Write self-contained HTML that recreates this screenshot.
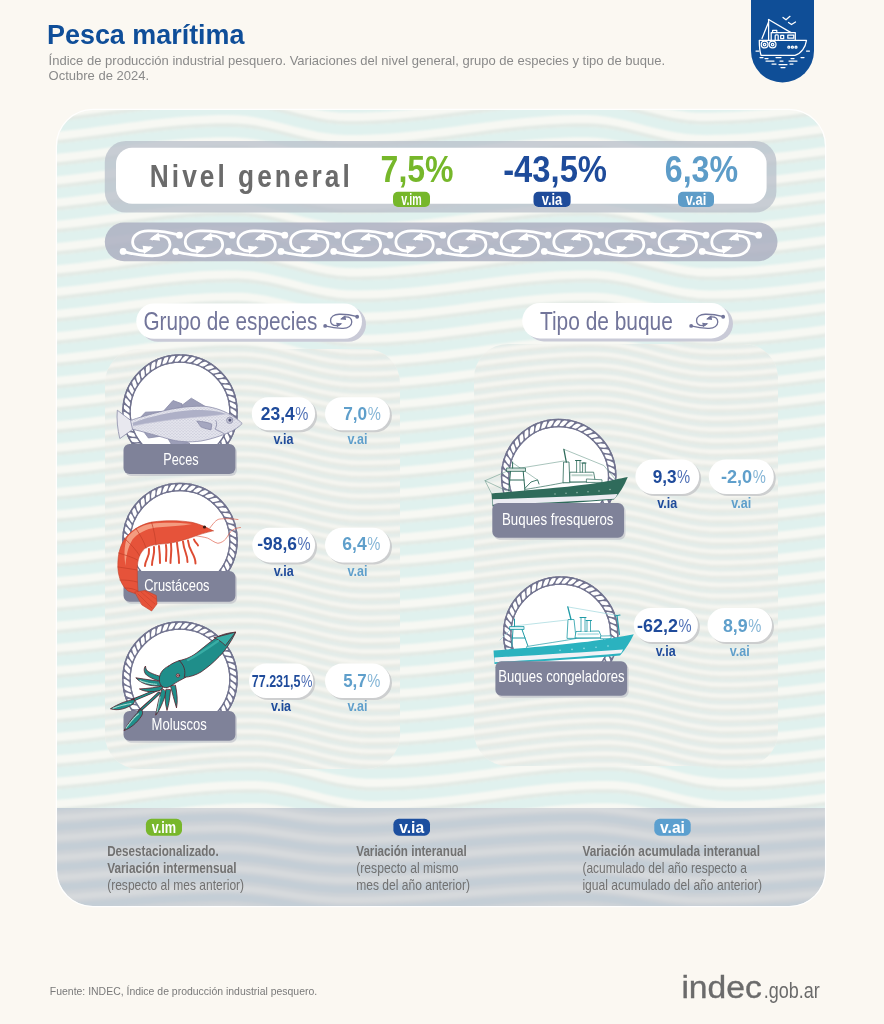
<!DOCTYPE html>
<html lang="es"><head><meta charset="utf-8"><title>Pesca marítima</title>
<style>
html,body{margin:0;padding:0;background:#fbf8f2;}
body{width:884px;height:1024px;overflow:hidden;}
svg{display:block;}
text{font-family:"Liberation Sans",sans-serif;}
</style></head><body>
<svg width="884" height="1024" viewBox="0 0 884 1024">
<rect width="884" height="1024" fill="#fbf8f2"/>
<text x="47.0" y="43.6" font-size="27" fill="#0f4e99" font-weight="700" text-anchor="start" textLength="197.5" lengthAdjust="spacingAndGlyphs" >Pesca marítima</text>
<text x="48.6" y="64.8" font-size="13" fill="#8a8a8a" font-weight="400" text-anchor="start" textLength="616.5" lengthAdjust="spacingAndGlyphs" >Índice de producción industrial pesquero. Variaciones del nivel general, grupo de especies y tipo de buque.</text>
<text x="48.6" y="80.0" font-size="13" fill="#8a8a8a" font-weight="400" text-anchor="start" >Octubre de 2024.</text>
<path d="M751,0 H814 V51 A31.5,31.5 0 0 1 751,51 Z" fill="#0f4e97"/>
<g fill="none" stroke="#ffffff" stroke-width="1.25" stroke-linecap="round" stroke-linejoin="round"><path d="M759.3,40.3 L806.5,40.3 C805.5,47 801.5,53.5 795,55.3 L761,55.3 C759.8,51.5 759.3,46 759.3,40.3 Z"/><path d="M771.2,40.3 L771.2,32.6 L795.3,32.6 L795.3,40.3"/><path d="M772.6,32.6 L772.6,30.4 L776.8,30.4 L776.8,32.6"/><path d="M775.2,40.3 L775.2,35.6 C775.2,34.6 778.2,34.6 778.2,35.6 L778.2,40.3"/><rect x="780.7" y="35.4" width="3" height="3.2"/><rect x="787.8" y="35.2" width="6" height="3"/><path d="M768.6,19.5 L768.6,40.3"/><path d="M768.6,19.5 L791,32.6"/><path d="M768.6,22 L762,38.5"/><circle cx="764.6" cy="44.6" r="3.4"/><circle cx="772.6" cy="44.6" r="3.4"/><circle cx="764.6" cy="44.6" r="1.3"/><circle cx="772.6" cy="44.6" r="1.3"/><circle cx="788.8" cy="47.2" r="1"/><circle cx="792.4" cy="47.2" r="1"/><circle cx="796" cy="47.2" r="1"/><path d="M783,17.5 L786,19.8 L790,16.3"/><path d="M788.5,22.5 L791.5,24.6 L795.5,22"/><path d="M756,51 L759,51 M806.5,51 L809.5,51 M760,57.5 L763,57.5 M765,58.5 L768,58.5 M776,57.5 L781,57.5 M791,58.5 L794,58.5 M801,57.5 L804,57.5 M766,61 L774,61 M780,61 L783,61 M789,61 L797,61 M772,64 L776,64 M779,64.5 L787,64.5 M790,64 L793,64 M781,67.5 L785,67.5"/></g>
<filter id="soft" x="-5%" y="-5%" width="110%" height="110%"><feGaussianBlur stdDeviation="0.9"/></filter>
<clipPath id="pc"><rect x="57" y="110" width="768" height="796" rx="36"/></clipPath>
<g clip-path="url(#pc)">
<rect x="57" y="110" width="768" height="796" fill="#f7f8f3"/>
<g filter="url(#soft)">
<path d="M47,53.7L57,52.7L67,51.6L77,50.5L87,49.2L97,47.9L107,46.6L117,45.2L127,43.9L137,42.7L147,41.4L157,40.3L167,39.3L177,38.4L187,37.7L197,37.1L207,36.6L217,36.4L227,36.3L237,36.7L247,37.7L257,39.3L267,41.4L277,43.8L287,46.4L297,49.0L307,51.4L317,53.4L327,55.0L337,56.0L347,56.3L357,56.2L367,55.9L377,55.5L387,54.9L397,54.1L407,53.2L417,52.2L427,51.1L437,49.8L447,48.6L457,47.2L467,45.9L477,44.6L487,43.3L497,42.0L507,40.9L517,39.8L527,38.8L537,38.0L547,37.4L557,36.8L567,36.5L577,36.3L587,36.4L597,37.1L607,38.4L617,40.3L627,42.6L637,45.1L647,47.7L657,50.2L667,52.5L677,54.3L687,55.6L697,56.2L707,56.3L717,56.1L727,55.7L737,55.2L747,54.5L757,53.7L767,52.7L777,51.6L787,50.5L797,49.2L807,47.9L817,46.6L827,45.2M47,76.0L57,75.0L67,73.9L77,72.8L87,71.5L97,70.2L107,68.9L117,67.6L127,66.2L137,65.0L147,63.7L157,62.6L167,61.6L177,60.7L187,59.9L197,59.3L207,58.9L217,58.6L227,58.5L237,58.8L247,59.8L257,61.4L267,63.4L277,65.8L287,68.4L297,71.0L307,73.4L317,75.5L327,77.1L337,78.1L347,78.5L357,78.4L367,78.2L377,77.7L387,77.1L397,76.4L407,75.5L417,74.5L427,73.4L437,72.1L447,70.9L457,69.6L467,68.2L477,66.9L487,65.6L497,64.3L507,63.2L517,62.1L527,61.1L537,60.3L547,59.6L557,59.1L567,58.7L577,58.5L587,58.6L597,59.2L607,60.5L617,62.3L627,64.6L637,67.1L647,69.7L657,72.2L667,74.5L677,76.4L687,77.7L697,78.4L707,78.5L717,78.3L727,78.0L737,77.4L747,76.8L757,76.0L767,75.0L777,73.9L787,72.8L797,71.5L807,70.2L817,68.9L827,67.6M47,98.2L57,97.3L67,96.2L77,95.1L87,93.8L97,92.5L107,91.2L117,89.9L127,88.5L137,87.3L147,86.0L157,84.9L167,83.9L177,83.0L187,82.2L197,81.6L207,81.1L217,80.8L227,80.7L237,81.0L247,81.9L257,83.4L267,85.4L277,87.8L287,90.4L297,93.0L307,95.4L317,97.5L327,99.2L337,100.3L347,100.7L357,100.6L367,100.4L377,100.0L387,99.4L397,98.6L407,97.8L417,96.8L427,95.6L437,94.4L447,93.2L457,91.9L467,90.5L477,89.2L487,87.9L497,86.6L507,85.5L517,84.4L527,83.4L537,82.5L547,81.8L557,81.3L567,80.9L577,80.7L587,80.7L597,81.3L607,82.6L617,84.4L627,86.6L637,89.1L647,91.7L657,94.2L667,96.5L677,98.4L687,99.8L697,100.6L707,100.7L717,100.5L727,100.2L737,99.7L747,99.0L757,98.2L767,97.3L777,96.2L787,95.1L797,93.8L807,92.5L817,91.2L827,89.9M47,120.5L57,119.6L67,118.5L77,117.4L87,116.1L97,114.8L107,113.5L117,112.2L127,110.8L137,109.6L147,108.3L157,107.2L167,106.1L177,105.2L187,104.4L197,103.8L207,103.3L217,103.0L227,102.9L237,103.1L247,104.0L257,105.5L267,107.5L277,109.8L287,112.4L297,115.0L307,117.4L317,119.6L327,121.3L337,122.4L347,122.9L357,122.8L367,122.6L377,122.2L387,121.6L397,120.9L407,120.0L417,119.0L427,117.9L437,116.7L447,115.5L457,114.2L467,112.8L477,111.5L487,110.2L497,108.9L507,107.7L517,106.7L527,105.7L537,104.8L547,104.1L557,103.5L567,103.2L577,102.9L587,102.9L597,103.5L607,104.7L617,106.4L627,108.6L637,111.1L647,113.7L657,116.2L667,118.6L677,120.5L687,121.9L697,122.7L707,122.9L717,122.7L727,122.4L737,121.9L747,121.3L757,120.5L767,119.6L777,118.5L787,117.4L797,116.1L807,114.8L817,113.5L827,112.2M47,142.8L57,141.8L67,140.8L77,139.6L87,138.4L97,137.1L107,135.8L117,134.5L127,133.1L137,131.9L147,130.6L157,129.5L167,128.4L177,127.5L187,126.7L197,126.0L207,125.6L217,125.2L227,125.1L237,125.3L247,126.1L257,127.5L267,129.5L277,131.8L287,134.4L297,137.0L307,139.5L317,141.6L327,143.4L337,144.5L347,145.1L357,145.1L367,144.8L377,144.4L387,143.9L397,143.2L407,142.3L417,141.3L427,140.2L437,139.0L447,137.8L457,136.5L467,135.1L477,133.8L487,132.5L497,131.2L507,130.0L517,128.9L527,127.9L537,127.1L547,126.3L557,125.8L567,125.4L577,125.2L587,125.1L597,125.6L607,126.7L617,128.4L627,130.6L637,133.1L647,135.7L657,138.2L667,140.6L677,142.6L687,144.0L697,144.9L707,145.1L717,145.0L727,144.7L737,144.2L747,143.6L757,142.8L767,141.8L777,140.8L787,139.6L797,138.4L807,137.1L817,135.8L827,134.5M47,165.0L57,164.1L67,163.1L77,161.9L87,160.7L97,159.4L107,158.1L117,156.8L127,155.5L137,154.2L147,152.9L157,151.8L167,150.7L177,149.8L187,149.0L197,148.3L207,147.8L217,147.5L227,147.3L237,147.4L247,148.2L257,149.6L267,151.5L277,153.8L287,156.4L297,159.0L307,161.5L317,163.7L327,165.5L337,166.7L347,167.3L357,167.3L367,167.1L377,166.7L387,166.1L397,165.4L407,164.6L417,163.6L427,162.5L437,161.3L447,160.1L457,158.8L467,157.4L477,156.1L487,154.8L497,153.5L507,152.3L517,151.2L527,150.2L537,149.3L547,148.6L557,148.0L567,147.6L577,147.4L587,147.3L597,147.7L607,148.8L617,150.5L627,152.6L637,155.1L647,157.7L657,160.2L667,162.6L677,164.6L687,166.1L697,167.0L707,167.3L717,167.2L727,166.9L737,166.4L747,165.8L757,165.0L767,164.1L777,163.1L787,161.9L797,160.7L807,159.4L817,158.1L827,156.8M47,187.3L57,186.4L67,185.4L77,184.2L87,183.0L97,181.7L107,180.4L117,179.1L127,177.8L137,176.5L147,175.2L157,174.1L167,173.0L177,172.0L187,171.2L197,170.5L207,170.0L217,169.7L227,169.5L237,169.6L247,170.3L257,171.7L267,173.5L277,175.8L287,178.4L297,181.0L307,183.5L317,185.7L327,187.5L337,188.8L347,189.4L357,189.5L367,189.3L377,188.9L387,188.4L397,187.7L407,186.9L417,185.9L427,184.8L437,183.6L447,182.4L457,181.1L467,179.8L477,178.4L487,177.1L497,175.8L507,174.6L517,173.5L527,172.5L537,171.6L547,170.9L557,170.3L567,169.8L577,169.6L587,169.5L597,169.9L607,170.9L617,172.5L627,174.6L637,177.1L647,179.7L657,182.2L667,184.6L677,186.7L687,188.2L697,189.2L707,189.5L717,189.4L727,189.1L737,188.7L747,188.1L757,187.3L767,186.4L777,185.4L787,184.2L797,183.0L807,181.7L817,180.4L827,179.1M47,209.6L57,208.7L67,207.7L77,206.5L87,205.3L97,204.0L107,202.7L117,201.4L127,200.1L137,198.8L147,197.5L157,196.3L167,195.3L177,194.3L187,193.5L197,192.8L207,192.3L217,191.9L227,191.7L237,191.8L247,192.4L257,193.7L267,195.6L277,197.8L287,200.3L297,203.0L307,205.5L317,207.7L327,209.6L337,210.9L347,211.6L357,211.7L367,211.5L377,211.2L387,210.6L397,210.0L407,209.1L417,208.2L427,207.1L437,205.9L447,204.7L457,203.4L467,202.1L477,200.7L487,199.4L497,198.1L507,196.9L517,195.8L527,194.8L537,193.9L547,193.1L557,192.5L567,192.1L577,191.8L587,191.7L597,192.0L607,193.0L617,194.6L627,196.7L637,199.1L647,201.6L657,204.2L667,206.7L677,208.7L687,210.3L697,211.3L707,211.7L717,211.6L727,211.4L737,210.9L747,210.3L757,209.6L767,208.7L777,207.7L787,206.5L797,205.3L807,204.0L817,202.7L827,201.4M47,231.8L57,230.9L67,229.9L77,228.8L87,227.6L97,226.3L107,225.0L117,223.7L127,222.4L137,221.1L147,219.8L157,218.6L167,217.5L177,216.6L187,215.7L197,215.0L207,214.5L217,214.1L227,213.9L237,214.0L247,214.6L257,215.8L267,217.6L277,219.8L287,222.3L297,224.9L307,227.5L317,229.8L327,231.7L337,233.0L347,233.8L357,233.9L367,233.7L377,233.4L387,232.9L397,232.2L407,231.4L417,230.5L427,229.4L437,228.2L447,227.0L457,225.7L467,224.4L477,223.0L487,221.7L497,220.4L507,219.2L517,218.1L527,217.0L537,216.1L547,215.4L557,214.7L567,214.3L577,214.0L587,213.9L597,214.2L607,215.1L617,216.6L627,218.7L637,221.1L647,223.6L657,226.2L667,228.7L677,230.8L687,232.4L697,233.5L707,233.9L717,233.8L727,233.6L737,233.2L747,232.6L757,231.8L767,230.9L777,229.9L787,228.8L797,227.6L807,226.3L817,225.0L827,223.7M47,254.1L57,253.2L67,252.2L77,251.1L87,249.9L97,248.7L107,247.3L117,246.0L127,244.7L137,243.4L147,242.1L157,240.9L167,239.8L177,238.8L187,238.0L197,237.3L207,236.7L217,236.4L227,236.1L237,236.1L247,236.7L257,237.9L267,239.6L277,241.8L287,244.3L297,246.9L307,249.5L317,251.8L327,253.7L337,255.1L347,255.9L357,256.1L367,255.9L377,255.6L387,255.1L397,254.5L407,253.7L417,252.7L427,251.7L437,250.5L447,249.3L457,248.0L467,246.7L477,245.3L487,244.0L497,242.7L507,241.5L517,240.4L527,239.3L537,238.4L547,237.6L557,237.0L567,236.5L577,236.2L587,236.1L597,236.3L607,237.2L617,238.7L627,240.7L637,243.1L647,245.6L657,248.2L667,250.7L677,252.8L687,254.5L697,255.6L707,256.1L717,256.0L727,255.8L737,255.4L747,254.8L757,254.1L767,253.2L777,252.2L787,251.1L797,249.9L807,248.7L817,247.3L827,246.0M47,276.4L57,275.5L67,274.5L77,273.4L87,272.2L97,271.0L107,269.6L117,268.3L127,267.0L137,265.7L147,264.4L157,263.2L167,262.1L177,261.1L187,260.3L197,259.5L207,259.0L217,258.6L227,258.4L237,258.3L247,258.8L257,260.0L267,261.7L277,263.9L287,266.3L297,268.9L307,271.5L317,273.8L327,275.8L337,277.3L347,278.1L357,278.3L367,278.2L377,277.9L387,277.4L397,276.7L407,275.9L417,275.0L427,274.0L437,272.8L447,271.6L457,270.3L467,269.0L477,267.6L487,266.3L497,265.0L507,263.8L517,262.7L527,261.6L537,260.7L547,259.9L557,259.2L567,258.8L577,258.4L587,258.3L597,258.5L607,259.3L617,260.8L627,262.7L637,265.1L647,267.6L657,270.2L667,272.7L677,274.9L687,276.6L697,277.8L707,278.3L717,278.3L727,278.0L737,277.6L747,277.1L757,276.4L767,275.5L777,274.5L787,273.4L797,272.2L807,271.0L817,269.6L827,268.3M47,298.6L57,297.8L67,296.8L77,295.7L87,294.5L97,293.3L107,292.0L117,290.6L127,289.3L137,288.0L147,286.7L157,285.5L167,284.4L177,283.4L187,282.5L197,281.8L207,281.2L217,280.8L227,280.6L237,280.5L247,281.0L257,282.1L267,283.7L277,285.9L287,288.3L297,290.9L307,293.5L317,295.9L327,297.9L337,299.4L347,300.3L357,300.5L367,300.4L377,300.1L387,299.6L397,299.0L407,298.2L417,297.3L427,296.3L437,295.1L447,293.9L457,292.6L467,291.3L477,290.0L487,288.6L497,287.3L507,286.1L517,284.9L527,283.9L537,282.9L547,282.1L557,281.5L567,281.0L577,280.7L587,280.5L597,280.6L607,281.4L617,282.8L627,284.7L637,287.1L647,289.6L657,292.2L667,294.7L677,296.9L687,298.7L697,299.9L707,300.5L717,300.5L727,300.3L737,299.9L747,299.3L757,298.6L767,297.8L777,296.8L787,295.7L797,294.5L807,293.3L817,292.0L827,290.6M47,320.9L57,320.0L67,319.1L77,318.0L87,316.8L97,315.6L107,314.3L117,312.9L127,311.6L137,310.3L147,309.0L157,307.8L167,306.7L177,305.7L187,304.8L197,304.0L207,303.5L217,303.0L227,302.8L237,302.7L247,303.1L257,304.1L267,305.8L277,307.9L287,310.3L297,312.9L307,315.5L317,317.9L327,319.9L337,321.5L347,322.4L357,322.7L367,322.6L377,322.3L387,321.9L397,321.2L407,320.5L417,319.6L427,318.5L437,317.4L447,316.2L457,314.9L467,313.6L477,312.3L487,310.9L497,309.6L507,308.4L517,307.2L527,306.2L537,305.2L547,304.4L557,303.7L567,303.2L577,302.9L587,302.7L597,302.8L607,303.5L617,304.9L627,306.8L637,309.1L647,311.6L657,314.2L667,316.7L677,319.0L687,320.8L697,322.0L707,322.6L717,322.7L727,322.5L737,322.1L747,321.6L757,320.9L767,320.0L777,319.1L787,318.0L797,316.8L807,315.6L817,314.3L827,312.9M47,343.1L57,342.3L67,341.4L77,340.3L87,339.1L97,337.9L107,336.6L117,335.2L127,333.9L137,332.6L147,331.3L157,330.1L167,329.0L177,327.9L187,327.1L197,326.3L207,325.7L217,325.3L227,325.0L237,324.9L247,325.2L257,326.2L267,327.8L277,329.9L287,332.3L297,334.9L307,337.5L317,339.9L327,342.0L337,343.6L347,344.6L357,344.9L367,344.8L377,344.5L387,344.1L397,343.5L407,342.7L417,341.9L427,340.8L437,339.7L447,338.5L457,337.2L467,335.9L477,334.6L487,333.2L497,331.9L507,330.7L517,329.5L527,328.4L537,327.5L547,326.7L557,326.0L567,325.5L577,325.1L587,324.9L597,325.0L607,325.7L617,327.0L627,328.8L637,331.1L647,333.6L657,336.2L667,338.7L677,341.0L687,342.8L697,344.1L707,344.8L717,344.9L727,344.7L737,344.3L747,343.8L757,343.1L767,342.3L777,341.4L787,340.3L797,339.1L807,337.9L817,336.6L827,335.2M47,365.4L57,364.6L67,363.6L77,362.6L87,361.4L97,360.2L107,358.9L117,357.5L127,356.2L137,354.9L147,353.6L157,352.4L167,351.3L177,350.2L187,349.3L197,348.6L207,347.9L217,347.5L227,347.2L237,347.1L247,347.4L257,348.3L267,349.9L277,351.9L287,354.3L297,356.9L307,359.5L317,361.9L327,364.0L337,365.7L347,366.7L357,367.1L367,367.0L377,366.8L387,366.3L397,365.8L407,365.0L417,364.1L427,363.1L437,362.0L447,360.8L457,359.5L467,358.2L477,356.9L487,355.5L497,354.2L507,353.0L517,351.8L527,350.7L537,349.8L547,348.9L557,348.2L567,347.7L577,347.3L587,347.1L597,347.2L607,347.8L617,349.0L627,350.8L637,353.1L647,355.6L657,358.2L667,360.7L677,363.0L687,364.9L697,366.3L707,367.0L717,367.1L727,366.9L737,366.6L747,366.1L757,365.4L767,364.6L777,363.6L787,362.6L797,361.4L807,360.2L817,358.9L827,357.5M47,387.7L57,386.9L67,385.9L77,384.9L87,383.7L97,382.5L107,381.2L117,379.8L127,378.5L137,377.2L147,375.9L157,374.7L167,373.5L177,372.5L187,371.6L197,370.8L207,370.2L217,369.7L227,369.4L237,369.3L247,369.5L257,370.4L267,371.9L277,373.9L287,376.3L297,378.9L307,381.5L317,383.9L327,386.1L337,387.7L347,388.8L357,389.3L367,389.2L377,389.0L387,388.6L397,388.0L407,387.3L417,386.4L427,385.4L437,384.3L447,383.1L457,381.8L467,380.5L477,379.2L487,377.8L497,376.5L507,375.3L517,374.1L527,373.0L537,372.0L547,371.2L557,370.5L567,369.9L577,369.5L587,369.3L597,369.3L607,369.9L617,371.1L627,372.9L637,375.1L647,377.6L657,380.2L667,382.7L677,385.1L687,387.0L697,388.4L707,389.2L717,389.3L727,389.1L737,388.8L747,388.3L757,387.7L767,386.9L777,385.9L787,384.9L797,383.7L807,382.5L817,381.2L827,379.8M47,409.9L57,409.1L67,408.2L77,407.1L87,406.0L97,404.8L107,403.5L117,402.2L127,400.8L137,399.5L147,398.2L157,397.0L167,395.8L177,394.8L187,393.9L197,393.1L207,392.4L217,391.9L227,391.6L237,391.5L247,391.7L257,392.5L267,394.0L277,396.0L287,398.3L297,400.9L307,403.5L317,405.9L327,408.1L337,409.8L347,411.0L357,411.5L367,411.4L377,411.2L387,410.8L397,410.3L407,409.5L417,408.7L427,407.7L437,406.6L447,405.4L457,404.1L467,402.8L477,401.5L487,400.2L497,398.8L507,397.6L517,396.4L527,395.3L537,394.3L547,393.4L557,392.7L567,392.2L577,391.8L587,391.5L597,391.5L607,392.0L617,393.2L627,394.9L637,397.1L647,399.6L657,402.2L667,404.7L677,407.1L687,409.0L697,410.5L707,411.3L717,411.5L727,411.4L737,411.0L747,410.6L757,409.9L767,409.1L777,408.2L787,407.1L797,406.0L807,404.8L817,403.5L827,402.2M47,432.2L57,431.4L67,430.5L77,429.4L87,428.3L97,427.1L107,425.8L117,424.5L127,423.1L137,421.8L147,420.5L157,419.3L167,418.1L177,417.1L187,416.1L197,415.3L207,414.7L217,414.2L227,413.9L237,413.7L247,413.9L257,414.7L267,416.1L277,418.0L287,420.3L297,422.9L307,425.5L317,428.0L327,430.2L337,431.9L347,433.1L357,433.7L367,433.7L377,433.4L387,433.1L397,432.5L407,431.8L417,431.0L427,430.0L437,428.9L447,427.7L457,426.4L467,425.1L477,423.8L487,422.5L497,421.1L507,419.9L517,418.7L527,417.6L537,416.6L547,415.7L557,415.0L567,414.4L577,414.0L587,413.8L597,413.7L607,414.2L617,415.3L627,417.0L637,419.1L647,421.6L657,424.2L667,426.7L677,429.1L687,431.1L697,432.6L707,433.5L717,433.7L727,433.6L737,433.3L747,432.8L757,432.2L767,431.4L777,430.5L787,429.4L797,428.3L807,427.1L817,425.8L827,424.5M47,454.4L57,453.7L67,452.8L77,451.7L87,450.6L97,449.4L107,448.1L117,446.8L127,445.4L137,444.1L147,442.8L157,441.6L167,440.4L177,439.3L187,438.4L197,437.6L207,436.9L217,436.4L227,436.1L237,435.9L247,436.0L257,436.8L267,438.1L277,440.0L287,442.3L297,444.9L307,447.5L317,450.0L327,452.2L337,454.0L347,455.2L357,455.8L367,455.9L377,455.7L387,455.3L397,454.8L407,454.1L417,453.2L427,452.3L437,451.2L447,450.0L457,448.7L467,447.4L477,446.1L487,444.8L497,443.5L507,442.2L517,441.0L527,439.9L537,438.9L547,438.0L557,437.2L567,436.6L577,436.2L587,436.0L597,435.9L607,436.3L617,437.4L627,439.0L637,441.1L647,443.6L657,446.2L667,448.7L677,451.1L687,453.2L697,454.7L707,455.6L717,455.9L727,455.8L737,455.5L747,455.1L757,454.4L767,453.7L777,452.8L787,451.7L797,450.6L807,449.4L817,448.1L827,446.8M47,476.7L57,475.9L67,475.0L77,474.0L87,472.9L97,471.7L107,470.4L117,469.1L127,467.7L137,466.4L147,465.1L157,463.9L167,462.7L177,461.6L187,460.7L197,459.8L207,459.2L217,458.6L227,458.3L237,458.1L247,458.2L257,458.9L267,460.2L277,462.1L287,464.3L297,466.8L307,469.5L317,472.0L327,474.2L337,476.1L347,477.4L357,478.0L367,478.1L377,477.9L387,477.5L397,477.0L407,476.3L417,475.5L427,474.5L437,473.5L447,472.3L457,471.0L467,469.7L477,468.4L487,467.1L497,465.8L507,464.5L517,463.3L527,462.1L537,461.1L547,460.2L557,459.5L567,458.9L577,458.4L587,458.2L597,458.1L607,458.5L617,459.5L627,461.1L637,463.1L647,465.6L657,468.2L667,470.7L677,473.1L687,475.2L697,476.8L707,477.8L717,478.1L727,478.0L737,477.7L747,477.3L757,476.7L767,475.9L777,475.0L787,474.0L797,472.9L807,471.7L817,470.4L827,469.1M47,498.9L57,498.2L67,497.3L77,496.3L87,495.2L97,494.0L107,492.7L117,491.4L127,490.0L137,488.7L147,487.4L157,486.2L167,485.0L177,483.9L187,482.9L197,482.1L207,481.4L217,480.9L227,480.5L237,480.3L247,480.4L257,481.0L267,482.3L277,484.1L287,486.3L297,488.8L307,491.4L317,494.0L327,496.3L337,498.1L347,499.5L357,500.2L367,500.3L377,500.1L387,499.8L397,499.3L407,498.6L417,497.8L427,496.8L437,495.7L447,494.6L457,493.3L467,492.0L477,490.7L487,489.4L497,488.1L507,486.8L517,485.6L527,484.4L537,483.4L547,482.5L557,481.7L567,481.1L577,480.7L587,480.4L597,480.3L607,480.6L617,481.6L627,483.1L637,485.2L647,487.6L657,490.1L667,492.7L677,495.2L687,497.3L697,498.9L707,499.9L717,500.3L727,500.2L737,500.0L747,499.5L757,498.9L767,498.2L777,497.3L787,496.3L797,495.2L807,494.0L817,492.7L827,491.4M47,521.2L57,520.5L67,519.6L77,518.6L87,517.5L97,516.3L107,515.0L117,513.7L127,512.4L137,511.0L147,509.7L157,508.5L167,507.3L177,506.2L187,505.2L197,504.4L207,503.7L217,503.1L227,502.7L237,502.5L247,502.5L257,503.1L267,504.3L277,506.1L287,508.3L297,510.8L307,513.4L317,516.0L327,518.3L337,520.2L347,521.6L357,522.4L367,522.5L377,522.3L387,522.0L397,521.5L407,520.8L417,520.0L427,519.1L437,518.0L447,516.9L457,515.6L467,514.3L477,513.0L487,511.7L497,510.4L507,509.1L517,507.9L527,506.7L537,505.7L547,504.8L557,504.0L567,503.4L577,502.9L587,502.6L597,502.5L607,502.8L617,503.7L627,505.2L637,507.2L647,509.6L657,512.1L667,514.7L677,517.2L687,519.3L697,521.0L707,522.1L717,522.5L727,522.4L737,522.2L747,521.8L757,521.2L767,520.5L777,519.6L787,518.6L797,517.5L807,516.3L817,515.0L827,513.7M47,543.5L57,542.7L67,541.9L77,540.9L87,539.8L97,538.6L107,537.3L117,536.0L127,534.7L137,533.3L147,532.0L157,530.8L167,529.6L177,528.5L187,527.5L197,526.6L207,525.9L217,525.4L227,525.0L237,524.7L247,524.7L257,525.3L267,526.4L277,528.2L287,530.3L297,532.8L307,535.4L317,538.0L327,540.3L337,542.3L347,543.7L357,544.5L367,544.7L377,544.6L387,544.2L397,543.8L407,543.1L417,542.3L427,541.4L437,540.3L447,539.2L457,537.9L467,536.7L477,535.3L487,534.0L497,532.7L507,531.4L517,530.2L527,529.0L537,528.0L547,527.0L557,526.2L567,525.6L577,525.1L587,524.8L597,524.7L607,524.9L617,525.8L627,527.2L637,529.2L647,531.6L657,534.1L667,536.7L677,539.2L687,541.4L697,543.1L707,544.2L717,544.7L727,544.6L737,544.4L747,544.0L757,543.5L767,542.7L777,541.9L787,540.9L797,539.8L807,538.6L817,537.3L827,536.0M47,565.7L57,565.0L67,564.1L77,563.1L87,562.1L97,560.9L107,559.6L117,558.3L127,557.0L137,555.6L147,554.3L157,553.1L167,551.9L177,550.8L187,549.8L197,548.9L207,548.2L217,547.6L227,547.2L237,547.0L247,546.9L257,547.4L267,548.5L277,550.2L287,552.4L297,554.8L307,557.4L317,560.0L327,562.3L337,564.3L347,565.8L357,566.7L367,566.9L377,566.8L387,566.5L397,566.0L407,565.4L417,564.6L427,563.7L437,562.6L447,561.5L457,560.2L467,559.0L477,557.6L487,556.3L497,555.0L507,553.7L517,552.4L527,551.3L537,550.2L547,549.3L557,548.5L567,547.9L577,547.4L587,547.1L597,546.9L607,547.1L617,547.9L627,549.3L637,551.2L647,553.6L657,556.1L667,558.7L677,561.2L687,563.4L697,565.1L707,566.3L717,566.9L727,566.9L737,566.6L747,566.3L757,565.7L767,565.0L777,564.1L787,563.1L797,562.1L807,560.9L817,559.6L827,558.3M47,588.0L57,587.3L67,586.4L77,585.4L87,584.3L97,583.2L107,581.9L117,580.6L127,579.3L137,577.9L147,576.6L157,575.4L167,574.2L177,573.0L187,572.0L197,571.2L207,570.4L217,569.8L227,569.4L237,569.2L247,569.1L257,569.5L267,570.6L277,572.3L287,574.4L297,576.8L307,579.4L317,582.0L327,584.4L337,586.4L347,587.9L357,588.8L367,589.1L377,589.0L387,588.7L397,588.2L407,587.6L417,586.8L427,585.9L437,584.9L447,583.8L457,582.5L467,581.3L477,579.9L487,578.6L497,577.3L507,576.0L517,574.7L527,573.6L537,572.5L547,571.6L557,570.8L567,570.1L577,569.6L587,569.3L597,569.1L607,569.2L617,570.0L627,571.4L637,573.3L647,575.6L657,578.1L667,580.7L677,583.2L687,585.4L697,587.2L707,588.5L717,589.1L727,589.1L737,588.9L747,588.5L757,588.0L767,587.3L777,586.4L787,585.4L797,584.3L807,583.2L817,581.9L827,580.6M47,610.2L57,609.5L67,608.7L77,607.7L87,606.6L97,605.5L107,604.2L117,602.9L127,601.6L137,600.2L147,598.9L157,597.7L167,596.4L177,595.3L187,594.3L197,593.4L207,592.7L217,592.1L227,591.6L237,591.4L247,591.3L257,591.7L267,592.7L277,594.3L287,596.4L297,598.8L307,601.4L317,604.0L327,606.4L337,608.4L347,610.0L357,611.0L367,611.3L377,611.2L387,610.9L397,610.5L407,609.9L417,609.1L427,608.2L437,607.2L447,606.1L457,604.8L467,603.6L477,602.2L487,600.9L497,599.6L507,598.3L517,597.0L527,595.9L537,594.8L547,593.8L557,593.0L567,592.4L577,591.8L587,591.5L597,591.3L607,591.4L617,592.1L627,593.4L637,595.3L647,597.6L657,600.1L667,602.7L677,605.2L687,607.5L697,609.3L707,610.6L717,611.2L727,611.3L737,611.1L747,610.7L757,610.2L767,609.5L777,608.7L787,607.7L797,606.6L807,605.5L817,604.2L827,602.9M47,632.4L57,631.8L67,631.0L77,630.0L87,628.9L97,627.8L107,626.5L117,625.2L127,623.9L137,622.6L147,621.2L157,620.0L167,618.7L177,617.6L187,616.6L197,615.7L207,614.9L217,614.3L227,613.9L237,613.6L247,613.5L257,613.8L267,614.8L277,616.4L287,618.4L297,620.8L307,623.4L317,626.0L327,628.4L337,630.5L347,632.1L357,633.1L367,633.5L377,633.4L387,633.2L397,632.7L407,632.1L417,631.4L427,630.5L437,629.5L447,628.4L457,627.1L467,625.9L477,624.6L487,623.2L497,621.9L507,620.6L517,619.3L527,618.2L537,617.1L547,616.1L557,615.3L567,614.6L577,614.1L587,613.7L597,613.5L607,613.6L617,614.2L627,615.5L637,617.3L647,619.6L657,622.1L667,624.7L677,627.2L687,629.5L697,631.4L707,632.7L717,633.4L727,633.5L737,633.3L747,633.0L757,632.4L767,631.8L777,631.0L787,630.0L797,628.9L807,627.8L817,626.5L827,625.2M47,654.7L57,654.0L67,653.2L77,652.3L87,651.2L97,650.1L107,648.8L117,647.5L127,646.2L137,644.9L147,643.5L157,642.3L167,641.0L177,639.9L187,638.9L197,638.0L207,637.2L217,636.6L227,636.1L237,635.8L247,635.7L257,636.0L267,636.9L277,638.4L287,640.4L297,642.8L307,645.4L317,648.0L327,650.4L337,652.5L347,654.2L357,655.3L367,655.7L377,655.6L387,655.4L397,655.0L407,654.4L417,653.6L427,652.8L437,651.8L447,650.6L457,649.4L467,648.2L477,646.9L487,645.5L497,644.2L507,642.9L517,641.6L527,640.5L537,639.4L547,638.4L557,637.5L567,636.8L577,636.3L587,635.9L597,635.7L607,635.7L617,636.3L627,637.6L637,639.4L647,641.6L657,644.1L667,646.7L677,649.2L687,651.5L697,653.4L707,654.8L717,655.6L727,655.7L737,655.5L747,655.2L757,654.7L767,654.0L777,653.2L787,652.3L797,651.2L807,650.1L817,648.8L827,647.5M47,676.9L57,676.3L67,675.5L77,674.6L87,673.5L97,672.4L107,671.1L117,669.8L127,668.5L137,667.2L147,665.8L157,664.6L167,663.3L177,662.2L187,661.1L197,660.2L207,659.4L217,658.8L227,658.3L237,658.0L247,657.9L257,658.1L267,659.0L277,660.5L287,662.5L297,664.8L307,667.4L317,670.0L327,672.4L337,674.6L347,676.3L357,677.4L367,677.9L377,677.8L387,677.6L397,677.2L407,676.6L417,675.9L427,675.0L437,674.0L447,672.9L457,671.7L467,670.5L477,669.2L487,667.8L497,666.5L507,665.2L517,663.9L527,662.7L537,661.7L547,660.7L557,659.8L567,659.1L577,658.5L587,658.2L597,657.9L607,657.9L617,658.5L627,659.7L637,661.4L647,663.6L657,666.1L667,668.7L677,671.2L687,673.6L697,675.5L707,676.9L717,677.7L727,677.9L737,677.7L747,677.4L757,676.9L767,676.3L777,675.5L787,674.6L797,673.5L807,672.4L817,671.1L827,669.8M47,699.2L57,698.6L67,697.8L77,696.8L87,695.8L97,694.6L107,693.4L117,692.1L127,690.8L137,689.5L147,688.1L157,686.9L167,685.6L177,684.5L187,683.4L197,682.5L207,681.7L217,681.0L227,680.6L237,680.2L247,680.1L257,680.3L267,681.1L277,682.5L287,684.5L297,686.8L307,689.4L317,692.0L327,694.5L337,696.6L347,698.4L357,699.5L367,700.1L377,700.1L387,699.8L397,699.4L407,698.9L417,698.2L427,697.3L437,696.3L447,695.2L457,694.0L467,692.8L477,691.5L487,690.1L497,688.8L507,687.5L517,686.2L527,685.0L537,683.9L547,682.9L557,682.1L567,681.3L577,680.8L587,680.4L597,680.2L607,680.1L617,680.6L627,681.7L637,683.4L647,685.6L657,688.1L667,690.7L677,693.2L687,695.6L697,697.6L707,699.0L717,699.9L727,700.1L737,700.0L747,699.7L757,699.2L767,698.6L777,697.8L787,696.8L797,695.8L807,694.6L817,693.4L827,692.1M47,721.4L57,720.8L67,720.0L77,719.1L87,718.1L97,716.9L107,715.7L117,714.4L127,713.1L137,711.8L147,710.5L157,709.2L167,707.9L177,706.8L187,705.7L197,704.8L207,704.0L217,703.3L227,702.8L237,702.5L247,702.3L257,702.4L267,703.2L277,704.6L287,706.5L297,708.8L307,711.4L317,714.0L327,716.5L337,718.7L347,720.5L357,721.7L367,722.3L377,722.3L387,722.1L397,721.7L407,721.1L417,720.4L427,719.6L437,718.6L447,717.5L457,716.3L467,715.1L477,713.8L487,712.4L497,711.1L507,709.8L517,708.5L527,707.3L537,706.2L547,705.2L557,704.3L567,703.6L577,703.0L587,702.6L597,702.4L607,702.3L617,702.7L627,703.8L637,705.5L647,707.6L657,710.1L667,712.7L677,715.2L687,717.6L697,719.6L707,721.1L717,722.0L727,722.3L737,722.2L747,721.9L757,721.4L767,720.8L777,720.0L787,719.1L797,718.1L807,716.9L817,715.7L827,714.4M47,743.7L57,743.1L67,742.3L77,741.4L87,740.4L97,739.2L107,738.0L117,736.7L127,735.4L137,734.1L147,732.8L157,731.5L167,730.2L177,729.1L187,728.0L197,727.0L207,726.2L217,725.5L227,725.0L237,724.7L247,724.5L257,724.6L267,725.3L277,726.7L287,728.5L297,730.8L307,733.4L317,736.0L327,738.5L337,740.7L347,742.5L357,743.8L367,744.4L377,744.5L387,744.3L397,743.9L407,743.4L417,742.7L427,741.9L437,740.9L447,739.8L457,738.6L467,737.4L477,736.1L487,734.8L497,733.4L507,732.1L517,730.8L527,729.6L537,728.5L547,727.5L557,726.6L567,725.9L577,725.3L587,724.8L597,724.6L607,724.5L617,724.9L627,725.9L637,727.5L647,729.6L657,732.1L667,734.7L677,737.2L687,739.6L697,741.7L707,743.2L717,744.2L727,744.5L737,744.4L747,744.1L757,743.7L767,743.1L777,742.3L787,741.4L797,740.4L807,739.2L817,738.0L827,736.7M47,765.9L57,765.3L67,764.6L77,763.7L87,762.7L97,761.5L107,760.3L117,759.0L127,757.7L137,756.4L147,755.1L157,753.8L167,752.5L177,751.3L187,750.3L197,749.3L207,748.5L217,747.8L227,747.3L237,746.9L247,746.7L257,746.8L267,747.4L277,748.7L287,750.6L297,752.8L307,755.3L317,758.0L327,760.5L337,762.7L347,764.6L357,765.9L367,766.6L377,766.7L387,766.5L397,766.2L407,765.6L417,765.0L427,764.1L437,763.2L447,762.1L457,760.9L467,759.7L477,758.4L487,757.1L497,755.7L507,754.4L517,753.1L527,751.9L537,750.8L547,749.8L557,748.9L567,748.1L577,747.5L587,747.1L597,746.8L607,746.7L617,747.0L627,748.0L637,749.6L647,751.7L657,754.1L667,756.6L677,759.2L687,761.7L697,763.7L707,765.3L717,766.3L727,766.7L737,766.6L747,766.4L757,765.9L767,765.3L777,764.6L787,763.7L797,762.7L807,761.5L817,760.3L827,759.0M47,788.2L57,787.6L67,786.8L77,785.9L87,784.9L97,783.8L107,782.6L117,781.3L127,780.0L137,778.7L147,777.4L157,776.1L167,774.8L177,773.6L187,772.5L197,771.6L207,770.7L217,770.0L227,769.5L237,769.1L247,768.9L257,769.0L267,769.6L277,770.8L287,772.6L297,774.8L307,777.3L317,779.9L327,782.5L337,784.8L347,786.7L357,788.0L367,788.8L377,788.9L387,788.7L397,788.4L407,787.9L417,787.2L427,786.4L437,785.5L447,784.4L457,783.2L467,782.0L477,780.7L487,779.4L497,778.0L507,776.7L517,775.4L527,774.2L537,773.1L547,772.0L557,771.1L567,770.4L577,769.7L587,769.3L597,769.0L607,768.9L617,769.2L627,770.1L637,771.6L647,773.7L657,776.1L667,778.6L677,781.2L687,783.7L697,785.8L707,787.4L717,788.5L727,788.9L737,788.8L747,788.6L757,788.2L767,787.6L777,786.8L787,785.9L797,784.9L807,783.8L817,782.6L827,781.3M47,810.4L57,809.8L67,809.1L77,808.2L87,807.2L97,806.1L107,804.9L117,803.7L127,802.3L137,801.0L147,799.7L157,798.4L167,797.1L177,795.9L187,794.8L197,793.8L207,793.0L217,792.3L227,791.7L237,791.4L247,791.1L257,791.1L267,791.7L277,792.9L287,794.6L297,796.8L307,799.3L317,801.9L327,804.5L337,806.8L347,808.7L357,810.1L367,810.9L377,811.1L387,810.9L397,810.6L407,810.1L417,809.5L427,808.7L437,807.7L447,806.7L457,805.5L467,804.3L477,803.0L487,801.7L497,800.3L507,799.0L517,797.7L527,796.5L537,795.4L547,794.3L557,793.4L567,792.6L577,792.0L587,791.5L597,791.2L607,791.1L617,791.3L627,792.2L637,793.7L647,795.7L657,798.1L667,800.6L677,803.2L687,805.7L697,807.8L707,809.5L717,810.6L727,811.1L737,811.0L747,810.8L757,810.4L767,809.8L777,809.1L787,808.2L797,807.2L807,806.1L817,804.9L827,803.7M47,832.6L57,832.1L67,831.4L77,830.5L87,829.5L97,828.4L107,827.2L117,826.0L127,824.6L137,823.3L147,822.0L157,820.7L167,819.4L177,818.2L187,817.1L197,816.1L207,815.3L217,814.5L227,814.0L237,813.6L247,813.4L257,813.3L267,813.8L277,815.0L287,816.7L297,818.9L307,821.3L317,823.9L327,826.5L337,828.8L347,830.8L357,832.3L367,833.1L377,833.3L387,833.2L397,832.9L407,832.4L417,831.7L427,830.9L437,830.0L447,829.0L457,827.8L467,826.6L477,825.3L487,824.0L497,822.6L507,821.3L517,820.0L527,818.8L537,817.7L547,816.6L557,815.7L567,814.9L577,814.2L587,813.8L597,813.4L607,813.3L617,813.5L627,814.3L637,815.8L647,817.7L657,820.1L667,822.6L677,825.2L687,827.7L697,829.9L707,831.6L717,832.8L727,833.3L737,833.3L747,833.0L757,832.6L767,832.1L777,831.4L787,830.5L797,829.5L807,828.4L817,827.2L827,826.0M47,854.9L57,854.3L67,853.6L77,852.8L87,851.8L97,850.7L107,849.5L117,848.3L127,847.0L137,845.6L147,844.3L157,843.0L167,841.7L177,840.5L187,839.4L197,838.4L207,837.5L217,836.8L227,836.2L237,835.8L247,835.6L257,835.5L267,836.0L277,837.1L287,838.7L297,840.9L307,843.3L317,845.9L327,848.5L337,850.9L347,852.9L357,854.4L367,855.3L377,855.5L387,855.4L397,855.1L407,854.6L417,854.0L427,853.2L437,852.3L447,851.3L457,850.1L467,848.9L477,847.6L487,846.3L497,845.0L507,843.6L517,842.3L527,841.1L537,839.9L547,838.9L557,837.9L567,837.1L577,836.5L587,836.0L597,835.7L607,835.5L617,835.6L627,836.4L637,837.8L647,839.7L657,842.1L667,844.6L677,847.2L687,849.7L697,851.9L707,853.7L717,854.9L727,855.5L737,855.5L747,855.3L757,854.9L767,854.3L777,853.6L787,852.8L797,851.8L807,850.7L817,849.5L827,848.3M47,877.1L57,876.6L67,875.9L77,875.0L87,874.1L97,873.0L107,871.8L117,870.6L127,869.3L137,867.9L147,866.6L157,865.3L167,864.0L177,862.8L187,861.7L197,860.7L207,859.8L217,859.0L227,858.5L237,858.0L247,857.8L257,857.7L267,858.1L277,859.1L287,860.8L297,862.9L307,865.3L317,867.9L327,870.5L337,872.9L347,874.9L357,876.5L367,877.4L377,877.7L387,877.6L397,877.3L407,876.9L417,876.2L427,875.5L437,874.6L447,873.5L457,872.4L467,871.2L477,869.9L487,868.6L497,867.3L507,865.9L517,864.6L527,863.4L537,862.2L547,861.2L557,860.2L567,859.4L577,858.7L587,858.2L597,857.9L607,857.7L617,857.8L627,858.5L637,859.9L647,861.8L657,864.1L667,866.6L677,869.2L687,871.7L697,874.0L707,875.8L717,877.0L727,877.6L737,877.7L747,877.5L757,877.1L767,876.6L777,875.9L787,875.0L797,874.1L807,873.0L817,871.8L827,870.6M47,899.3L57,898.8L67,898.1L77,897.3L87,896.4L97,895.3L107,894.1L117,892.9L127,891.6L137,890.2L147,888.9L157,887.6L167,886.3L177,885.1L187,884.0L197,882.9L207,882.1L217,881.3L227,880.7L237,880.3L247,880.0L257,879.9L267,880.2L277,881.2L287,882.8L297,884.9L307,887.3L317,889.9L327,892.5L337,894.9L347,897.0L357,898.6L367,899.6L377,899.9L387,899.8L397,899.5L407,899.1L417,898.5L427,897.7L437,896.9L447,895.8L457,894.7L467,893.5L477,892.2L487,890.9L497,889.6L507,888.2L517,886.9L527,885.7L537,884.5L547,883.4L557,882.5L567,881.7L577,881.0L587,880.5L597,880.1L607,879.9L617,880.0L627,880.7L637,882.0L647,883.8L657,886.1L667,888.6L677,891.2L687,893.7L697,896.0L707,897.8L717,899.1L727,899.8L737,899.9L747,899.7L757,899.3L767,898.8L777,898.1L787,897.3L797,896.4L807,895.3L817,894.1L827,892.9M47,921.6L57,921.1L67,920.4L77,919.6L87,918.6L97,917.6L107,916.4L117,915.2L127,913.9L137,912.5L147,911.2L157,909.9L167,908.6L177,907.4L187,906.3L197,905.2L207,904.3L217,903.6L227,902.9L237,902.5L247,902.2L257,902.1L267,902.4L277,903.3L287,904.9L297,906.9L307,909.3L317,911.9L327,914.5L337,916.9L347,919.0L357,920.7L367,921.7L377,922.1L387,922.0L397,921.8L407,921.3L417,920.8L427,920.0L437,919.1L447,918.1L457,917.0L467,915.8L477,914.5L487,913.2L497,911.9L507,910.5L517,909.2L527,908.0L537,906.8L547,905.7L557,904.8L567,903.9L577,903.2L587,902.7L597,902.3L607,902.1L617,902.2L627,902.8L637,904.0L647,905.8L657,908.1L667,910.6L677,913.2L687,915.7L697,918.0L707,919.9L717,921.3L727,922.0L737,922.1L747,921.9L757,921.6L767,921.1L777,920.4L787,919.6L797,918.6L807,917.6L817,916.4L827,915.2M47,943.8L57,943.3L67,942.7L77,941.9L87,940.9L97,939.9L107,938.7L117,937.5L127,936.2L137,934.8L147,933.5L157,932.2L167,930.9L177,929.7L187,928.5L197,927.5L207,926.6L217,925.8L227,925.2L237,924.7L247,924.4L257,924.3L267,924.5L277,925.4L287,926.9L297,928.9L307,931.3L317,933.9L327,936.5L337,938.9L347,941.1L357,942.7L367,943.8L377,944.3L387,944.2L397,944.0L407,943.6L417,943.0L427,942.3L437,941.4L447,940.4L457,939.3L467,938.1L477,936.8L487,935.5L497,934.2L507,932.8L517,931.5L527,930.3L537,929.1L547,928.0L557,927.0L567,926.2L577,925.5L587,924.9L597,924.5L607,924.3L617,924.3L627,924.9L637,926.1L647,927.9L657,930.1L667,932.6L677,935.2L687,937.7L697,940.1L707,942.0L717,943.4L727,944.2L737,944.3L747,944.1L757,943.8L767,943.3L777,942.7L787,941.9L797,940.9L807,939.9L817,938.7L827,937.5" fill="none" stroke="#e3eae5" stroke-width="3.8" stroke-linejoin="round"/>
<path d="M47,60.7L57,59.7L67,58.6L77,57.5L87,56.2L97,54.9L107,53.6L117,52.2L127,50.9L137,49.7L147,48.4L157,47.3L167,46.3L177,45.4L187,44.7L197,44.1L207,43.6L217,43.4L227,43.3L237,43.7L247,44.7L257,46.3L267,48.4L277,50.8L287,53.4L297,56.0L307,58.4L317,60.4L327,62.0L337,63.0L347,63.3L357,63.2L367,62.9L377,62.5L387,61.9L397,61.1L407,60.2L417,59.2L427,58.1L437,56.8L447,55.6L457,54.2L467,52.9L477,51.6L487,50.3L497,49.0L507,47.9L517,46.8L527,45.8L537,45.0L547,44.4L557,43.8L567,43.5L577,43.3L587,43.4L597,44.1L607,45.4L617,47.3L627,49.6L637,52.1L647,54.7L657,57.2L667,59.5L677,61.3L687,62.6L697,63.2L707,63.3L717,63.1L727,62.7L737,62.2L747,61.5L757,60.7L767,59.7L777,58.6L787,57.5L797,56.2L807,54.9L817,53.6L827,52.2M47,83.0L57,82.0L67,80.9L77,79.8L87,78.5L97,77.2L107,75.9L117,74.6L127,73.2L137,72.0L147,70.7L157,69.6L167,68.6L177,67.7L187,66.9L197,66.3L207,65.9L217,65.6L227,65.5L237,65.8L247,66.8L257,68.4L267,70.4L277,72.8L287,75.4L297,78.0L307,80.4L317,82.5L327,84.1L337,85.1L347,85.5L357,85.4L367,85.2L377,84.7L387,84.1L397,83.4L407,82.5L417,81.5L427,80.4L437,79.1L447,77.9L457,76.6L467,75.2L477,73.9L487,72.6L497,71.3L507,70.2L517,69.1L527,68.1L537,67.3L547,66.6L557,66.1L567,65.7L577,65.5L587,65.6L597,66.2L607,67.5L617,69.3L627,71.6L637,74.1L647,76.7L657,79.2L667,81.5L677,83.4L687,84.7L697,85.4L707,85.5L717,85.3L727,85.0L737,84.4L747,83.8L757,83.0L767,82.0L777,80.9L787,79.8L797,78.5L807,77.2L817,75.9L827,74.6M47,105.2L57,104.3L67,103.2L77,102.1L87,100.8L97,99.5L107,98.2L117,96.9L127,95.5L137,94.3L147,93.0L157,91.9L167,90.9L177,90.0L187,89.2L197,88.6L207,88.1L217,87.8L227,87.7L237,88.0L247,88.9L257,90.4L267,92.4L277,94.8L287,97.4L297,100.0L307,102.4L317,104.5L327,106.2L337,107.3L347,107.7L357,107.6L367,107.4L377,107.0L387,106.4L397,105.6L407,104.8L417,103.8L427,102.6L437,101.4L447,100.2L457,98.9L467,97.5L477,96.2L487,94.9L497,93.6L507,92.5L517,91.4L527,90.4L537,89.5L547,88.8L557,88.3L567,87.9L577,87.7L587,87.7L597,88.3L607,89.6L617,91.4L627,93.6L637,96.1L647,98.7L657,101.2L667,103.5L677,105.4L687,106.8L697,107.6L707,107.7L717,107.5L727,107.2L737,106.7L747,106.0L757,105.2L767,104.3L777,103.2L787,102.1L797,100.8L807,99.5L817,98.2L827,96.9M47,127.5L57,126.6L67,125.5L77,124.4L87,123.1L97,121.8L107,120.5L117,119.2L127,117.8L137,116.6L147,115.3L157,114.2L167,113.1L177,112.2L187,111.4L197,110.8L207,110.3L217,110.0L227,109.9L237,110.1L247,111.0L257,112.5L267,114.5L277,116.8L287,119.4L297,122.0L307,124.4L317,126.6L327,128.3L337,129.4L347,129.9L357,129.8L367,129.6L377,129.2L387,128.6L397,127.9L407,127.0L417,126.0L427,124.9L437,123.7L447,122.5L457,121.2L467,119.8L477,118.5L487,117.2L497,115.9L507,114.7L517,113.7L527,112.7L537,111.8L547,111.1L557,110.5L567,110.2L577,109.9L587,109.9L597,110.5L607,111.7L617,113.4L627,115.6L637,118.1L647,120.7L657,123.2L667,125.6L677,127.5L687,128.9L697,129.7L707,129.9L717,129.7L727,129.4L737,128.9L747,128.3L757,127.5L767,126.6L777,125.5L787,124.4L797,123.1L807,121.8L817,120.5L827,119.2M47,149.8L57,148.8L67,147.8L77,146.6L87,145.4L97,144.1L107,142.8L117,141.5L127,140.1L137,138.9L147,137.6L157,136.5L167,135.4L177,134.5L187,133.7L197,133.0L207,132.6L217,132.2L227,132.1L237,132.3L247,133.1L257,134.5L267,136.5L277,138.8L287,141.4L297,144.0L307,146.5L317,148.6L327,150.4L337,151.5L347,152.1L357,152.1L367,151.8L377,151.4L387,150.9L397,150.2L407,149.3L417,148.3L427,147.2L437,146.0L447,144.8L457,143.5L467,142.1L477,140.8L487,139.5L497,138.2L507,137.0L517,135.9L527,134.9L537,134.1L547,133.3L557,132.8L567,132.4L577,132.2L587,132.1L597,132.6L607,133.7L617,135.4L627,137.6L637,140.1L647,142.7L657,145.2L667,147.6L677,149.6L687,151.0L697,151.9L707,152.1L717,152.0L727,151.7L737,151.2L747,150.6L757,149.8L767,148.8L777,147.8L787,146.6L797,145.4L807,144.1L817,142.8L827,141.5M47,172.0L57,171.1L67,170.1L77,168.9L87,167.7L97,166.4L107,165.1L117,163.8L127,162.5L137,161.2L147,159.9L157,158.8L167,157.7L177,156.8L187,156.0L197,155.3L207,154.8L217,154.5L227,154.3L237,154.4L247,155.2L257,156.6L267,158.5L277,160.8L287,163.4L297,166.0L307,168.5L317,170.7L327,172.5L337,173.7L347,174.3L357,174.3L367,174.1L377,173.7L387,173.1L397,172.4L407,171.6L417,170.6L427,169.5L437,168.3L447,167.1L457,165.8L467,164.4L477,163.1L487,161.8L497,160.5L507,159.3L517,158.2L527,157.2L537,156.3L547,155.6L557,155.0L567,154.6L577,154.4L587,154.3L597,154.7L607,155.8L617,157.5L627,159.6L637,162.1L647,164.7L657,167.2L667,169.6L677,171.6L687,173.1L697,174.0L707,174.3L717,174.2L727,173.9L737,173.4L747,172.8L757,172.0L767,171.1L777,170.1L787,168.9L797,167.7L807,166.4L817,165.1L827,163.8M47,194.3L57,193.4L67,192.4L77,191.2L87,190.0L97,188.7L107,187.4L117,186.1L127,184.8L137,183.5L147,182.2L157,181.1L167,180.0L177,179.0L187,178.2L197,177.5L207,177.0L217,176.7L227,176.5L237,176.6L247,177.3L257,178.7L267,180.5L277,182.8L287,185.4L297,188.0L307,190.5L317,192.7L327,194.5L337,195.8L347,196.4L357,196.5L367,196.3L377,195.9L387,195.4L397,194.7L407,193.9L417,192.9L427,191.8L437,190.6L447,189.4L457,188.1L467,186.8L477,185.4L487,184.1L497,182.8L507,181.6L517,180.5L527,179.5L537,178.6L547,177.9L557,177.3L567,176.8L577,176.6L587,176.5L597,176.9L607,177.9L617,179.5L627,181.6L637,184.1L647,186.7L657,189.2L667,191.6L677,193.7L687,195.2L697,196.2L707,196.5L717,196.4L727,196.1L737,195.7L747,195.1L757,194.3L767,193.4L777,192.4L787,191.2L797,190.0L807,188.7L817,187.4L827,186.1M47,216.6L57,215.7L67,214.7L77,213.5L87,212.3L97,211.0L107,209.7L117,208.4L127,207.1L137,205.8L147,204.5L157,203.3L167,202.3L177,201.3L187,200.5L197,199.8L207,199.3L217,198.9L227,198.7L237,198.8L247,199.4L257,200.7L267,202.6L277,204.8L287,207.3L297,210.0L307,212.5L317,214.7L327,216.6L337,217.9L347,218.6L357,218.7L367,218.5L377,218.2L387,217.6L397,217.0L407,216.1L417,215.2L427,214.1L437,212.9L447,211.7L457,210.4L467,209.1L477,207.7L487,206.4L497,205.1L507,203.9L517,202.8L527,201.8L537,200.9L547,200.1L557,199.5L567,199.1L577,198.8L587,198.7L597,199.0L607,200.0L617,201.6L627,203.7L637,206.1L647,208.6L657,211.2L667,213.7L677,215.7L687,217.3L697,218.3L707,218.7L717,218.6L727,218.4L737,217.9L747,217.3L757,216.6L767,215.7L777,214.7L787,213.5L797,212.3L807,211.0L817,209.7L827,208.4M47,238.8L57,237.9L67,236.9L77,235.8L87,234.6L97,233.3L107,232.0L117,230.7L127,229.4L137,228.1L147,226.8L157,225.6L167,224.5L177,223.6L187,222.7L197,222.0L207,221.5L217,221.1L227,220.9L237,221.0L247,221.6L257,222.8L267,224.6L277,226.8L287,229.3L297,231.9L307,234.5L317,236.8L327,238.7L337,240.0L347,240.8L357,240.9L367,240.7L377,240.4L387,239.9L397,239.2L407,238.4L417,237.5L427,236.4L437,235.2L447,234.0L457,232.7L467,231.4L477,230.0L487,228.7L497,227.4L507,226.2L517,225.1L527,224.0L537,223.1L547,222.4L557,221.7L567,221.3L577,221.0L587,220.9L597,221.2L607,222.1L617,223.6L627,225.7L637,228.1L647,230.6L657,233.2L667,235.7L677,237.8L687,239.4L697,240.5L707,240.9L717,240.8L727,240.6L737,240.2L747,239.6L757,238.8L767,237.9L777,236.9L787,235.8L797,234.6L807,233.3L817,232.0L827,230.7M47,261.1L57,260.2L67,259.2L77,258.1L87,256.9L97,255.7L107,254.3L117,253.0L127,251.7L137,250.4L147,249.1L157,247.9L167,246.8L177,245.8L187,245.0L197,244.3L207,243.7L217,243.4L227,243.1L237,243.1L247,243.7L257,244.9L267,246.6L277,248.8L287,251.3L297,253.9L307,256.5L317,258.8L327,260.7L337,262.1L347,262.9L357,263.1L367,262.9L377,262.6L387,262.1L397,261.5L407,260.7L417,259.7L427,258.7L437,257.5L447,256.3L457,255.0L467,253.7L477,252.3L487,251.0L497,249.7L507,248.5L517,247.4L527,246.3L537,245.4L547,244.6L557,244.0L567,243.5L577,243.2L587,243.1L597,243.3L607,244.2L617,245.7L627,247.7L637,250.1L647,252.6L657,255.2L667,257.7L677,259.8L687,261.5L697,262.6L707,263.1L717,263.0L727,262.8L737,262.4L747,261.8L757,261.1L767,260.2L777,259.2L787,258.1L797,256.9L807,255.7L817,254.3L827,253.0M47,283.4L57,282.5L67,281.5L77,280.4L87,279.2L97,278.0L107,276.6L117,275.3L127,274.0L137,272.7L147,271.4L157,270.2L167,269.1L177,268.1L187,267.3L197,266.5L207,266.0L217,265.6L227,265.4L237,265.3L247,265.8L257,267.0L267,268.7L277,270.9L287,273.3L297,275.9L307,278.5L317,280.8L327,282.8L337,284.3L347,285.1L357,285.3L367,285.2L377,284.9L387,284.4L397,283.7L407,282.9L417,282.0L427,281.0L437,279.8L447,278.6L457,277.3L467,276.0L477,274.6L487,273.3L497,272.0L507,270.8L517,269.7L527,268.6L537,267.7L547,266.9L557,266.2L567,265.8L577,265.4L587,265.3L597,265.5L607,266.3L617,267.8L627,269.7L637,272.1L647,274.6L657,277.2L667,279.7L677,281.9L687,283.6L697,284.8L707,285.3L717,285.3L727,285.0L737,284.6L747,284.1L757,283.4L767,282.5L777,281.5L787,280.4L797,279.2L807,278.0L817,276.6L827,275.3M47,305.6L57,304.8L67,303.8L77,302.7L87,301.5L97,300.3L107,299.0L117,297.6L127,296.3L137,295.0L147,293.7L157,292.5L167,291.4L177,290.4L187,289.5L197,288.8L207,288.2L217,287.8L227,287.6L237,287.5L247,288.0L257,289.1L267,290.7L277,292.9L287,295.3L297,297.9L307,300.5L317,302.9L327,304.9L337,306.4L347,307.3L357,307.5L367,307.4L377,307.1L387,306.6L397,306.0L407,305.2L417,304.3L427,303.3L437,302.1L447,300.9L457,299.6L467,298.3L477,297.0L487,295.6L497,294.3L507,293.1L517,291.9L527,290.9L537,289.9L547,289.1L557,288.5L567,288.0L577,287.7L587,287.5L597,287.6L607,288.4L617,289.8L627,291.7L637,294.1L647,296.6L657,299.2L667,301.7L677,303.9L687,305.7L697,306.9L707,307.5L717,307.5L727,307.3L737,306.9L747,306.3L757,305.6L767,304.8L777,303.8L787,302.7L797,301.5L807,300.3L817,299.0L827,297.6M47,327.9L57,327.0L67,326.1L77,325.0L87,323.8L97,322.6L107,321.3L117,319.9L127,318.6L137,317.3L147,316.0L157,314.8L167,313.7L177,312.7L187,311.8L197,311.0L207,310.5L217,310.0L227,309.8L237,309.7L247,310.1L257,311.1L267,312.8L277,314.9L287,317.3L297,319.9L307,322.5L317,324.9L327,326.9L337,328.5L347,329.4L357,329.7L367,329.6L377,329.3L387,328.9L397,328.2L407,327.5L417,326.6L427,325.5L437,324.4L447,323.2L457,321.9L467,320.6L477,319.3L487,317.9L497,316.6L507,315.4L517,314.2L527,313.2L537,312.2L547,311.4L557,310.7L567,310.2L577,309.9L587,309.7L597,309.8L607,310.5L617,311.9L627,313.8L637,316.1L647,318.6L657,321.2L667,323.7L677,326.0L687,327.8L697,329.0L707,329.6L717,329.7L727,329.5L737,329.1L747,328.6L757,327.9L767,327.0L777,326.1L787,325.0L797,323.8L807,322.6L817,321.3L827,319.9M47,350.1L57,349.3L67,348.4L77,347.3L87,346.1L97,344.9L107,343.6L117,342.2L127,340.9L137,339.6L147,338.3L157,337.1L167,336.0L177,334.9L187,334.1L197,333.3L207,332.7L217,332.3L227,332.0L237,331.9L247,332.2L257,333.2L267,334.8L277,336.9L287,339.3L297,341.9L307,344.5L317,346.9L327,349.0L337,350.6L347,351.6L357,351.9L367,351.8L377,351.5L387,351.1L397,350.5L407,349.7L417,348.9L427,347.8L437,346.7L447,345.5L457,344.2L467,342.9L477,341.6L487,340.2L497,338.9L507,337.7L517,336.5L527,335.4L537,334.5L547,333.7L557,333.0L567,332.5L577,332.1L587,331.9L597,332.0L607,332.7L617,334.0L627,335.8L637,338.1L647,340.6L657,343.2L667,345.7L677,348.0L687,349.8L697,351.1L707,351.8L717,351.9L727,351.7L737,351.3L747,350.8L757,350.1L767,349.3L777,348.4L787,347.3L797,346.1L807,344.9L817,343.6L827,342.2M47,372.4L57,371.6L67,370.6L77,369.6L87,368.4L97,367.2L107,365.9L117,364.5L127,363.2L137,361.9L147,360.6L157,359.4L167,358.3L177,357.2L187,356.3L197,355.6L207,354.9L217,354.5L227,354.2L237,354.1L247,354.4L257,355.3L267,356.9L277,358.9L287,361.3L297,363.9L307,366.5L317,368.9L327,371.0L337,372.7L347,373.7L357,374.1L367,374.0L377,373.8L387,373.3L397,372.8L407,372.0L417,371.1L427,370.1L437,369.0L447,367.8L457,366.5L467,365.2L477,363.9L487,362.5L497,361.2L507,360.0L517,358.8L527,357.7L537,356.8L547,355.9L557,355.2L567,354.7L577,354.3L587,354.1L597,354.2L607,354.8L617,356.0L627,357.8L637,360.1L647,362.6L657,365.2L667,367.7L677,370.0L687,371.9L697,373.3L707,374.0L717,374.1L727,373.9L737,373.6L747,373.1L757,372.4L767,371.6L777,370.6L787,369.6L797,368.4L807,367.2L817,365.9L827,364.5M47,394.7L57,393.9L67,392.9L77,391.9L87,390.7L97,389.5L107,388.2L117,386.8L127,385.5L137,384.2L147,382.9L157,381.7L167,380.5L177,379.5L187,378.6L197,377.8L207,377.2L217,376.7L227,376.4L237,376.3L247,376.5L257,377.4L267,378.9L277,380.9L287,383.3L297,385.9L307,388.5L317,390.9L327,393.1L337,394.7L347,395.8L357,396.3L367,396.2L377,396.0L387,395.6L397,395.0L407,394.3L417,393.4L427,392.4L437,391.3L447,390.1L457,388.8L467,387.5L477,386.2L487,384.8L497,383.5L507,382.3L517,381.1L527,380.0L537,379.0L547,378.2L557,377.5L567,376.9L577,376.5L587,376.3L597,376.3L607,376.9L617,378.1L627,379.9L637,382.1L647,384.6L657,387.2L667,389.7L677,392.1L687,394.0L697,395.4L707,396.2L717,396.3L727,396.1L737,395.8L747,395.3L757,394.7L767,393.9L777,392.9L787,391.9L797,390.7L807,389.5L817,388.2L827,386.8M47,416.9L57,416.1L67,415.2L77,414.1L87,413.0L97,411.8L107,410.5L117,409.2L127,407.8L137,406.5L147,405.2L157,404.0L167,402.8L177,401.8L187,400.9L197,400.1L207,399.4L217,398.9L227,398.6L237,398.5L247,398.7L257,399.5L267,401.0L277,403.0L287,405.3L297,407.9L307,410.5L317,412.9L327,415.1L337,416.8L347,418.0L357,418.5L367,418.4L377,418.2L387,417.8L397,417.3L407,416.5L417,415.7L427,414.7L437,413.6L447,412.4L457,411.1L467,409.8L477,408.5L487,407.2L497,405.8L507,404.6L517,403.4L527,402.3L537,401.3L547,400.4L557,399.7L567,399.2L577,398.8L587,398.5L597,398.5L607,399.0L617,400.2L627,401.9L637,404.1L647,406.6L657,409.2L667,411.7L677,414.1L687,416.0L697,417.5L707,418.3L717,418.5L727,418.4L737,418.0L747,417.6L757,416.9L767,416.1L777,415.2L787,414.1L797,413.0L807,411.8L817,410.5L827,409.2M47,439.2L57,438.4L67,437.5L77,436.4L87,435.3L97,434.1L107,432.8L117,431.5L127,430.1L137,428.8L147,427.5L157,426.3L167,425.1L177,424.1L187,423.1L197,422.3L207,421.7L217,421.2L227,420.9L237,420.7L247,420.9L257,421.7L267,423.1L277,425.0L287,427.3L297,429.9L307,432.5L317,435.0L327,437.2L337,438.9L347,440.1L357,440.7L367,440.7L377,440.4L387,440.1L397,439.5L407,438.8L417,438.0L427,437.0L437,435.9L447,434.7L457,433.4L467,432.1L477,430.8L487,429.5L497,428.1L507,426.9L517,425.7L527,424.6L537,423.6L547,422.7L557,422.0L567,421.4L577,421.0L587,420.8L597,420.7L607,421.2L617,422.3L627,424.0L637,426.1L647,428.6L657,431.2L667,433.7L677,436.1L687,438.1L697,439.6L707,440.5L717,440.7L727,440.6L737,440.3L747,439.8L757,439.2L767,438.4L777,437.5L787,436.4L797,435.3L807,434.1L817,432.8L827,431.5M47,461.4L57,460.7L67,459.8L77,458.7L87,457.6L97,456.4L107,455.1L117,453.8L127,452.4L137,451.1L147,449.8L157,448.6L167,447.4L177,446.3L187,445.4L197,444.6L207,443.9L217,443.4L227,443.1L237,442.9L247,443.0L257,443.8L267,445.1L277,447.0L287,449.3L297,451.9L307,454.5L317,457.0L327,459.2L337,461.0L347,462.2L357,462.8L367,462.9L377,462.7L387,462.3L397,461.8L407,461.1L417,460.2L427,459.3L437,458.2L447,457.0L457,455.7L467,454.4L477,453.1L487,451.8L497,450.5L507,449.2L517,448.0L527,446.9L537,445.9L547,445.0L557,444.2L567,443.6L577,443.2L587,443.0L597,442.9L607,443.3L617,444.4L627,446.0L637,448.1L647,450.6L657,453.2L667,455.7L677,458.1L687,460.2L697,461.7L707,462.6L717,462.9L727,462.8L737,462.5L747,462.1L757,461.4L767,460.7L777,459.8L787,458.7L797,457.6L807,456.4L817,455.1L827,453.8M47,483.7L57,482.9L67,482.0L77,481.0L87,479.9L97,478.7L107,477.4L117,476.1L127,474.7L137,473.4L147,472.1L157,470.9L167,469.7L177,468.6L187,467.7L197,466.8L207,466.2L217,465.6L227,465.3L237,465.1L247,465.2L257,465.9L267,467.2L277,469.1L287,471.3L297,473.8L307,476.5L317,479.0L327,481.2L337,483.1L347,484.4L357,485.0L367,485.1L377,484.9L387,484.5L397,484.0L407,483.3L417,482.5L427,481.5L437,480.5L447,479.3L457,478.0L467,476.7L477,475.4L487,474.1L497,472.8L507,471.5L517,470.3L527,469.1L537,468.1L547,467.2L557,466.5L567,465.9L577,465.4L587,465.2L597,465.1L607,465.5L617,466.5L627,468.1L637,470.1L647,472.6L657,475.2L667,477.7L677,480.1L687,482.2L697,483.8L707,484.8L717,485.1L727,485.0L737,484.7L747,484.3L757,483.7L767,482.9L777,482.0L787,481.0L797,479.9L807,478.7L817,477.4L827,476.1M47,505.9L57,505.2L67,504.3L77,503.3L87,502.2L97,501.0L107,499.7L117,498.4L127,497.0L137,495.7L147,494.4L157,493.2L167,492.0L177,490.9L187,489.9L197,489.1L207,488.4L217,487.9L227,487.5L237,487.3L247,487.4L257,488.0L267,489.3L277,491.1L287,493.3L297,495.8L307,498.4L317,501.0L327,503.3L337,505.1L347,506.5L357,507.2L367,507.3L377,507.1L387,506.8L397,506.3L407,505.6L417,504.8L427,503.8L437,502.7L447,501.6L457,500.3L467,499.0L477,497.7L487,496.4L497,495.1L507,493.8L517,492.6L527,491.4L537,490.4L547,489.5L557,488.7L567,488.1L577,487.7L587,487.4L597,487.3L607,487.6L617,488.6L627,490.1L637,492.2L647,494.6L657,497.1L667,499.7L677,502.2L687,504.3L697,505.9L707,506.9L717,507.3L727,507.2L737,507.0L747,506.5L757,505.9L767,505.2L777,504.3L787,503.3L797,502.2L807,501.0L817,499.7L827,498.4M47,528.2L57,527.5L67,526.6L77,525.6L87,524.5L97,523.3L107,522.0L117,520.7L127,519.4L137,518.0L147,516.7L157,515.5L167,514.3L177,513.2L187,512.2L197,511.4L207,510.7L217,510.1L227,509.7L237,509.5L247,509.5L257,510.1L267,511.3L277,513.1L287,515.3L297,517.8L307,520.4L317,523.0L327,525.3L337,527.2L347,528.6L357,529.4L367,529.5L377,529.3L387,529.0L397,528.5L407,527.8L417,527.0L427,526.1L437,525.0L447,523.9L457,522.6L467,521.3L477,520.0L487,518.7L497,517.4L507,516.1L517,514.9L527,513.7L537,512.7L547,511.8L557,511.0L567,510.4L577,509.9L587,509.6L597,509.5L607,509.8L617,510.7L627,512.2L637,514.2L647,516.6L657,519.1L667,521.7L677,524.2L687,526.3L697,528.0L707,529.1L717,529.5L727,529.4L737,529.2L747,528.8L757,528.2L767,527.5L777,526.6L787,525.6L797,524.5L807,523.3L817,522.0L827,520.7M47,550.5L57,549.7L67,548.9L77,547.9L87,546.8L97,545.6L107,544.3L117,543.0L127,541.7L137,540.3L147,539.0L157,537.8L167,536.6L177,535.5L187,534.5L197,533.6L207,532.9L217,532.4L227,532.0L237,531.7L247,531.7L257,532.3L267,533.4L277,535.2L287,537.3L297,539.8L307,542.4L317,545.0L327,547.3L337,549.3L347,550.7L357,551.5L367,551.7L377,551.6L387,551.2L397,550.8L407,550.1L417,549.3L427,548.4L437,547.3L447,546.2L457,544.9L467,543.7L477,542.3L487,541.0L497,539.7L507,538.4L517,537.2L527,536.0L537,535.0L547,534.0L557,533.2L567,532.6L577,532.1L587,531.8L597,531.7L607,531.9L617,532.8L627,534.2L637,536.2L647,538.6L657,541.1L667,543.7L677,546.2L687,548.4L697,550.1L707,551.2L717,551.7L727,551.6L737,551.4L747,551.0L757,550.5L767,549.7L777,548.9L787,547.9L797,546.8L807,545.6L817,544.3L827,543.0M47,572.7L57,572.0L67,571.1L77,570.1L87,569.1L97,567.9L107,566.6L117,565.3L127,564.0L137,562.6L147,561.3L157,560.1L167,558.9L177,557.8L187,556.8L197,555.9L207,555.2L217,554.6L227,554.2L237,554.0L247,553.9L257,554.4L267,555.5L277,557.2L287,559.4L297,561.8L307,564.4L317,567.0L327,569.3L337,571.3L347,572.8L357,573.7L367,573.9L377,573.8L387,573.5L397,573.0L407,572.4L417,571.6L427,570.7L437,569.6L447,568.5L457,567.2L467,566.0L477,564.6L487,563.3L497,562.0L507,560.7L517,559.4L527,558.3L537,557.2L547,556.3L557,555.5L567,554.9L577,554.4L587,554.1L597,553.9L607,554.1L617,554.9L627,556.3L637,558.2L647,560.6L657,563.1L667,565.7L677,568.2L687,570.4L697,572.1L707,573.3L717,573.9L727,573.9L737,573.6L747,573.3L757,572.7L767,572.0L777,571.1L787,570.1L797,569.1L807,567.9L817,566.6L827,565.3M47,595.0L57,594.3L67,593.4L77,592.4L87,591.3L97,590.2L107,588.9L117,587.6L127,586.3L137,584.9L147,583.6L157,582.4L167,581.2L177,580.0L187,579.0L197,578.2L207,577.4L217,576.8L227,576.4L237,576.2L247,576.1L257,576.5L267,577.6L277,579.3L287,581.4L297,583.8L307,586.4L317,589.0L327,591.4L337,593.4L347,594.9L357,595.8L367,596.1L377,596.0L387,595.7L397,595.2L407,594.6L417,593.8L427,592.9L437,591.9L447,590.8L457,589.5L467,588.3L477,586.9L487,585.6L497,584.3L507,583.0L517,581.7L527,580.6L537,579.5L547,578.6L557,577.8L567,577.1L577,576.6L587,576.3L597,576.1L607,576.2L617,577.0L627,578.4L637,580.3L647,582.6L657,585.1L667,587.7L677,590.2L687,592.4L697,594.2L707,595.5L717,596.1L727,596.1L737,595.9L747,595.5L757,595.0L767,594.3L777,593.4L787,592.4L797,591.3L807,590.2L817,588.9L827,587.6M47,617.2L57,616.5L67,615.7L77,614.7L87,613.6L97,612.5L107,611.2L117,609.9L127,608.6L137,607.2L147,605.9L157,604.7L167,603.4L177,602.3L187,601.3L197,600.4L207,599.7L217,599.1L227,598.6L237,598.4L247,598.3L257,598.7L267,599.7L277,601.3L287,603.4L297,605.8L307,608.4L317,611.0L327,613.4L337,615.4L347,617.0L357,618.0L367,618.3L377,618.2L387,617.9L397,617.5L407,616.9L417,616.1L427,615.2L437,614.2L447,613.1L457,611.8L467,610.6L477,609.2L487,607.9L497,606.6L507,605.3L517,604.0L527,602.9L537,601.8L547,600.8L557,600.0L567,599.4L577,598.8L587,598.5L597,598.3L607,598.4L617,599.1L627,600.4L637,602.3L647,604.6L657,607.1L667,609.7L677,612.2L687,614.5L697,616.3L707,617.6L717,618.2L727,618.3L737,618.1L747,617.7L757,617.2L767,616.5L777,615.7L787,614.7L797,613.6L807,612.5L817,611.2L827,609.9M47,639.4L57,638.8L67,638.0L77,637.0L87,635.9L97,634.8L107,633.5L117,632.2L127,630.9L137,629.6L147,628.2L157,627.0L167,625.7L177,624.6L187,623.6L197,622.7L207,621.9L217,621.3L227,620.9L237,620.6L247,620.5L257,620.8L267,621.8L277,623.4L287,625.4L297,627.8L307,630.4L317,633.0L327,635.4L337,637.5L347,639.1L357,640.1L367,640.5L377,640.4L387,640.2L397,639.7L407,639.1L417,638.4L427,637.5L437,636.5L447,635.4L457,634.1L467,632.9L477,631.6L487,630.2L497,628.9L507,627.6L517,626.3L527,625.2L537,624.1L547,623.1L557,622.3L567,621.6L577,621.1L587,620.7L597,620.5L607,620.6L617,621.2L627,622.5L637,624.3L647,626.6L657,629.1L667,631.7L677,634.2L687,636.5L697,638.4L707,639.7L717,640.4L727,640.5L737,640.3L747,640.0L757,639.4L767,638.8L777,638.0L787,637.0L797,635.9L807,634.8L817,633.5L827,632.2M47,661.7L57,661.0L67,660.2L77,659.3L87,658.2L97,657.1L107,655.8L117,654.5L127,653.2L137,651.9L147,650.5L157,649.3L167,648.0L177,646.9L187,645.9L197,645.0L207,644.2L217,643.6L227,643.1L237,642.8L247,642.7L257,643.0L267,643.9L277,645.4L287,647.4L297,649.8L307,652.4L317,655.0L327,657.4L337,659.5L347,661.2L357,662.3L367,662.7L377,662.6L387,662.4L397,662.0L407,661.4L417,660.6L427,659.8L437,658.8L447,657.6L457,656.4L467,655.2L477,653.9L487,652.5L497,651.2L507,649.9L517,648.6L527,647.5L537,646.4L547,645.4L557,644.5L567,643.8L577,643.3L587,642.9L597,642.7L607,642.7L617,643.3L627,644.6L637,646.4L647,648.6L657,651.1L667,653.7L677,656.2L687,658.5L697,660.4L707,661.8L717,662.6L727,662.7L737,662.5L747,662.2L757,661.7L767,661.0L777,660.2L787,659.3L797,658.2L807,657.1L817,655.8L827,654.5M47,683.9L57,683.3L67,682.5L77,681.6L87,680.5L97,679.4L107,678.1L117,676.8L127,675.5L137,674.2L147,672.8L157,671.6L167,670.3L177,669.2L187,668.1L197,667.2L207,666.4L217,665.8L227,665.3L237,665.0L247,664.9L257,665.1L267,666.0L277,667.5L287,669.5L297,671.8L307,674.4L317,677.0L327,679.4L337,681.6L347,683.3L357,684.4L367,684.9L377,684.8L387,684.6L397,684.2L407,683.6L417,682.9L427,682.0L437,681.0L447,679.9L457,678.7L467,677.5L477,676.2L487,674.8L497,673.5L507,672.2L517,670.9L527,669.7L537,668.7L547,667.7L557,666.8L567,666.1L577,665.5L587,665.2L597,664.9L607,664.9L617,665.5L627,666.7L637,668.4L647,670.6L657,673.1L667,675.7L677,678.2L687,680.6L697,682.5L707,683.9L717,684.7L727,684.9L737,684.7L747,684.4L757,683.9L767,683.3L777,682.5L787,681.6L797,680.5L807,679.4L817,678.1L827,676.8M47,706.2L57,705.6L67,704.8L77,703.8L87,702.8L97,701.6L107,700.4L117,699.1L127,697.8L137,696.5L147,695.1L157,693.9L167,692.6L177,691.5L187,690.4L197,689.5L207,688.7L217,688.0L227,687.6L237,687.2L247,687.1L257,687.3L267,688.1L277,689.5L287,691.5L297,693.8L307,696.4L317,699.0L327,701.5L337,703.6L347,705.4L357,706.5L367,707.1L377,707.1L387,706.8L397,706.4L407,705.9L417,705.2L427,704.3L437,703.3L447,702.2L457,701.0L467,699.8L477,698.5L487,697.1L497,695.8L507,694.5L517,693.2L527,692.0L537,690.9L547,689.9L557,689.1L567,688.3L577,687.8L587,687.4L597,687.2L607,687.1L617,687.6L627,688.7L637,690.4L647,692.6L657,695.1L667,697.7L677,700.2L687,702.6L697,704.6L707,706.0L717,706.9L727,707.1L737,707.0L747,706.7L757,706.2L767,705.6L777,704.8L787,703.8L797,702.8L807,701.6L817,700.4L827,699.1M47,728.4L57,727.8L67,727.0L77,726.1L87,725.1L97,723.9L107,722.7L117,721.4L127,720.1L137,718.8L147,717.5L157,716.2L167,714.9L177,713.8L187,712.7L197,711.8L207,711.0L217,710.3L227,709.8L237,709.5L247,709.3L257,709.4L267,710.2L277,711.6L287,713.5L297,715.8L307,718.4L317,721.0L327,723.5L337,725.7L347,727.5L357,728.7L367,729.3L377,729.3L387,729.1L397,728.7L407,728.1L417,727.4L427,726.6L437,725.6L447,724.5L457,723.3L467,722.1L477,720.8L487,719.4L497,718.1L507,716.8L517,715.5L527,714.3L537,713.2L547,712.2L557,711.3L567,710.6L577,710.0L587,709.6L597,709.4L607,709.3L617,709.7L627,710.8L637,712.5L647,714.6L657,717.1L667,719.7L677,722.2L687,724.6L697,726.6L707,728.1L717,729.0L727,729.3L737,729.2L747,728.9L757,728.4L767,727.8L777,727.0L787,726.1L797,725.1L807,723.9L817,722.7L827,721.4M47,750.7L57,750.1L67,749.3L77,748.4L87,747.4L97,746.2L107,745.0L117,743.7L127,742.4L137,741.1L147,739.8L157,738.5L167,737.2L177,736.1L187,735.0L197,734.0L207,733.2L217,732.5L227,732.0L237,731.7L247,731.5L257,731.6L267,732.3L277,733.7L287,735.5L297,737.8L307,740.4L317,743.0L327,745.5L337,747.7L347,749.5L357,750.8L367,751.4L377,751.5L387,751.3L397,750.9L407,750.4L417,749.7L427,748.9L437,747.9L447,746.8L457,745.6L467,744.4L477,743.1L487,741.8L497,740.4L507,739.1L517,737.8L527,736.6L537,735.5L547,734.5L557,733.6L567,732.9L577,732.3L587,731.8L597,731.6L607,731.5L617,731.9L627,732.9L637,734.5L647,736.6L657,739.1L667,741.7L677,744.2L687,746.6L697,748.7L707,750.2L717,751.2L727,751.5L737,751.4L747,751.1L757,750.7L767,750.1L777,749.3L787,748.4L797,747.4L807,746.2L817,745.0L827,743.7M47,772.9L57,772.3L67,771.6L77,770.7L87,769.7L97,768.5L107,767.3L117,766.0L127,764.7L137,763.4L147,762.1L157,760.8L167,759.5L177,758.3L187,757.3L197,756.3L207,755.5L217,754.8L227,754.3L237,753.9L247,753.7L257,753.8L267,754.4L277,755.7L287,757.6L297,759.8L307,762.3L317,765.0L327,767.5L337,769.7L347,771.6L357,772.9L367,773.6L377,773.7L387,773.5L397,773.2L407,772.6L417,772.0L427,771.1L437,770.2L447,769.1L457,767.9L467,766.7L477,765.4L487,764.1L497,762.7L507,761.4L517,760.1L527,758.9L537,757.8L547,756.8L557,755.9L567,755.1L577,754.5L587,754.1L597,753.8L607,753.7L617,754.0L627,755.0L637,756.6L647,758.7L657,761.1L667,763.6L677,766.2L687,768.7L697,770.7L707,772.3L717,773.3L727,773.7L737,773.6L747,773.4L757,772.9L767,772.3L777,771.6L787,770.7L797,769.7L807,768.5L817,767.3L827,766.0M47,795.2L57,794.6L67,793.8L77,792.9L87,791.9L97,790.8L107,789.6L117,788.3L127,787.0L137,785.7L147,784.4L157,783.1L167,781.8L177,780.6L187,779.5L197,778.6L207,777.7L217,777.0L227,776.5L237,776.1L247,775.9L257,776.0L267,776.6L277,777.8L287,779.6L297,781.8L307,784.3L317,786.9L327,789.5L337,791.8L347,793.7L357,795.0L367,795.8L377,795.9L387,795.7L397,795.4L407,794.9L417,794.2L427,793.4L437,792.5L447,791.4L457,790.2L467,789.0L477,787.7L487,786.4L497,785.0L507,783.7L517,782.4L527,781.2L537,780.1L547,779.0L557,778.1L567,777.4L577,776.7L587,776.3L597,776.0L607,775.9L617,776.2L627,777.1L637,778.6L647,780.7L657,783.1L667,785.6L677,788.2L687,790.7L697,792.8L707,794.4L717,795.5L727,795.9L737,795.8L747,795.6L757,795.2L767,794.6L777,793.8L787,792.9L797,791.9L807,790.8L817,789.6L827,788.3M47,817.4L57,816.8L67,816.1L77,815.2L87,814.2L97,813.1L107,811.9L117,810.7L127,809.3L137,808.0L147,806.7L157,805.4L167,804.1L177,802.9L187,801.8L197,800.8L207,800.0L217,799.3L227,798.7L237,798.4L247,798.1L257,798.1L267,798.7L277,799.9L287,801.6L297,803.8L307,806.3L317,808.9L327,811.5L337,813.8L347,815.7L357,817.1L367,817.9L377,818.1L387,817.9L397,817.6L407,817.1L417,816.5L427,815.7L437,814.7L447,813.7L457,812.5L467,811.3L477,810.0L487,808.7L497,807.3L507,806.0L517,804.7L527,803.5L537,802.4L547,801.3L557,800.4L567,799.6L577,799.0L587,798.5L597,798.2L607,798.1L617,798.3L627,799.2L637,800.7L647,802.7L657,805.1L667,807.6L677,810.2L687,812.7L697,814.8L707,816.5L717,817.6L727,818.1L737,818.0L747,817.8L757,817.4L767,816.8L777,816.1L787,815.2L797,814.2L807,813.1L817,811.9L827,810.7M47,839.6L57,839.1L67,838.4L77,837.5L87,836.5L97,835.4L107,834.2L117,833.0L127,831.6L137,830.3L147,829.0L157,827.7L167,826.4L177,825.2L187,824.1L197,823.1L207,822.3L217,821.5L227,821.0L237,820.6L247,820.4L257,820.3L267,820.8L277,822.0L287,823.7L297,825.9L307,828.3L317,830.9L327,833.5L337,835.8L347,837.8L357,839.3L367,840.1L377,840.3L387,840.2L397,839.9L407,839.4L417,838.7L427,837.9L437,837.0L447,836.0L457,834.8L467,833.6L477,832.3L487,831.0L497,829.6L507,828.3L517,827.0L527,825.8L537,824.7L547,823.6L557,822.7L567,821.9L577,821.2L587,820.8L597,820.4L607,820.3L617,820.5L627,821.3L637,822.8L647,824.7L657,827.1L667,829.6L677,832.2L687,834.7L697,836.9L707,838.6L717,839.8L727,840.3L737,840.3L747,840.0L757,839.6L767,839.1L777,838.4L787,837.5L797,836.5L807,835.4L817,834.2L827,833.0M47,861.9L57,861.3L67,860.6L77,859.8L87,858.8L97,857.7L107,856.5L117,855.3L127,854.0L137,852.6L147,851.3L157,850.0L167,848.7L177,847.5L187,846.4L197,845.4L207,844.5L217,843.8L227,843.2L237,842.8L247,842.6L257,842.5L267,843.0L277,844.1L287,845.7L297,847.9L307,850.3L317,852.9L327,855.5L337,857.9L347,859.9L357,861.4L367,862.3L377,862.5L387,862.4L397,862.1L407,861.6L417,861.0L427,860.2L437,859.3L447,858.3L457,857.1L467,855.9L477,854.6L487,853.3L497,852.0L507,850.6L517,849.3L527,848.1L537,846.9L547,845.9L557,844.9L567,844.1L577,843.5L587,843.0L597,842.7L607,842.5L617,842.6L627,843.4L637,844.8L647,846.7L657,849.1L667,851.6L677,854.2L687,856.7L697,858.9L707,860.7L717,861.9L727,862.5L737,862.5L747,862.3L757,861.9L767,861.3L777,860.6L787,859.8L797,858.8L807,857.7L817,856.5L827,855.3M47,884.1L57,883.6L67,882.9L77,882.0L87,881.1L97,880.0L107,878.8L117,877.6L127,876.3L137,874.9L147,873.6L157,872.3L167,871.0L177,869.8L187,868.7L197,867.7L207,866.8L217,866.0L227,865.5L237,865.0L247,864.8L257,864.7L267,865.1L277,866.1L287,867.8L297,869.9L307,872.3L317,874.9L327,877.5L337,879.9L347,881.9L357,883.5L367,884.4L377,884.7L387,884.6L397,884.3L407,883.9L417,883.2L427,882.5L437,881.6L447,880.5L457,879.4L467,878.2L477,876.9L487,875.6L497,874.3L507,872.9L517,871.6L527,870.4L537,869.2L547,868.2L557,867.2L567,866.4L577,865.7L587,865.2L597,864.9L607,864.7L617,864.8L627,865.5L637,866.9L647,868.8L657,871.1L667,873.6L677,876.2L687,878.7L697,881.0L707,882.8L717,884.0L727,884.6L737,884.7L747,884.5L757,884.1L767,883.6L777,882.9L787,882.0L797,881.1L807,880.0L817,878.8L827,877.6M47,906.3L57,905.8L67,905.1L77,904.3L87,903.4L97,902.3L107,901.1L117,899.9L127,898.6L137,897.2L147,895.9L157,894.6L167,893.3L177,892.1L187,891.0L197,889.9L207,889.1L217,888.3L227,887.7L237,887.3L247,887.0L257,886.9L267,887.2L277,888.2L287,889.8L297,891.9L307,894.3L317,896.9L327,899.5L337,901.9L347,904.0L357,905.6L367,906.6L377,906.9L387,906.8L397,906.5L407,906.1L417,905.5L427,904.7L437,903.9L447,902.8L457,901.7L467,900.5L477,899.2L487,897.9L497,896.6L507,895.2L517,893.9L527,892.7L537,891.5L547,890.4L557,889.5L567,888.7L577,888.0L587,887.5L597,887.1L607,886.9L617,887.0L627,887.7L637,889.0L647,890.8L657,893.1L667,895.6L677,898.2L687,900.7L697,903.0L707,904.8L717,906.1L727,906.8L737,906.9L747,906.7L757,906.3L767,905.8L777,905.1L787,904.3L797,903.4L807,902.3L817,901.1L827,899.9M47,928.6L57,928.1L67,927.4L77,926.6L87,925.6L97,924.6L107,923.4L117,922.2L127,920.9L137,919.5L147,918.2L157,916.9L167,915.6L177,914.4L187,913.3L197,912.2L207,911.3L217,910.6L227,909.9L237,909.5L247,909.2L257,909.1L267,909.4L277,910.3L287,911.9L297,913.9L307,916.3L317,918.9L327,921.5L337,923.9L347,926.0L357,927.7L367,928.7L377,929.1L387,929.0L397,928.8L407,928.3L417,927.8L427,927.0L437,926.1L447,925.1L457,924.0L467,922.8L477,921.5L487,920.2L497,918.9L507,917.5L517,916.2L527,915.0L537,913.8L547,912.7L557,911.8L567,910.9L577,910.2L587,909.7L597,909.3L607,909.1L617,909.2L627,909.8L637,911.0L647,912.8L657,915.1L667,917.6L677,920.2L687,922.7L697,925.0L707,926.9L717,928.3L727,929.0L737,929.1L747,928.9L757,928.6L767,928.1L777,927.4L787,926.6L797,925.6L807,924.6L817,923.4L827,922.2M47,950.8L57,950.3L67,949.7L77,948.9L87,947.9L97,946.9L107,945.7L117,944.5L127,943.2L137,941.8L147,940.5L157,939.2L167,937.9L177,936.7L187,935.5L197,934.5L207,933.6L217,932.8L227,932.2L237,931.7L247,931.4L257,931.3L267,931.5L277,932.4L287,933.9L297,935.9L307,938.3L317,940.9L327,943.5L337,945.9L347,948.1L357,949.7L367,950.8L377,951.3L387,951.2L397,951.0L407,950.6L417,950.0L427,949.3L437,948.4L447,947.4L457,946.3L467,945.1L477,943.8L487,942.5L497,941.2L507,939.8L517,938.5L527,937.3L537,936.1L547,935.0L557,934.0L567,933.2L577,932.5L587,931.9L597,931.5L607,931.3L617,931.3L627,931.9L637,933.1L647,934.9L657,937.1L667,939.6L677,942.2L687,944.7L697,947.1L707,949.0L717,950.4L727,951.2L737,951.3L747,951.1L757,950.8L767,950.3L777,949.7L787,948.9L797,947.9L807,946.9L817,945.7L827,944.5" fill="none" stroke="#e0f1ee" stroke-width="10.2" stroke-linejoin="round"/>
</g>
<rect x="57" y="808" width="768" height="98" fill="#cdd2d7"/>
<clipPath id="lc"><rect x="57" y="808" width="768" height="98"/></clipPath>
<g clip-path="url(#lc)">
<g filter="url(#soft)">
<path d="M47,747.8L57,747.2L67,746.6L77,745.9L87,745.1L97,744.3L107,743.5L117,742.7L127,742.0L137,741.2L147,740.5L157,739.8L167,739.2L177,738.7L187,738.3L197,737.9L207,737.7L217,737.5L227,737.5L237,737.8L247,738.5L257,739.5L267,740.8L277,742.3L287,743.8L297,745.4L307,746.8L317,748.0L327,748.8L337,749.4L347,749.5L357,749.4L367,749.2L377,749.0L387,748.6L397,748.1L407,747.6L417,746.9L427,746.2L437,745.5L447,744.7L457,743.9L467,743.1L477,742.3L487,741.6L497,740.8L507,740.1L517,739.5L527,738.9L537,738.5L547,738.1L557,737.8L567,737.6L577,737.5L587,737.6L597,738.1L607,738.9L617,740.1L627,741.5L637,743.0L647,744.6L657,746.1L667,747.4L677,748.4L687,749.2L697,749.5L707,749.5L717,749.3L727,749.1L737,748.8L747,748.4L757,747.8L767,747.2L777,746.6L787,745.9L797,745.1L807,744.3L817,743.5L827,742.7M47,767.8L57,767.2L67,766.6L77,765.9L87,765.1L97,764.3L107,763.5L117,762.7L127,762.0L137,761.2L147,760.5L157,759.8L167,759.2L177,758.7L187,758.3L197,757.9L207,757.7L217,757.5L227,757.5L237,757.8L247,758.5L257,759.5L267,760.8L277,762.3L287,763.8L297,765.4L307,766.8L317,768.0L327,768.8L337,769.4L347,769.5L357,769.4L367,769.2L377,769.0L387,768.6L397,768.1L407,767.6L417,766.9L427,766.2L437,765.5L447,764.7L457,763.9L467,763.1L477,762.3L487,761.6L497,760.8L507,760.1L517,759.5L527,758.9L537,758.5L547,758.1L557,757.8L567,757.6L577,757.5L587,757.6L597,758.1L607,758.9L617,760.1L627,761.5L637,763.0L647,764.6L657,766.1L667,767.4L677,768.4L687,769.2L697,769.5L707,769.5L717,769.3L727,769.1L737,768.8L747,768.4L757,767.8L767,767.2L777,766.6L787,765.9L797,765.1L807,764.3L817,763.5L827,762.7M47,787.8L57,787.2L67,786.6L77,785.9L87,785.1L97,784.3L107,783.5L117,782.7L127,782.0L137,781.2L147,780.5L157,779.8L167,779.2L177,778.7L187,778.3L197,777.9L207,777.7L217,777.5L227,777.5L237,777.8L247,778.5L257,779.5L267,780.8L277,782.3L287,783.8L297,785.4L307,786.8L317,788.0L327,788.8L337,789.4L347,789.5L357,789.4L367,789.2L377,789.0L387,788.6L397,788.1L407,787.6L417,786.9L427,786.2L437,785.5L447,784.7L457,783.9L467,783.1L477,782.3L487,781.6L497,780.8L507,780.1L517,779.5L527,778.9L537,778.5L547,778.1L557,777.8L567,777.6L577,777.5L587,777.6L597,778.1L607,778.9L617,780.1L627,781.5L637,783.0L647,784.6L657,786.1L667,787.4L677,788.4L687,789.2L697,789.5L707,789.5L717,789.3L727,789.1L737,788.8L747,788.4L757,787.8L767,787.2L777,786.6L787,785.9L797,785.1L807,784.3L817,783.5L827,782.7M47,807.8L57,807.2L67,806.6L77,805.9L87,805.1L97,804.3L107,803.5L117,802.7L127,802.0L137,801.2L147,800.5L157,799.8L167,799.2L177,798.7L187,798.3L197,797.9L207,797.7L217,797.5L227,797.5L237,797.8L247,798.5L257,799.5L267,800.8L277,802.3L287,803.8L297,805.4L307,806.8L317,808.0L327,808.8L337,809.4L347,809.5L357,809.4L367,809.2L377,809.0L387,808.6L397,808.1L407,807.6L417,806.9L427,806.2L437,805.5L447,804.7L457,803.9L467,803.1L477,802.3L487,801.6L497,800.8L507,800.1L517,799.5L527,798.9L537,798.5L547,798.1L557,797.8L567,797.6L577,797.5L587,797.6L597,798.1L607,798.9L617,800.1L627,801.5L637,803.0L647,804.6L657,806.1L667,807.4L677,808.4L687,809.2L697,809.5L707,809.5L717,809.3L727,809.1L737,808.8L747,808.4L757,807.8L767,807.2L777,806.6L787,805.9L797,805.1L807,804.3L817,803.5L827,802.7M47,827.8L57,827.2L67,826.6L77,825.9L87,825.1L97,824.3L107,823.5L117,822.7L127,822.0L137,821.2L147,820.5L157,819.8L167,819.2L177,818.7L187,818.3L197,817.9L207,817.7L217,817.5L227,817.5L237,817.8L247,818.5L257,819.5L267,820.8L277,822.3L287,823.8L297,825.4L307,826.8L317,828.0L327,828.8L337,829.4L347,829.5L357,829.4L367,829.2L377,829.0L387,828.6L397,828.1L407,827.6L417,826.9L427,826.2L437,825.5L447,824.7L457,823.9L467,823.1L477,822.3L487,821.6L497,820.8L507,820.1L517,819.5L527,818.9L537,818.5L547,818.1L557,817.8L567,817.6L577,817.5L587,817.6L597,818.1L607,818.9L617,820.1L627,821.5L637,823.0L647,824.6L657,826.1L667,827.4L677,828.4L687,829.2L697,829.5L707,829.5L717,829.3L727,829.1L737,828.8L747,828.4L757,827.8L767,827.2L777,826.6L787,825.9L797,825.1L807,824.3L817,823.5L827,822.7M47,847.8L57,847.2L67,846.6L77,845.9L87,845.1L97,844.3L107,843.5L117,842.7L127,842.0L137,841.2L147,840.5L157,839.8L167,839.2L177,838.7L187,838.3L197,837.9L207,837.7L217,837.5L227,837.5L237,837.8L247,838.5L257,839.5L267,840.8L277,842.3L287,843.8L297,845.4L307,846.8L317,848.0L327,848.8L337,849.4L347,849.5L357,849.4L367,849.2L377,849.0L387,848.6L397,848.1L407,847.6L417,846.9L427,846.2L437,845.5L447,844.7L457,843.9L467,843.1L477,842.3L487,841.6L497,840.8L507,840.1L517,839.5L527,838.9L537,838.5L547,838.1L557,837.8L567,837.6L577,837.5L587,837.6L597,838.1L607,838.9L617,840.1L627,841.5L637,843.0L647,844.6L657,846.1L667,847.4L677,848.4L687,849.2L697,849.5L707,849.5L717,849.3L727,849.1L737,848.8L747,848.4L757,847.8L767,847.2L777,846.6L787,845.9L797,845.1L807,844.3L817,843.5L827,842.7M47,867.8L57,867.2L67,866.6L77,865.9L87,865.1L97,864.3L107,863.5L117,862.7L127,862.0L137,861.2L147,860.5L157,859.8L167,859.2L177,858.7L187,858.3L197,857.9L207,857.7L217,857.5L227,857.5L237,857.8L247,858.5L257,859.5L267,860.8L277,862.3L287,863.8L297,865.4L307,866.8L317,868.0L327,868.8L337,869.4L347,869.5L357,869.4L367,869.2L377,869.0L387,868.6L397,868.1L407,867.6L417,866.9L427,866.2L437,865.5L447,864.7L457,863.9L467,863.1L477,862.3L487,861.6L497,860.8L507,860.1L517,859.5L527,858.9L537,858.5L547,858.1L557,857.8L567,857.6L577,857.5L587,857.6L597,858.1L607,858.9L617,860.1L627,861.5L637,863.0L647,864.6L657,866.1L667,867.4L677,868.4L687,869.2L697,869.5L707,869.5L717,869.3L727,869.1L737,868.8L747,868.4L757,867.8L767,867.2L777,866.6L787,865.9L797,865.1L807,864.3L817,863.5L827,862.7M47,887.8L57,887.2L67,886.6L77,885.9L87,885.1L97,884.3L107,883.5L117,882.7L127,882.0L137,881.2L147,880.5L157,879.8L167,879.2L177,878.7L187,878.3L197,877.9L207,877.7L217,877.5L227,877.5L237,877.8L247,878.5L257,879.5L267,880.8L277,882.3L287,883.8L297,885.4L307,886.8L317,888.0L327,888.8L337,889.4L347,889.5L357,889.4L367,889.2L377,889.0L387,888.6L397,888.1L407,887.6L417,886.9L427,886.2L437,885.5L447,884.7L457,883.9L467,883.1L477,882.3L487,881.6L497,880.8L507,880.1L517,879.5L527,878.9L537,878.5L547,878.1L557,877.8L567,877.6L577,877.5L587,877.6L597,878.1L607,878.9L617,880.1L627,881.5L637,883.0L647,884.6L657,886.1L667,887.4L677,888.4L687,889.2L697,889.5L707,889.5L717,889.3L727,889.1L737,888.8L747,888.4L757,887.8L767,887.2L777,886.6L787,885.9L797,885.1L807,884.3L817,883.5L827,882.7M47,907.8L57,907.2L67,906.6L77,905.9L87,905.1L97,904.3L107,903.5L117,902.7L127,902.0L137,901.2L147,900.5L157,899.8L167,899.2L177,898.7L187,898.3L197,897.9L207,897.7L217,897.5L227,897.5L237,897.8L247,898.5L257,899.5L267,900.8L277,902.3L287,903.8L297,905.4L307,906.8L317,908.0L327,908.8L337,909.4L347,909.5L357,909.4L367,909.2L377,909.0L387,908.6L397,908.1L407,907.6L417,906.9L427,906.2L437,905.5L447,904.7L457,903.9L467,903.1L477,902.3L487,901.6L497,900.8L507,900.1L517,899.5L527,898.9L537,898.5L547,898.1L557,897.8L567,897.6L577,897.5L587,897.6L597,898.1L607,898.9L617,900.1L627,901.5L637,903.0L647,904.6L657,906.1L667,907.4L677,908.4L687,909.2L697,909.5L707,909.5L717,909.3L727,909.1L737,908.8L747,908.4L757,907.8L767,907.2L777,906.6L787,905.9L797,905.1L807,904.3L817,903.5L827,902.7M47,927.8L57,927.2L67,926.6L77,925.9L87,925.1L97,924.3L107,923.5L117,922.7L127,922.0L137,921.2L147,920.5L157,919.8L167,919.2L177,918.7L187,918.3L197,917.9L207,917.7L217,917.5L227,917.5L237,917.8L247,918.5L257,919.5L267,920.8L277,922.3L287,923.8L297,925.4L307,926.8L317,928.0L327,928.8L337,929.4L347,929.5L357,929.4L367,929.2L377,929.0L387,928.6L397,928.1L407,927.6L417,926.9L427,926.2L437,925.5L447,924.7L457,923.9L467,923.1L477,922.3L487,921.6L497,920.8L507,920.1L517,919.5L527,918.9L537,918.5L547,918.1L557,917.8L567,917.6L577,917.5L587,917.6L597,918.1L607,918.9L617,920.1L627,921.5L637,923.0L647,924.6L657,926.1L667,927.4L677,928.4L687,929.2L697,929.5L707,929.5L717,929.3L727,929.1L737,928.8L747,928.4L757,927.8L767,927.2L777,926.6L787,925.9L797,925.1L807,924.3L817,923.5L827,922.7M47,947.8L57,947.2L67,946.6L77,945.9L87,945.1L97,944.3L107,943.5L117,942.7L127,942.0L137,941.2L147,940.5L157,939.8L167,939.2L177,938.7L187,938.3L197,937.9L207,937.7L217,937.5L227,937.5L237,937.8L247,938.5L257,939.5L267,940.8L277,942.3L287,943.8L297,945.4L307,946.8L317,948.0L327,948.8L337,949.4L347,949.5L357,949.4L367,949.2L377,949.0L387,948.6L397,948.1L407,947.6L417,946.9L427,946.2L437,945.5L447,944.7L457,943.9L467,943.1L477,942.3L487,941.6L497,940.8L507,940.1L517,939.5L527,938.9L537,938.5L547,938.1L557,937.8L567,937.6L577,937.5L587,937.6L597,938.1L607,938.9L617,940.1L627,941.5L637,943.0L647,944.6L657,946.1L667,947.4L677,948.4L687,949.2L697,949.5L707,949.5L717,949.3L727,949.1L737,948.8L747,948.4L757,947.8L767,947.2L777,946.6L787,945.9L797,945.1L807,944.3L817,943.5L827,942.7" fill="none" stroke="#c4ced6" stroke-width="7" stroke-linejoin="round"/>
<path d="M47,758.3L57,757.7L67,757.1L77,756.4L87,755.6L97,754.8L107,754.0L117,753.2L127,752.5L137,751.7L147,751.0L157,750.3L167,749.7L177,749.2L187,748.8L197,748.4L207,748.2L217,748.0L227,748.0L237,748.3L247,749.0L257,750.0L267,751.3L277,752.8L287,754.3L297,755.9L307,757.3L317,758.5L327,759.3L337,759.9L347,760.0L357,759.9L367,759.7L377,759.5L387,759.1L397,758.6L407,758.1L417,757.4L427,756.7L437,756.0L447,755.2L457,754.4L467,753.6L477,752.8L487,752.1L497,751.3L507,750.6L517,750.0L527,749.4L537,749.0L547,748.6L557,748.3L567,748.1L577,748.0L587,748.1L597,748.6L607,749.4L617,750.6L627,752.0L637,753.5L647,755.1L657,756.6L667,757.9L677,758.9L687,759.7L697,760.0L707,760.0L717,759.8L727,759.6L737,759.3L747,758.9L757,758.3L767,757.7L777,757.1L787,756.4L797,755.6L807,754.8L817,754.0L827,753.2M47,778.3L57,777.7L67,777.1L77,776.4L87,775.6L97,774.8L107,774.0L117,773.2L127,772.5L137,771.7L147,771.0L157,770.3L167,769.7L177,769.2L187,768.8L197,768.4L207,768.2L217,768.0L227,768.0L237,768.3L247,769.0L257,770.0L267,771.3L277,772.8L287,774.3L297,775.9L307,777.3L317,778.5L327,779.3L337,779.9L347,780.0L357,779.9L367,779.7L377,779.5L387,779.1L397,778.6L407,778.1L417,777.4L427,776.7L437,776.0L447,775.2L457,774.4L467,773.6L477,772.8L487,772.1L497,771.3L507,770.6L517,770.0L527,769.4L537,769.0L547,768.6L557,768.3L567,768.1L577,768.0L587,768.1L597,768.6L607,769.4L617,770.6L627,772.0L637,773.5L647,775.1L657,776.6L667,777.9L677,778.9L687,779.7L697,780.0L707,780.0L717,779.8L727,779.6L737,779.3L747,778.9L757,778.3L767,777.7L777,777.1L787,776.4L797,775.6L807,774.8L817,774.0L827,773.2M47,798.3L57,797.7L67,797.1L77,796.4L87,795.6L97,794.8L107,794.0L117,793.2L127,792.5L137,791.7L147,791.0L157,790.3L167,789.7L177,789.2L187,788.8L197,788.4L207,788.2L217,788.0L227,788.0L237,788.3L247,789.0L257,790.0L267,791.3L277,792.8L287,794.3L297,795.9L307,797.3L317,798.5L327,799.3L337,799.9L347,800.0L357,799.9L367,799.7L377,799.5L387,799.1L397,798.6L407,798.1L417,797.4L427,796.7L437,796.0L447,795.2L457,794.4L467,793.6L477,792.8L487,792.1L497,791.3L507,790.6L517,790.0L527,789.4L537,789.0L547,788.6L557,788.3L567,788.1L577,788.0L587,788.1L597,788.6L607,789.4L617,790.6L627,792.0L637,793.5L647,795.1L657,796.6L667,797.9L677,798.9L687,799.7L697,800.0L707,800.0L717,799.8L727,799.6L737,799.3L747,798.9L757,798.3L767,797.7L777,797.1L787,796.4L797,795.6L807,794.8L817,794.0L827,793.2M47,818.3L57,817.7L67,817.1L77,816.4L87,815.6L97,814.8L107,814.0L117,813.2L127,812.5L137,811.7L147,811.0L157,810.3L167,809.7L177,809.2L187,808.8L197,808.4L207,808.2L217,808.0L227,808.0L237,808.3L247,809.0L257,810.0L267,811.3L277,812.8L287,814.3L297,815.9L307,817.3L317,818.5L327,819.3L337,819.9L347,820.0L357,819.9L367,819.7L377,819.5L387,819.1L397,818.6L407,818.1L417,817.4L427,816.7L437,816.0L447,815.2L457,814.4L467,813.6L477,812.8L487,812.1L497,811.3L507,810.6L517,810.0L527,809.4L537,809.0L547,808.6L557,808.3L567,808.1L577,808.0L587,808.1L597,808.6L607,809.4L617,810.6L627,812.0L637,813.5L647,815.1L657,816.6L667,817.9L677,818.9L687,819.7L697,820.0L707,820.0L717,819.8L727,819.6L737,819.3L747,818.9L757,818.3L767,817.7L777,817.1L787,816.4L797,815.6L807,814.8L817,814.0L827,813.2M47,838.3L57,837.7L67,837.1L77,836.4L87,835.6L97,834.8L107,834.0L117,833.2L127,832.5L137,831.7L147,831.0L157,830.3L167,829.7L177,829.2L187,828.8L197,828.4L207,828.2L217,828.0L227,828.0L237,828.3L247,829.0L257,830.0L267,831.3L277,832.8L287,834.3L297,835.9L307,837.3L317,838.5L327,839.3L337,839.9L347,840.0L357,839.9L367,839.7L377,839.5L387,839.1L397,838.6L407,838.1L417,837.4L427,836.7L437,836.0L447,835.2L457,834.4L467,833.6L477,832.8L487,832.1L497,831.3L507,830.6L517,830.0L527,829.4L537,829.0L547,828.6L557,828.3L567,828.1L577,828.0L587,828.1L597,828.6L607,829.4L617,830.6L627,832.0L637,833.5L647,835.1L657,836.6L667,837.9L677,838.9L687,839.7L697,840.0L707,840.0L717,839.8L727,839.6L737,839.3L747,838.9L757,838.3L767,837.7L777,837.1L787,836.4L797,835.6L807,834.8L817,834.0L827,833.2M47,858.3L57,857.7L67,857.1L77,856.4L87,855.6L97,854.8L107,854.0L117,853.2L127,852.5L137,851.7L147,851.0L157,850.3L167,849.7L177,849.2L187,848.8L197,848.4L207,848.2L217,848.0L227,848.0L237,848.3L247,849.0L257,850.0L267,851.3L277,852.8L287,854.3L297,855.9L307,857.3L317,858.5L327,859.3L337,859.9L347,860.0L357,859.9L367,859.7L377,859.5L387,859.1L397,858.6L407,858.1L417,857.4L427,856.7L437,856.0L447,855.2L457,854.4L467,853.6L477,852.8L487,852.1L497,851.3L507,850.6L517,850.0L527,849.4L537,849.0L547,848.6L557,848.3L567,848.1L577,848.0L587,848.1L597,848.6L607,849.4L617,850.6L627,852.0L637,853.5L647,855.1L657,856.6L667,857.9L677,858.9L687,859.7L697,860.0L707,860.0L717,859.8L727,859.6L737,859.3L747,858.9L757,858.3L767,857.7L777,857.1L787,856.4L797,855.6L807,854.8L817,854.0L827,853.2M47,878.3L57,877.7L67,877.1L77,876.4L87,875.6L97,874.8L107,874.0L117,873.2L127,872.5L137,871.7L147,871.0L157,870.3L167,869.7L177,869.2L187,868.8L197,868.4L207,868.2L217,868.0L227,868.0L237,868.3L247,869.0L257,870.0L267,871.3L277,872.8L287,874.3L297,875.9L307,877.3L317,878.5L327,879.3L337,879.9L347,880.0L357,879.9L367,879.7L377,879.5L387,879.1L397,878.6L407,878.1L417,877.4L427,876.7L437,876.0L447,875.2L457,874.4L467,873.6L477,872.8L487,872.1L497,871.3L507,870.6L517,870.0L527,869.4L537,869.0L547,868.6L557,868.3L567,868.1L577,868.0L587,868.1L597,868.6L607,869.4L617,870.6L627,872.0L637,873.5L647,875.1L657,876.6L667,877.9L677,878.9L687,879.7L697,880.0L707,880.0L717,879.8L727,879.6L737,879.3L747,878.9L757,878.3L767,877.7L777,877.1L787,876.4L797,875.6L807,874.8L817,874.0L827,873.2M47,898.3L57,897.7L67,897.1L77,896.4L87,895.6L97,894.8L107,894.0L117,893.2L127,892.5L137,891.7L147,891.0L157,890.3L167,889.7L177,889.2L187,888.8L197,888.4L207,888.2L217,888.0L227,888.0L237,888.3L247,889.0L257,890.0L267,891.3L277,892.8L287,894.3L297,895.9L307,897.3L317,898.5L327,899.3L337,899.9L347,900.0L357,899.9L367,899.7L377,899.5L387,899.1L397,898.6L407,898.1L417,897.4L427,896.7L437,896.0L447,895.2L457,894.4L467,893.6L477,892.8L487,892.1L497,891.3L507,890.6L517,890.0L527,889.4L537,889.0L547,888.6L557,888.3L567,888.1L577,888.0L587,888.1L597,888.6L607,889.4L617,890.6L627,892.0L637,893.5L647,895.1L657,896.6L667,897.9L677,898.9L687,899.7L697,900.0L707,900.0L717,899.8L727,899.6L737,899.3L747,898.9L757,898.3L767,897.7L777,897.1L787,896.4L797,895.6L807,894.8L817,894.0L827,893.2M47,918.3L57,917.7L67,917.1L77,916.4L87,915.6L97,914.8L107,914.0L117,913.2L127,912.5L137,911.7L147,911.0L157,910.3L167,909.7L177,909.2L187,908.8L197,908.4L207,908.2L217,908.0L227,908.0L237,908.3L247,909.0L257,910.0L267,911.3L277,912.8L287,914.3L297,915.9L307,917.3L317,918.5L327,919.3L337,919.9L347,920.0L357,919.9L367,919.7L377,919.5L387,919.1L397,918.6L407,918.1L417,917.4L427,916.7L437,916.0L447,915.2L457,914.4L467,913.6L477,912.8L487,912.1L497,911.3L507,910.6L517,910.0L527,909.4L537,909.0L547,908.6L557,908.3L567,908.1L577,908.0L587,908.1L597,908.6L607,909.4L617,910.6L627,912.0L637,913.5L647,915.1L657,916.6L667,917.9L677,918.9L687,919.7L697,920.0L707,920.0L717,919.8L727,919.6L737,919.3L747,918.9L757,918.3L767,917.7L777,917.1L787,916.4L797,915.6L807,914.8L817,914.0L827,913.2M47,938.3L57,937.7L67,937.1L77,936.4L87,935.6L97,934.8L107,934.0L117,933.2L127,932.5L137,931.7L147,931.0L157,930.3L167,929.7L177,929.2L187,928.8L197,928.4L207,928.2L217,928.0L227,928.0L237,928.3L247,929.0L257,930.0L267,931.3L277,932.8L287,934.3L297,935.9L307,937.3L317,938.5L327,939.3L337,939.9L347,940.0L357,939.9L367,939.7L377,939.5L387,939.1L397,938.6L407,938.1L417,937.4L427,936.7L437,936.0L447,935.2L457,934.4L467,933.6L477,932.8L487,932.1L497,931.3L507,930.6L517,930.0L527,929.4L537,929.0L547,928.6L557,928.3L567,928.1L577,928.0L587,928.1L597,928.6L607,929.4L617,930.6L627,932.0L637,933.5L647,935.1L657,936.6L667,937.9L677,938.9L687,939.7L697,940.0L707,940.0L717,939.8L727,939.6L737,939.3L747,938.9L757,938.3L767,937.7L777,937.1L787,936.4L797,935.6L807,934.8L817,934.0L827,933.2M47,958.3L57,957.7L67,957.1L77,956.4L87,955.6L97,954.8L107,954.0L117,953.2L127,952.5L137,951.7L147,951.0L157,950.3L167,949.7L177,949.2L187,948.8L197,948.4L207,948.2L217,948.0L227,948.0L237,948.3L247,949.0L257,950.0L267,951.3L277,952.8L287,954.3L297,955.9L307,957.3L317,958.5L327,959.3L337,959.9L347,960.0L357,959.9L367,959.7L377,959.5L387,959.1L397,958.6L407,958.1L417,957.4L427,956.7L437,956.0L447,955.2L457,954.4L467,953.6L477,952.8L487,952.1L497,951.3L507,950.6L517,950.0L527,949.4L537,949.0L547,948.6L557,948.3L567,948.1L577,948.0L587,948.1L597,948.6L607,949.4L617,950.6L627,952.0L637,953.5L647,955.1L657,956.6L667,957.9L677,958.9L687,959.7L697,960.0L707,960.0L717,959.8L727,959.6L737,959.3L747,958.9L757,958.3L767,957.7L777,957.1L787,956.4L797,955.6L807,954.8L817,954.0L827,953.2" fill="none" stroke="#d6d9dc" stroke-width="6" stroke-linejoin="round"/>
</g>
</g>
</g>
<rect x="56.4" y="109.4" width="769.2" height="797.2" rx="36.6" fill="none" stroke="#ffffff" stroke-width="1.3" stroke-opacity="0.9"/>
<clipPath id="sp"><rect x="105" y="349" width="295" height="420" rx="34"/><rect x="474" y="344" width="304" height="422" rx="34"/></clipPath>
<g clip-path="url(#sp)">
<rect x="100" y="340" width="690" height="440" fill="#f5f5f0"/>
<g filter="url(#soft)">
<path d="M90,293.4L100,292.2L110,290.9L120,289.5L130,288.2L140,286.9L150,285.6L160,284.5L170,283.4L180,282.4L190,281.6L200,280.9L210,280.4L220,280.0L230,279.8L240,279.9L250,280.5L260,281.8L270,283.6L280,285.9L290,288.4L300,291.0L310,293.5L320,295.8L330,297.7L340,299.0L350,299.7L360,299.8L370,299.6L380,299.3L390,298.7L400,298.1L410,297.3L420,296.3L430,295.2L440,294.1L450,292.8L460,291.5L470,290.2L480,288.9L490,287.5L500,286.3L510,285.0L520,283.9L530,282.9L540,282.0L550,281.2L560,280.6L570,280.2L580,279.9L590,279.8L600,280.1L610,281.1L620,282.7L630,284.7L640,287.1L650,289.7L660,292.3L670,294.7L680,296.8L690,298.4L700,299.4L710,299.8L720,299.7L730,299.5L740,299.0L750,298.4L760,297.7L770,296.8L780,295.8L790,294.7L800,293.4M90,304.6L100,303.3L110,302.0L120,300.7L130,299.3L140,298.0L150,296.8L160,295.6L170,294.5L180,293.6L190,292.7L200,292.0L210,291.5L220,291.1L230,290.9L240,291.0L250,291.6L260,292.8L270,294.6L280,296.9L290,299.4L300,302.0L310,304.5L320,306.8L330,308.7L340,310.1L350,310.8L360,310.9L370,310.7L380,310.4L390,309.9L400,309.2L410,308.4L420,307.4L430,306.4L440,305.2L450,304.0L460,302.7L470,301.3L480,300.0L490,298.7L500,297.4L510,296.2L520,295.1L530,294.0L540,293.1L550,292.4L560,291.7L570,291.3L580,291.0L590,290.9L600,291.2L610,292.1L620,293.7L630,295.7L640,298.1L650,300.7L660,303.3L670,305.7L680,307.8L690,309.5L700,310.5L710,310.9L720,310.8L730,310.6L740,310.1L750,309.6L760,308.8L770,307.9L780,306.9L790,305.8L800,304.6M90,315.7L100,314.5L110,313.2L120,311.8L130,310.5L140,309.2L150,307.9L160,306.8L170,305.7L180,304.7L190,303.8L200,303.1L210,302.6L220,302.2L230,302.0L240,302.0L250,302.6L260,303.9L270,305.7L280,307.9L290,310.4L300,313.0L310,315.5L320,317.8L330,319.7L340,321.1L350,321.9L360,322.0L370,321.8L380,321.5L390,321.0L400,320.3L410,319.5L420,318.6L430,317.5L440,316.4L450,315.1L460,313.8L470,312.5L480,311.2L490,309.8L500,308.6L510,307.3L520,306.2L530,305.2L540,304.3L550,303.5L560,302.9L570,302.4L580,302.1L590,302.0L600,302.3L610,303.2L620,304.7L630,306.7L640,309.1L650,311.7L660,314.3L670,316.7L680,318.8L690,320.5L700,321.6L710,322.0L720,321.9L730,321.7L740,321.3L750,320.7L760,319.9L770,319.1L780,318.1L790,316.9L800,315.7M90,326.9L100,325.6L110,324.3L120,323.0L130,321.6L140,320.3L150,319.1L160,317.9L170,316.8L180,315.8L190,315.0L200,314.3L210,313.7L220,313.3L230,313.1L240,313.1L250,313.7L260,314.9L270,316.7L280,318.9L290,321.4L300,324.0L310,326.5L320,328.9L330,330.8L340,332.2L350,333.0L360,333.1L370,332.9L380,332.6L390,332.1L400,331.5L410,330.7L420,329.7L430,328.7L440,327.5L450,326.3L460,325.0L470,323.6L480,322.3L490,321.0L500,319.7L510,318.5L520,317.3L530,316.3L540,315.4L550,314.6L560,314.0L570,313.5L580,313.2L590,313.1L600,313.3L610,314.2L620,315.7L630,317.7L640,320.1L650,322.7L660,325.3L670,327.7L680,329.9L690,331.5L700,332.6L710,333.1L720,333.0L730,332.8L740,332.4L750,331.8L760,331.1L770,330.2L780,329.2L790,328.1L800,326.9M90,338.0L100,336.8L110,335.5L120,334.1L130,332.8L140,331.5L150,330.2L160,329.0L170,328.0L180,327.0L190,326.1L200,325.4L210,324.8L220,324.5L230,324.2L240,324.2L250,324.8L260,326.0L270,327.7L280,329.9L290,332.4L300,335.0L310,337.5L320,339.9L330,341.8L340,343.2L350,344.0L360,344.2L370,344.0L380,343.7L390,343.2L400,342.6L410,341.8L420,340.9L430,339.8L440,338.7L450,337.4L460,336.1L470,334.8L480,333.5L490,332.1L500,330.9L510,329.6L520,328.5L530,327.4L540,326.5L550,325.7L560,325.1L570,324.6L580,324.3L590,324.2L600,324.4L610,325.3L620,326.8L630,328.8L640,331.1L650,333.7L660,336.3L670,338.7L680,340.9L690,342.6L700,343.7L710,344.2L720,344.1L730,343.9L740,343.5L750,342.9L760,342.2L770,341.3L780,340.3L790,339.2L800,338.0M90,349.2L100,347.9L110,346.6L120,345.3L130,344.0L140,342.6L150,341.4L160,340.2L170,339.1L180,338.1L190,337.2L200,336.5L210,336.0L220,335.6L230,335.3L240,335.3L250,335.8L260,337.0L270,338.7L280,340.9L290,343.4L300,346.0L310,348.5L320,350.9L330,352.8L340,354.3L350,355.1L360,355.3L370,355.2L380,354.8L390,354.4L400,353.7L410,352.9L420,352.0L430,350.9L440,349.8L450,348.6L460,347.3L470,346.0L480,344.6L490,343.3L500,342.0L510,340.8L520,339.6L530,338.6L540,337.7L550,336.9L560,336.2L570,335.7L580,335.4L590,335.3L600,335.5L610,336.3L620,337.8L630,339.8L640,342.1L650,344.7L660,347.3L670,349.7L680,351.9L690,353.6L700,354.8L710,355.3L720,355.2L730,355.0L740,354.6L750,354.1L760,353.3L770,352.5L780,351.5L790,350.4L800,349.2M90,360.3L100,359.1L110,357.8L120,356.4L130,355.1L140,353.8L150,352.5L160,351.3L170,350.2L180,349.2L190,348.4L200,347.6L210,347.1L220,346.7L230,346.5L240,346.4L250,346.9L260,348.0L270,349.7L280,351.9L290,354.4L300,357.0L310,359.5L320,361.9L330,363.9L340,365.3L350,366.2L360,366.4L370,366.3L380,366.0L390,365.5L400,364.9L410,364.1L420,363.1L430,362.1L440,360.9L450,359.7L460,358.4L470,357.1L480,355.8L490,354.4L500,353.2L510,351.9L520,350.8L530,349.7L540,348.8L550,348.0L560,347.3L570,346.9L580,346.5L590,346.4L600,346.6L610,347.4L620,348.8L630,350.8L640,353.1L650,355.7L660,358.3L670,360.8L680,362.9L690,364.7L700,365.8L710,366.4L720,366.4L730,366.1L740,365.7L750,365.2L760,364.5L770,363.6L780,362.6L790,361.5L800,360.3M90,371.5L100,370.2L110,368.9L120,367.6L130,366.3L140,364.9L150,363.7L160,362.5L170,361.4L180,360.4L190,359.5L200,358.8L210,358.2L220,357.8L230,357.6L240,357.5L250,358.0L260,359.1L270,360.8L280,362.9L290,365.4L300,368.0L310,370.5L320,372.9L330,374.9L340,376.4L350,377.3L360,377.5L370,377.4L380,377.1L390,376.6L400,376.0L410,375.2L420,374.3L430,373.2L440,372.1L450,370.9L460,369.6L470,368.3L480,366.9L490,365.6L500,364.3L510,363.1L520,361.9L530,360.9L540,359.9L550,359.1L560,358.5L570,358.0L580,357.7L590,357.5L600,357.7L610,358.5L620,359.9L630,361.8L640,364.1L650,366.7L660,369.3L670,371.8L680,374.0L690,375.7L700,376.9L710,377.5L720,377.5L730,377.2L740,376.9L750,376.3L760,375.6L770,374.8L780,373.8L790,372.7L800,371.5M90,382.6L100,381.4L110,380.1L120,378.7L130,377.4L140,376.1L150,374.8L160,373.6L170,372.5L180,371.5L190,370.6L200,369.9L210,369.3L220,368.9L230,368.7L240,368.6L250,369.0L260,370.1L270,371.8L280,373.9L290,376.4L300,379.0L310,381.5L320,383.9L330,385.9L340,387.4L350,388.3L360,388.6L370,388.5L380,388.2L390,387.7L400,387.1L410,386.3L420,385.4L430,384.4L440,383.2L450,382.0L460,380.7L470,379.4L480,378.1L490,376.8L500,375.5L510,374.2L520,373.1L530,372.0L540,371.1L550,370.3L560,369.6L570,369.1L580,368.8L590,368.6L600,368.7L610,369.5L620,370.9L630,372.8L640,375.1L650,377.7L660,380.3L670,382.8L680,385.0L690,386.8L700,388.0L710,388.6L720,388.6L730,388.4L740,388.0L750,387.4L760,386.7L770,385.9L780,384.9L790,383.8L800,382.6M90,393.8L100,392.5L110,391.2L120,389.9L130,388.6L140,387.3L150,386.0L160,384.8L170,383.7L180,382.7L190,381.8L200,381.0L210,380.4L220,380.0L230,379.8L240,379.7L250,380.1L260,381.2L270,382.8L280,384.9L290,387.4L300,390.0L310,392.5L320,394.9L330,397.0L340,398.5L350,399.4L360,399.7L370,399.6L380,399.3L390,398.9L400,398.2L410,397.5L420,396.6L430,395.5L440,394.4L450,393.2L460,391.9L470,390.6L480,389.2L490,387.9L500,386.6L510,385.4L520,384.2L530,383.1L540,382.2L550,381.4L560,380.7L570,380.2L580,379.9L590,379.7L600,379.8L610,380.6L620,381.9L630,383.8L640,386.1L650,388.7L660,391.3L670,393.8L680,396.0L690,397.8L700,399.0L710,399.6L720,399.7L730,399.5L740,399.1L750,398.6L760,397.9L770,397.0L780,396.1L790,395.0L800,393.8M90,404.9L100,403.7L110,402.4L120,401.1L130,399.7L140,398.4L150,397.1L160,395.9L170,394.8L180,393.8L190,392.9L200,392.2L210,391.6L220,391.1L230,390.9L240,390.8L250,391.2L260,392.2L270,393.8L280,395.9L290,398.4L300,401.0L310,403.5L320,405.9L330,408.0L340,409.5L350,410.5L360,410.8L370,410.7L380,410.4L390,410.0L400,409.4L410,408.6L420,407.7L430,406.7L440,405.5L450,404.3L460,403.0L470,401.7L480,400.4L490,399.1L500,397.8L510,396.5L520,395.4L530,394.3L540,393.3L550,392.5L560,391.8L570,391.3L580,391.0L590,390.8L600,390.9L610,391.6L620,393.0L630,394.8L640,397.1L650,399.7L660,402.3L670,404.8L680,407.0L690,408.8L700,410.1L710,410.7L720,410.8L730,410.6L740,410.2L750,409.7L760,409.0L770,408.2L780,407.2L790,406.1L800,404.9M90,416.1L100,414.8L110,413.5L120,412.2L130,410.9L140,409.6L150,408.3L160,407.1L170,405.9L180,404.9L190,404.0L200,403.3L210,402.7L220,402.2L230,402.0L240,401.9L250,402.3L260,403.3L270,404.9L280,406.9L290,409.4L300,412.0L310,414.5L320,416.9L330,419.0L340,420.6L350,421.6L360,421.9L370,421.8L380,421.5L390,421.1L400,420.5L410,419.7L420,418.8L430,417.8L440,416.7L450,415.5L460,414.2L470,412.9L480,411.5L490,410.2L500,408.9L510,407.7L520,406.5L530,405.4L540,404.5L550,403.6L560,403.0L570,402.4L580,402.1L590,401.9L600,402.0L610,402.7L620,404.0L630,405.9L640,408.1L650,410.6L660,413.3L670,415.8L680,418.0L690,419.9L700,421.2L710,421.8L720,421.9L730,421.7L740,421.3L750,420.8L760,420.1L770,419.3L780,418.3L790,417.3L800,416.1M90,427.2L100,426.0L110,424.7L120,423.4L130,422.0L140,420.7L150,419.4L160,418.2L170,417.1L180,416.1L190,415.2L200,414.4L210,413.8L220,413.4L230,413.1L240,413.0L250,413.3L260,414.3L270,415.9L280,418.0L290,420.4L300,422.9L310,425.5L320,428.0L330,430.0L340,431.6L350,432.6L360,433.0L370,432.9L380,432.7L390,432.2L400,431.6L410,430.9L420,430.0L430,429.0L440,427.8L450,426.6L460,425.3L470,424.0L480,422.7L490,421.4L500,420.1L510,418.8L520,417.6L530,416.6L540,415.6L550,414.8L560,414.1L570,413.6L580,413.2L590,413.0L600,413.1L610,413.7L620,415.0L630,416.9L640,419.1L650,421.6L660,424.3L670,426.8L680,429.0L690,430.9L700,432.2L710,432.9L720,433.0L730,432.8L740,432.5L750,431.9L760,431.3L770,430.4L780,429.5L790,428.4L800,427.2M90,438.4L100,437.1L110,435.8L120,434.5L130,433.2L140,431.9L150,430.6L160,429.4L170,428.2L180,427.2L190,426.3L200,425.5L210,424.9L220,424.5L230,424.2L240,424.1L250,424.4L260,425.4L270,426.9L280,429.0L290,431.4L300,433.9L310,436.5L320,439.0L330,441.1L340,442.7L350,443.7L360,444.1L370,444.0L380,443.8L390,443.3L400,442.7L410,442.0L420,441.1L430,440.1L440,439.0L450,437.8L460,436.5L470,435.2L480,433.8L490,432.5L500,431.2L510,430.0L520,428.8L530,427.7L540,426.7L550,425.9L560,425.2L570,424.7L580,424.3L590,424.1L600,424.2L610,424.8L620,426.1L630,427.9L640,430.1L650,432.6L660,435.2L670,437.8L680,440.1L690,441.9L700,443.3L710,444.0L720,444.1L730,443.9L740,443.6L750,443.1L760,442.4L770,441.6L780,440.6L790,439.5L800,438.4M90,449.5L100,448.3L110,447.0L120,445.7L130,444.3L140,443.0L150,441.7L160,440.5L170,439.4L180,438.3L190,437.4L200,436.7L210,436.0L220,435.6L230,435.3L240,435.2L250,435.5L260,436.4L270,437.9L280,440.0L290,442.4L300,444.9L310,447.5L320,450.0L330,452.1L340,453.7L350,454.8L360,455.2L370,455.1L380,454.9L390,454.5L400,453.9L410,453.1L420,452.2L430,451.2L440,450.1L450,448.9L460,447.6L470,446.3L480,445.0L490,443.7L500,442.4L510,441.1L520,439.9L530,438.8L540,437.9L550,437.0L560,436.3L570,435.8L580,435.4L590,435.2L600,435.3L610,435.9L620,437.1L630,438.9L640,441.1L650,443.6L660,446.2L670,448.8L680,451.1L690,453.0L700,454.3L710,455.1L720,455.2L730,455.0L740,454.7L750,454.2L760,453.5L770,452.7L780,451.8L790,450.7L800,449.5M90,460.7L100,459.4L110,458.1L120,456.8L130,455.5L140,454.2L150,452.9L160,451.7L170,450.5L180,449.5L190,448.6L200,447.8L210,447.2L220,446.7L230,446.4L240,446.3L250,446.6L260,447.5L270,449.0L280,451.0L290,453.4L300,455.9L310,458.5L320,461.0L330,463.1L340,464.8L350,465.9L360,466.3L370,466.2L380,466.0L390,465.6L400,465.0L410,464.3L420,463.4L430,462.4L440,461.3L450,460.1L460,458.8L470,457.5L480,456.2L490,454.8L500,453.5L510,452.3L520,451.1L530,450.0L540,449.0L550,448.2L560,447.5L570,446.9L580,446.5L590,446.3L600,446.3L610,446.9L620,448.1L630,449.9L640,452.1L650,454.6L660,457.2L670,459.8L680,462.1L690,464.0L700,465.4L710,466.2L720,466.3L730,466.1L740,465.8L750,465.3L760,464.6L770,463.8L780,462.9L790,461.8L800,460.7M90,471.8L100,470.6L110,469.3L120,468.0L130,466.6L140,465.3L150,464.0L160,462.8L170,461.7L180,460.6L190,459.7L200,458.9L210,458.3L220,457.8L230,457.5L240,457.4L250,457.6L260,458.5L270,460.0L280,462.0L290,464.4L300,466.9L310,469.5L320,472.0L330,474.1L340,475.8L350,476.9L360,477.4L370,477.3L380,477.1L390,476.7L400,476.1L410,475.4L420,474.5L430,473.5L440,472.4L450,471.2L460,470.0L470,468.6L480,467.3L490,466.0L500,464.7L510,463.4L520,462.2L530,461.1L540,460.1L550,459.3L560,458.6L570,458.0L580,457.7L590,457.4L600,457.4L610,458.0L620,459.2L630,460.9L640,463.1L650,465.6L660,468.2L670,470.8L680,473.1L690,475.0L700,476.4L710,477.2L720,477.4L730,477.2L740,476.9L750,476.4L760,475.8L770,475.0L780,474.0L790,473.0L800,471.8M90,483.0L100,481.7L110,480.5L120,479.1L130,477.8L140,476.5L150,475.2L160,474.0L170,472.8L180,471.8L190,470.8L200,470.0L210,469.4L220,468.9L230,468.6L240,468.5L250,468.7L260,469.6L270,471.0L280,473.0L290,475.4L300,477.9L310,480.5L320,483.0L330,485.2L340,486.9L350,488.0L360,488.5L370,488.4L380,488.2L390,487.8L400,487.3L410,486.5L420,485.7L430,484.7L440,483.6L450,482.4L460,481.1L470,479.8L480,478.5L490,477.1L500,475.8L510,474.6L520,473.4L530,472.3L540,471.3L550,470.4L560,469.7L570,469.2L580,468.8L590,468.5L600,468.5L610,469.1L620,470.2L630,472.0L640,474.1L650,476.6L660,479.2L670,481.8L680,484.1L690,486.1L700,487.5L710,488.3L720,488.5L730,488.4L740,488.0L750,487.6L760,486.9L770,486.1L780,485.2L790,484.1L800,483.0M90,494.1L100,492.9L110,491.6L120,490.3L130,488.9L140,487.6L150,486.3L160,485.1L170,484.0L180,482.9L190,482.0L200,481.2L210,480.5L220,480.1L230,479.7L240,479.6L250,479.8L260,480.6L270,482.1L280,484.0L290,486.4L300,488.9L310,491.5L320,494.0L330,496.2L340,497.9L350,499.1L360,499.6L370,499.6L380,499.3L390,498.9L400,498.4L410,497.7L420,496.8L430,495.8L440,494.7L450,493.5L460,492.3L470,490.9L480,489.6L490,488.3L500,487.0L510,485.7L520,484.5L530,483.4L540,482.4L550,481.6L560,480.8L570,480.3L580,479.9L590,479.7L600,479.6L610,480.1L620,481.3L630,483.0L640,485.2L650,487.6L660,490.2L670,492.8L680,495.1L690,497.1L700,498.6L710,499.4L720,499.6L730,499.5L740,499.2L750,498.7L760,498.0L770,497.2L780,496.3L790,495.3L800,494.1M90,505.3L100,504.0L110,502.8L120,501.4L130,500.1L140,498.8L150,497.5L160,496.2L170,495.1L180,494.0L190,493.1L200,492.3L210,491.7L220,491.2L230,490.9L240,490.7L250,490.9L260,491.7L270,493.1L280,495.0L290,497.4L300,499.9L310,502.5L320,505.0L330,507.2L340,508.9L350,510.1L360,510.7L370,510.7L380,510.4L390,510.1L400,509.5L410,508.8L420,507.9L430,506.9L440,505.9L450,504.7L460,503.4L470,502.1L480,500.8L490,499.4L500,498.1L510,496.9L520,495.7L530,494.6L540,493.6L550,492.7L560,492.0L570,491.4L580,491.0L590,490.8L600,490.7L610,491.2L620,492.3L630,494.0L640,496.2L650,498.6L660,501.2L670,503.8L680,506.1L690,508.1L700,509.6L710,510.5L720,510.7L730,510.6L740,510.3L750,509.8L760,509.2L770,508.4L780,507.5L790,506.4L800,505.3M90,516.4L100,515.2L110,513.9L120,512.6L130,511.3L140,509.9L150,508.6L160,507.4L170,506.2L180,505.2L190,504.2L200,503.4L210,502.8L220,502.3L230,502.0L240,501.8L250,501.9L260,502.7L270,504.1L280,506.0L290,508.4L300,510.9L310,513.5L320,516.0L330,518.2L340,520.0L350,521.2L360,521.8L370,521.8L380,521.6L390,521.2L400,520.6L410,519.9L420,519.1L430,518.1L440,517.0L450,515.8L460,514.6L470,513.3L480,511.9L490,510.6L500,509.3L510,508.0L520,506.8L530,505.7L540,504.7L550,503.8L560,503.1L570,502.5L580,502.1L590,501.9L600,501.8L610,502.3L620,503.4L630,505.0L640,507.2L650,509.6L660,512.2L670,514.8L680,517.2L690,519.2L700,520.7L710,521.6L720,521.8L730,521.7L740,521.4L750,520.9L760,520.3L770,519.5L780,518.6L790,517.6L800,516.4M90,527.6L100,526.3L110,525.1L120,523.7L130,522.4L140,521.1L150,519.8L160,518.5L170,517.4L180,516.3L190,515.4L200,514.6L210,513.9L220,513.4L230,513.1L240,512.9L250,513.0L260,513.8L270,515.2L280,517.1L290,519.4L300,521.9L310,524.5L320,527.0L330,529.2L340,531.0L350,532.3L360,532.9L370,532.9L380,532.7L390,532.3L400,531.8L410,531.1L420,530.2L430,529.2L440,528.1L450,527.0L460,525.7L470,524.4L480,523.1L490,521.7L500,520.4L510,519.2L520,518.0L530,516.8L540,515.8L550,515.0L560,514.2L570,513.6L580,513.2L590,513.0L600,512.9L610,513.3L620,514.4L630,516.1L640,518.2L650,520.6L660,523.2L670,525.8L680,528.2L690,530.2L700,531.7L710,532.6L720,532.9L730,532.8L740,532.5L750,532.0L760,531.4L770,530.6L780,529.7L790,528.7L800,527.6M90,538.7L100,537.5L110,536.2L120,534.9L130,533.6L140,532.2L150,530.9L160,529.7L170,528.5L180,527.5L190,526.5L200,525.7L210,525.0L220,524.5L230,524.2L240,524.0L250,524.1L260,524.8L270,526.2L280,528.1L290,530.4L300,532.9L310,535.5L320,538.0L330,540.3L340,542.1L350,543.3L360,543.9L370,544.0L380,543.8L390,543.4L400,542.9L410,542.2L420,541.3L430,540.4L440,539.3L450,538.1L460,536.9L470,535.6L480,534.2L490,532.9L500,531.6L510,530.3L520,529.1L530,528.0L540,527.0L550,526.1L560,525.3L570,524.8L580,524.3L590,524.1L600,524.0L610,524.4L620,525.4L630,527.1L640,529.2L650,531.6L660,534.2L670,536.8L680,539.2L690,541.2L700,542.8L710,543.7L720,544.0L730,543.9L740,543.6L750,543.2L760,542.5L770,541.8L780,540.9L790,539.8L800,538.7M90,549.9L100,548.6L110,547.4L120,546.0L130,544.7L140,543.4L150,542.1L160,540.8L170,539.7L180,538.6L190,537.6L200,536.8L210,536.2L220,535.6L230,535.3L240,535.1L250,535.2L260,535.9L270,537.2L280,539.1L290,541.4L300,543.9L310,546.5L320,549.0L330,551.3L340,553.1L350,554.4L360,555.0L370,555.1L380,554.9L390,554.5L400,554.0L410,553.3L420,552.5L430,551.5L440,550.4L450,549.3L460,548.0L470,546.7L480,545.4L490,544.0L500,542.7L510,541.5L520,540.2L530,539.1L540,538.1L550,537.2L560,536.5L570,535.9L580,535.4L590,535.2L600,535.1L610,535.5L620,536.5L630,538.1L640,540.2L650,542.6L660,545.2L670,547.8L680,550.2L690,552.2L700,553.8L710,554.8L720,555.1L730,555.0L740,554.7L750,554.3L760,553.7L770,552.9L780,552.0L790,551.0L800,549.9M90,561.0L100,559.8L110,558.5L120,557.2L130,555.9L140,554.5L150,553.2L160,552.0L170,550.8L180,549.7L190,548.8L200,548.0L210,547.3L220,546.8L230,546.4L240,546.2L250,546.3L260,547.0L270,548.3L280,550.1L290,552.4L300,554.9L310,557.5L320,560.0L330,562.3L340,564.1L350,565.4L360,566.1L370,566.2L380,566.0L390,565.6L400,565.1L410,564.4L420,563.6L430,562.7L440,561.6L450,560.4L460,559.2L470,557.9L480,556.5L490,555.2L500,553.9L510,552.6L520,551.4L530,550.3L540,549.2L550,548.4L560,547.6L570,547.0L580,546.6L590,546.3L600,546.2L610,546.5L620,547.5L630,549.1L640,551.2L650,553.6L660,556.2L670,558.8L680,561.2L690,563.3L700,564.9L710,565.9L720,566.2L730,566.1L740,565.8L750,565.4L760,564.8L770,564.0L780,563.2L790,562.1L800,561.0M90,572.2L100,570.9L110,569.7L120,568.4L130,567.0L140,565.7L150,564.4L160,563.1L170,562.0L180,560.9L190,559.9L200,559.1L210,558.4L220,557.9L230,557.5L240,557.3L250,557.4L260,558.0L270,559.3L280,561.1L290,563.4L300,565.9L310,568.5L320,571.0L330,573.3L340,575.2L350,576.5L360,577.2L370,577.3L380,577.1L390,576.8L400,576.2L410,575.6L420,574.8L430,573.8L440,572.7L450,571.6L460,570.3L470,569.0L480,567.7L490,566.4L500,565.0L510,563.8L520,562.5L530,561.4L540,560.4L550,559.5L560,558.7L570,558.1L580,557.7L590,557.4L600,557.3L610,557.6L620,558.6L630,560.2L640,562.2L650,564.6L660,567.2L670,569.8L680,572.2L690,574.3L700,575.9L710,576.9L720,577.3L730,577.2L740,577.0L750,576.5L760,575.9L770,575.2L780,574.3L790,573.3L800,572.2M90,583.3L100,582.1L110,580.8L120,579.5L130,578.2L140,576.8L150,575.5L160,574.3L170,573.1L180,572.0L190,571.1L200,570.2L210,569.5L220,569.0L230,568.6L240,568.4L250,568.5L260,569.1L270,570.3L280,572.1L290,574.4L300,576.9L310,579.5L320,582.0L330,584.3L340,586.2L350,587.6L360,588.3L370,588.4L380,588.2L390,587.9L400,587.4L410,586.7L420,585.9L430,584.9L440,583.9L450,582.7L460,581.5L470,580.2L480,578.8L490,577.5L500,576.2L510,574.9L520,573.7L530,572.6L540,571.5L550,570.6L560,569.9L570,569.2L580,568.8L590,568.5L600,568.4L610,568.7L620,569.6L630,571.2L640,573.2L650,575.6L660,578.2L670,580.8L680,583.2L690,585.3L700,587.0L710,588.0L720,588.4L730,588.3L740,588.1L750,587.6L760,587.1L770,586.3L780,585.4L790,584.4L800,583.3M90,594.4L100,593.2L110,592.0L120,590.7L130,589.3L140,588.0L150,586.7L160,585.4L170,584.3L180,583.2L190,582.2L200,581.3L210,580.6L220,580.1L230,579.7L240,579.5L250,579.5L260,580.1L270,581.4L280,583.2L290,585.4L300,587.9L310,590.5L320,593.0L330,595.3L340,597.2L350,598.6L360,599.4L370,599.5L380,599.3L390,599.0L400,598.5L410,597.8L420,597.0L430,596.1L440,595.0L450,593.9L460,592.6L470,591.3L480,590.0L490,588.7L500,587.3L510,586.1L520,584.8L530,583.7L540,582.7L550,581.8L560,581.0L570,580.4L580,579.9L590,579.6L600,579.5L610,579.8L620,580.7L630,582.2L640,584.2L650,586.6L660,589.2L670,591.8L680,594.2L690,596.3L700,598.0L710,599.1L720,599.5L730,599.4L740,599.2L750,598.8L760,598.2L770,597.4L780,596.6L790,595.6L800,594.4M90,605.6L100,604.4L110,603.1L120,601.8L130,600.5L140,599.1L150,597.8L160,596.6L170,595.4L180,594.3L190,593.3L200,592.5L210,591.8L220,591.2L230,590.8L240,590.6L250,590.6L260,591.2L270,592.4L280,594.2L290,596.4L300,598.9L310,601.5L320,604.0L330,606.4L340,608.3L350,609.7L360,610.5L370,610.6L380,610.4L390,610.1L400,609.6L410,609.0L420,608.2L430,607.2L440,606.2L450,605.0L460,603.8L470,602.5L480,601.1L490,599.8L500,598.5L510,597.2L520,596.0L530,594.8L540,593.8L550,592.9L560,592.1L570,591.5L580,591.0L590,590.7L600,590.6L610,590.8L620,591.7L630,593.2L640,595.2L650,597.6L660,600.2L670,602.8L680,605.2L690,607.4L700,609.0L710,610.1L720,610.6L730,610.5L740,610.3L750,609.9L760,609.3L770,608.6L780,607.7L790,606.7L800,605.6M90,616.7L100,615.5L110,614.3L120,613.0L130,611.6L140,610.3L150,609.0L160,607.7L170,606.5L180,605.5L190,604.5L200,603.6L210,602.9L220,602.3L230,602.0L240,601.7L250,601.7L260,602.3L270,603.5L280,605.2L290,607.4L300,609.9L310,612.5L320,615.0L330,617.4L340,619.3L350,620.7L360,621.5L370,621.7L380,621.5L390,621.2L400,620.7L410,620.1L420,619.3L430,618.4L440,617.3L450,616.2L460,614.9L470,613.6L480,612.3L490,611.0L500,609.6L510,608.4L520,607.1L530,606.0L540,604.9L550,604.0L560,603.2L570,602.6L580,602.1L590,601.8L600,601.7L610,601.9L620,602.8L630,604.3L640,606.3L650,608.6L660,611.2L670,613.8L680,616.2L690,618.4L700,620.1L710,621.2L720,621.7L730,621.6L740,621.4L750,621.0L760,620.4L770,619.7L780,618.8L790,617.8L800,616.7M90,627.9L100,626.7L110,625.4L120,624.1L130,622.8L140,621.5L150,620.1L160,618.9L170,617.7L180,616.6L190,615.6L200,614.7L210,614.0L220,613.5L230,613.1L240,612.8L250,612.8L260,613.3L270,614.5L280,616.2L290,618.4L300,620.9L310,623.5L320,626.0L330,628.4L340,630.3L350,631.8L360,632.6L370,632.8L380,632.7L390,632.3L400,631.9L410,631.2L420,630.4L430,629.5L440,628.4L450,627.3L460,626.1L470,624.8L480,623.5L490,622.1L500,620.8L510,619.5L520,618.3L530,617.1L540,616.1L550,615.2L560,614.4L570,613.7L580,613.2L590,612.9L600,612.8L610,613.0L620,613.8L630,615.3L640,617.3L650,619.6L660,622.2L670,624.8L680,627.2L690,629.4L700,631.1L710,632.3L720,632.8L730,632.7L740,632.5L750,632.1L760,631.6L770,630.8L780,630.0L790,629.0L800,627.9M90,639.0L100,637.8L110,636.6L120,635.3L130,633.9L140,632.6L150,631.3L160,630.0L170,628.8L180,627.7L190,626.7L200,625.9L210,625.1L220,624.6L230,624.2L240,624.0L250,623.9L260,624.4L270,625.5L280,627.2L290,629.4L300,631.9L310,634.5L320,637.0L330,639.4L340,641.4L350,642.8L360,643.7L370,643.9L380,643.8L390,643.5L400,643.0L410,642.4L420,641.6L430,640.6L440,639.6L450,638.4L460,637.2L470,635.9L480,634.6L490,633.3L500,631.9L510,630.7L520,629.4L530,628.3L540,627.2L550,626.3L560,625.5L570,624.8L580,624.4L590,624.0L600,623.9L610,624.1L620,624.9L630,626.3L640,628.3L650,630.6L660,633.2L670,635.8L680,638.3L690,640.4L700,642.2L710,643.3L720,643.9L730,643.9L740,643.6L750,643.2L760,642.7L770,642.0L780,641.1L790,640.1L800,639.0M90,650.2L100,649.0L110,647.7L120,646.4L130,645.1L140,643.8L150,642.4L160,641.2L170,640.0L180,638.9L190,637.9L200,637.0L210,636.3L220,635.7L230,635.3L240,635.1L250,635.0L260,635.5L270,636.6L280,638.3L290,640.4L300,642.9L310,645.5L320,648.0L330,650.4L340,652.4L350,653.9L360,654.8L370,655.0L380,654.9L390,654.6L400,654.1L410,653.5L420,652.7L430,651.8L440,650.7L450,649.6L460,648.4L470,647.1L480,645.8L490,644.4L500,643.1L510,641.8L520,640.6L530,639.4L540,638.4L550,637.4L560,636.6L570,636.0L580,635.5L590,635.2L600,635.0L610,635.2L620,636.0L630,637.4L640,639.3L650,641.6L660,644.2L670,646.8L680,649.3L690,651.5L700,653.2L710,654.4L720,655.0L730,655.0L740,654.7L750,654.4L760,653.8L770,653.1L780,652.3L790,651.3L800,650.2M90,661.3L100,660.1L110,658.9L120,657.6L130,656.2L140,654.9L150,653.6L160,652.3L170,651.1L180,650.0L190,649.0L200,648.1L210,647.4L220,646.8L230,646.4L240,646.2L250,646.1L260,646.5L270,647.6L280,649.3L290,651.4L300,653.9L310,656.5L320,659.0L330,661.4L340,663.4L350,664.9L360,665.8L370,666.1L380,666.0L390,665.7L400,665.2L410,664.6L420,663.8L430,662.9L440,661.9L450,660.7L460,659.5L470,658.2L480,656.9L490,655.6L500,654.3L510,653.0L520,651.7L530,650.6L540,649.5L550,648.6L560,647.8L570,647.1L580,646.6L590,646.3L600,646.1L610,646.2L620,647.0L630,648.4L640,650.3L650,652.6L660,655.2L670,657.8L680,660.3L690,662.5L700,664.3L710,665.5L720,666.1L730,666.1L740,665.9L750,665.5L760,664.9L770,664.2L780,663.4L790,662.4L800,661.3M90,672.5L100,671.3L110,670.0L120,668.7L130,667.4L140,666.1L150,664.8L160,663.5L170,662.3L180,661.2L190,660.2L200,659.3L210,658.5L220,657.9L230,657.5L240,657.3L250,657.2L260,657.6L270,658.7L280,660.3L290,662.4L300,664.9L310,667.5L320,670.0L330,672.4L340,674.5L350,676.0L360,676.9L370,677.2L380,677.1L390,676.8L400,676.4L410,675.7L420,675.0L430,674.1L440,673.0L450,671.9L460,670.7L470,669.4L480,668.1L490,666.7L500,665.4L510,664.1L520,662.9L530,661.7L540,660.6L550,659.7L560,658.9L570,658.2L580,657.7L590,657.4L600,657.2L610,657.3L620,658.1L630,659.4L640,661.3L650,663.6L660,666.2L670,668.8L680,671.3L690,673.5L700,675.3L710,676.5L720,677.1L730,677.2L740,677.0L750,676.6L760,676.1L770,675.4L780,674.5L790,673.6L800,672.5M90,683.6L100,682.4L110,681.2L120,679.9L130,678.6L140,677.2L150,675.9L160,674.6L170,673.4L180,672.3L190,671.3L200,670.4L210,669.7L220,669.1L230,668.6L240,668.4L250,668.3L260,668.7L270,669.7L280,671.3L290,673.4L300,675.9L310,678.5L320,681.0L330,683.4L340,685.5L350,687.0L360,688.0L370,688.3L380,688.2L390,687.9L400,687.5L410,686.9L420,686.1L430,685.2L440,684.2L450,683.0L460,681.8L470,680.5L480,679.2L490,677.9L500,676.6L510,675.3L520,674.0L530,672.9L540,671.8L550,670.8L560,670.0L570,669.3L580,668.8L590,668.5L600,668.3L610,668.4L620,669.1L630,670.5L640,672.3L650,674.6L660,677.2L670,679.8L680,682.3L690,684.5L700,686.3L710,687.6L720,688.2L730,688.3L740,688.1L750,687.7L760,687.2L770,686.5L780,685.7L790,684.7L800,683.6M90,694.8L100,693.6L110,692.3L120,691.0L130,689.7L140,688.4L150,687.1L160,685.8L170,684.6L180,683.4L190,682.4L200,681.5L210,680.8L220,680.2L230,679.7L240,679.5L250,679.4L260,679.8L270,680.8L280,682.4L290,684.4L300,686.9L310,689.5L320,692.0L330,694.4L340,696.5L350,698.1L360,699.1L370,699.4L380,699.3L390,699.0L400,698.6L410,698.0L420,697.2L430,696.3L440,695.3L450,694.2L460,693.0L470,691.7L480,690.4L490,689.0L500,687.7L510,686.4L520,685.2L530,684.0L540,682.9L550,682.0L560,681.1L570,680.5L580,679.9L590,679.6L600,679.4L610,679.5L620,680.2L630,681.5L640,683.4L650,685.6L660,688.1L670,690.8L680,693.3L690,695.5L700,697.4L710,698.7L720,699.3L730,699.4L740,699.2L750,698.8L760,698.3L770,697.6L780,696.8L790,695.8L800,694.8M90,705.9L100,704.7L110,703.5L120,702.2L130,700.9L140,699.5L150,698.2L160,696.9L170,695.7L180,694.6L190,693.6L200,692.7L210,691.9L220,691.3L230,690.9L240,690.6L250,690.5L260,690.8L270,691.8L280,693.4L290,695.5L300,697.9L310,700.4L320,703.0L330,705.5L340,707.5L350,709.1L360,710.1L370,710.5L380,710.4L390,710.2L400,709.7L410,709.1L420,708.4L430,707.5L440,706.5L450,705.3L460,704.1L470,702.8L480,701.5L490,700.2L500,698.9L510,697.6L520,696.3L530,695.1L540,694.1L550,693.1L560,692.3L570,691.6L580,691.1L590,690.7L600,690.5L610,690.6L620,691.2L630,692.5L640,694.4L650,696.6L660,699.1L670,701.8L680,704.3L690,706.5L700,708.4L710,709.7L720,710.4L730,710.5L740,710.3L750,710.0L760,709.4L770,708.8L780,707.9L790,707.0L800,705.9M90,717.0L100,715.9L110,714.6L120,713.3L130,712.0L140,710.7L150,709.4L160,708.1L170,706.9L180,705.7L190,704.7L200,703.8L210,703.0L220,702.4L230,702.0L240,701.7L250,701.6L260,701.9L270,702.9L280,704.4L290,706.5L300,708.9L310,711.4L320,714.0L330,716.5L340,718.6L350,720.2L360,721.2L370,721.6L380,721.5L390,721.3L400,720.8L410,720.2L420,719.5L430,718.6L440,717.6L450,716.5L460,715.3L470,714.0L480,712.7L490,711.3L500,710.0L510,708.7L520,707.5L530,706.3L540,705.2L550,704.2L560,703.4L570,702.7L580,702.2L590,701.8L600,701.6L610,701.7L620,702.3L630,703.6L640,705.4L650,707.6L660,710.1L670,712.7L680,715.3L690,717.6L700,719.4L710,720.8L720,721.5L730,721.6L740,721.4L750,721.1L760,720.6L770,719.9L780,719.1L790,718.1L800,717.0M90,728.2L100,727.0L110,725.8L120,724.5L130,723.2L140,721.8L150,720.5L160,719.2L170,718.0L180,716.9L190,715.8L200,714.9L210,714.2L220,713.5L230,713.1L240,712.8L250,712.7L260,713.0L270,713.9L280,715.4L290,717.5L300,719.9L310,722.4L320,725.0L330,727.5L340,729.6L350,731.2L360,732.3L370,732.7L380,732.6L390,732.4L400,732.0L410,731.4L420,730.6L430,729.7L440,728.7L450,727.6L460,726.4L470,725.1L480,723.8L490,722.5L500,721.2L510,719.9L520,718.6L530,717.4L540,716.3L550,715.4L560,714.5L570,713.8L580,713.3L590,712.9L600,712.7L610,712.8L620,713.4L630,714.6L640,716.4L650,718.6L660,721.1L670,723.7L680,726.3L690,728.6L700,730.5L710,731.8L720,732.6L730,732.7L740,732.5L750,732.2L760,731.7L770,731.0L780,730.2L790,729.3L800,728.2M90,739.3L100,738.2L110,736.9L120,735.6L130,734.3L140,733.0L150,731.7L160,730.4L170,729.2L180,728.0L190,727.0L200,726.1L210,725.3L220,724.7L230,724.2L240,723.9L250,723.8L260,724.1L270,725.0L280,726.5L290,728.5L300,730.9L310,733.4L320,736.0L330,738.5L340,740.6L350,742.3L360,743.4L370,743.8L380,743.7L390,743.5L400,743.1L410,742.5L420,741.8L430,740.9L440,739.9L450,738.8L460,737.6L470,736.3L480,735.0L490,733.7L500,732.3L510,731.0L520,729.8L530,728.6L540,727.5L550,726.5L560,725.7L570,725.0L580,724.4L590,724.0L600,723.8L610,723.8L620,724.4L630,725.6L640,727.4L650,729.6L660,732.1L670,734.7L680,737.3L690,739.6L700,741.5L710,742.9L720,743.7L730,743.8L740,743.6L750,743.3L760,742.8L770,742.1L780,741.3L790,740.4L800,739.3M90,750.5L100,749.3L110,748.1L120,746.8L130,745.5L140,744.1L150,742.8L160,741.5L170,740.3L180,739.2L190,738.1L200,737.2L210,736.4L220,735.8L230,735.3L240,735.0L250,734.9L260,735.1L270,736.0L280,737.5L290,739.5L300,741.9L310,744.4L320,747.0L330,749.5L340,751.6L350,753.3L360,754.4L370,754.9L380,754.8L390,754.6L400,754.2L410,753.6L420,752.9L430,752.0L440,751.0L450,749.9L460,748.7L470,747.5L480,746.1L490,744.8L500,743.5L510,742.2L520,740.9L530,739.7L540,738.6L550,737.6L560,736.8L570,736.1L580,735.5L590,735.2L600,734.9L610,734.9L620,735.5L630,736.7L640,738.4L650,740.6L660,743.1L670,745.7L680,748.3L690,750.6L700,752.5L710,753.9L720,754.7L730,754.9L740,754.7L750,754.4L760,753.9L770,753.3L780,752.5L790,751.5L800,750.5M90,761.6L100,760.5L110,759.2L120,758.0L130,756.6L140,755.3L150,754.0L160,752.7L170,751.5L180,750.3L190,749.3L200,748.3L210,747.5L220,746.9L230,746.4L240,746.1L250,746.0L260,746.2L270,747.1L280,748.5L290,750.5L300,752.9L310,755.4L320,758.0L330,760.5L340,762.7L350,764.4L360,765.5L370,766.0L380,765.9L390,765.7L400,765.3L410,764.8L420,764.0L430,763.2L440,762.2L450,761.1L460,759.9L470,758.6L480,757.3L490,756.0L500,754.6L510,753.3L520,752.1L530,750.9L540,749.8L550,748.8L560,747.9L570,747.2L580,746.7L590,746.3L600,746.0L610,746.0L620,746.6L630,747.7L640,749.5L650,751.6L660,754.1L670,756.7L680,759.3L690,761.6L700,763.6L710,765.0L720,765.8L730,766.0L740,765.9L750,765.5L760,765.1L770,764.4L780,763.6L790,762.7L800,761.6M90,772.8L100,771.6L110,770.4L120,769.1L130,767.8L140,766.4L150,765.1L160,763.8L170,762.6L180,761.5L190,760.4L200,759.5L210,758.7L220,758.0L230,757.6L240,757.2L250,757.1L260,757.3L270,758.1L280,759.6L290,761.5L300,763.9L310,766.4L320,769.0L330,771.5L340,773.7L350,775.4L360,776.6L370,777.1L380,777.1L390,776.8L400,776.4L410,775.9L420,775.2L430,774.3L440,773.3L450,772.2L460,771.0L470,769.8L480,768.4L490,767.1L500,765.8L510,764.5L520,763.2L530,762.0L540,760.9L550,759.9L560,759.1L570,758.3L580,757.8L590,757.4L600,757.2L610,757.1L620,757.6L630,758.8L640,760.5L650,762.7L660,765.1L670,767.7L680,770.3L690,772.6L700,774.6L710,776.1L720,776.9L730,777.1L740,777.0L750,776.7L760,776.2L770,775.5L780,774.7L790,773.8L800,772.8M90,783.9L100,782.8L110,781.5L120,780.3L130,778.9L140,777.6L150,776.3L160,775.0L170,773.7L180,772.6L190,771.5L200,770.6L210,769.8L220,769.2L230,768.7L240,768.4L250,768.2L260,768.4L270,769.2L280,770.6L290,772.5L300,774.9L310,777.4L320,780.0L330,782.5L340,784.7L350,786.4L360,787.6L370,788.2L380,788.2L390,787.9L400,787.6L410,787.0L420,786.3L430,785.4L440,784.4L450,783.4L460,782.2L470,780.9L480,779.6L490,778.3L500,776.9L510,775.6L520,774.4L530,773.2L540,772.1L550,771.1L560,770.2L570,769.5L580,768.9L590,768.5L600,768.3L610,768.2L620,768.7L630,769.8L640,771.5L650,773.7L660,776.1L670,778.7L680,781.3L690,783.6L700,785.6L710,787.1L720,788.0L730,788.2L740,788.1L750,787.8L760,787.3L770,786.7L780,785.9L790,785.0L800,783.9M90,795.1L100,793.9L110,792.7L120,791.4L130,790.1L140,788.8L150,787.4L160,786.1L170,784.9L180,783.7L190,782.7L200,781.7L210,780.9L220,780.3L230,779.8L240,779.5L250,779.3L260,779.4L270,780.2L280,781.6L290,783.5L300,785.9L310,788.4L320,791.0L330,793.5L340,795.7L350,797.5L360,798.7L370,799.3L380,799.3L390,799.1L400,798.7L410,798.1L420,797.4L430,796.6L440,795.6L450,794.5L460,793.3L470,792.1L480,790.8L490,789.4L500,788.1L510,786.8L520,785.5L530,784.3L540,783.2L550,782.2L560,781.3L570,780.6L580,780.0L590,779.6L600,779.4L610,779.3L620,779.8L630,780.9L640,782.5L650,784.7L660,787.1L670,789.7L680,792.3L690,794.7L700,796.7L710,798.2L720,799.1L730,799.3L740,799.2L750,798.9L760,798.4L770,797.8L780,797.0L790,796.1L800,795.1M90,806.2L100,805.1L110,803.8L120,802.6L130,801.2L140,799.9L150,798.6L160,797.3L170,796.0L180,794.9L190,793.8L200,792.9L210,792.1L220,791.4L230,790.9L240,790.6L250,790.4L260,790.5L270,791.3L280,792.7L290,794.6L300,796.9L310,799.4L320,802.0L330,804.5L340,806.7L350,808.5L360,809.8L370,810.4L380,810.4L390,810.2L400,809.8L410,809.3L420,808.6L430,807.7L440,806.7L450,805.6L460,804.5L470,803.2L480,801.9L490,800.6L500,799.2L510,797.9L520,796.7L530,795.5L540,794.3L550,793.3L560,792.5L570,791.7L580,791.1L590,790.7L600,790.5L610,790.4L620,790.8L630,791.9L640,793.6L650,795.7L660,798.1L670,800.7L680,803.3L690,805.7L700,807.7L710,809.2L720,810.1L730,810.4L740,810.3L750,810.0L760,809.5L770,808.9L780,808.1L790,807.2L800,806.2" fill="none" stroke="#e6e9e3" stroke-width="2.4" stroke-linejoin="round"/>
<path d="M90,296.6L100,295.4L110,294.1L120,292.7L130,291.4L140,290.1L150,288.8L160,287.7L170,286.6L180,285.6L190,284.8L200,284.1L210,283.6L220,283.2L230,283.0L240,283.1L250,283.7L260,285.0L270,286.8L280,289.1L290,291.6L300,294.2L310,296.7L320,299.0L330,300.9L340,302.2L350,302.9L360,303.0L370,302.8L380,302.5L390,301.9L400,301.3L410,300.5L420,299.5L430,298.4L440,297.3L450,296.0L460,294.7L470,293.4L480,292.1L490,290.7L500,289.5L510,288.2L520,287.1L530,286.1L540,285.2L550,284.4L560,283.8L570,283.4L580,283.1L590,283.0L600,283.3L610,284.3L620,285.9L630,287.9L640,290.3L650,292.9L660,295.5L670,297.9L680,300.0L690,301.6L700,302.6L710,303.0L720,302.9L730,302.7L740,302.2L750,301.6L760,300.9L770,300.0L780,299.0L790,297.9L800,296.6M90,307.8L100,306.5L110,305.2L120,303.9L130,302.5L140,301.2L150,300.0L160,298.8L170,297.7L180,296.8L190,295.9L200,295.2L210,294.7L220,294.3L230,294.1L240,294.2L250,294.8L260,296.0L270,297.8L280,300.1L290,302.6L300,305.2L310,307.7L320,310.0L330,311.9L340,313.3L350,314.0L360,314.1L370,313.9L380,313.6L390,313.1L400,312.4L410,311.6L420,310.6L430,309.6L440,308.4L450,307.2L460,305.9L470,304.5L480,303.2L490,301.9L500,300.6L510,299.4L520,298.3L530,297.2L540,296.3L550,295.6L560,294.9L570,294.5L580,294.2L590,294.1L600,294.4L610,295.3L620,296.9L630,298.9L640,301.3L650,303.9L660,306.5L670,308.9L680,311.0L690,312.7L700,313.7L710,314.1L720,314.0L730,313.8L740,313.3L750,312.8L760,312.0L770,311.1L780,310.1L790,309.0L800,307.8M90,318.9L100,317.7L110,316.4L120,315.0L130,313.7L140,312.4L150,311.1L160,310.0L170,308.9L180,307.9L190,307.0L200,306.3L210,305.8L220,305.4L230,305.2L240,305.2L250,305.8L260,307.1L270,308.9L280,311.1L290,313.6L300,316.2L310,318.7L320,321.0L330,322.9L340,324.3L350,325.1L360,325.2L370,325.0L380,324.7L390,324.2L400,323.5L410,322.7L420,321.8L430,320.7L440,319.6L450,318.3L460,317.0L470,315.7L480,314.4L490,313.0L500,311.8L510,310.5L520,309.4L530,308.4L540,307.5L550,306.7L560,306.1L570,305.6L580,305.3L590,305.2L600,305.5L610,306.4L620,307.9L630,309.9L640,312.3L650,314.9L660,317.5L670,319.9L680,322.0L690,323.7L700,324.8L710,325.2L720,325.1L730,324.9L740,324.5L750,323.9L760,323.1L770,322.3L780,321.3L790,320.1L800,318.9M90,330.1L100,328.8L110,327.5L120,326.2L130,324.8L140,323.5L150,322.3L160,321.1L170,320.0L180,319.0L190,318.2L200,317.5L210,316.9L220,316.5L230,316.3L240,316.3L250,316.9L260,318.1L270,319.9L280,322.1L290,324.6L300,327.2L310,329.7L320,332.1L330,334.0L340,335.4L350,336.2L360,336.3L370,336.1L380,335.8L390,335.3L400,334.7L410,333.9L420,332.9L430,331.9L440,330.7L450,329.5L460,328.2L470,326.8L480,325.5L490,324.2L500,322.9L510,321.7L520,320.5L530,319.5L540,318.6L550,317.8L560,317.2L570,316.7L580,316.4L590,316.3L600,316.5L610,317.4L620,318.9L630,320.9L640,323.3L650,325.9L660,328.5L670,330.9L680,333.1L690,334.7L700,335.8L710,336.3L720,336.2L730,336.0L740,335.6L750,335.0L760,334.3L770,333.4L780,332.4L790,331.3L800,330.1M90,341.2L100,340.0L110,338.7L120,337.3L130,336.0L140,334.7L150,333.4L160,332.2L170,331.2L180,330.2L190,329.3L200,328.6L210,328.0L220,327.7L230,327.4L240,327.4L250,328.0L260,329.2L270,330.9L280,333.1L290,335.6L300,338.2L310,340.7L320,343.1L330,345.0L340,346.4L350,347.2L360,347.4L370,347.2L380,346.9L390,346.4L400,345.8L410,345.0L420,344.1L430,343.0L440,341.9L450,340.6L460,339.3L470,338.0L480,336.7L490,335.3L500,334.1L510,332.8L520,331.7L530,330.6L540,329.7L550,328.9L560,328.3L570,327.8L580,327.5L590,327.4L600,327.6L610,328.5L620,330.0L630,332.0L640,334.3L650,336.9L660,339.5L670,341.9L680,344.1L690,345.8L700,346.9L710,347.4L720,347.3L730,347.1L740,346.7L750,346.1L760,345.4L770,344.5L780,343.5L790,342.4L800,341.2M90,352.4L100,351.1L110,349.8L120,348.5L130,347.2L140,345.8L150,344.6L160,343.4L170,342.3L180,341.3L190,340.4L200,339.7L210,339.2L220,338.8L230,338.5L240,338.5L250,339.0L260,340.2L270,341.9L280,344.1L290,346.6L300,349.2L310,351.7L320,354.1L330,356.0L340,357.5L350,358.3L360,358.5L370,358.4L380,358.0L390,357.6L400,356.9L410,356.1L420,355.2L430,354.1L440,353.0L450,351.8L460,350.5L470,349.2L480,347.8L490,346.5L500,345.2L510,344.0L520,342.8L530,341.8L540,340.9L550,340.1L560,339.4L570,338.9L580,338.6L590,338.5L600,338.7L610,339.5L620,341.0L630,343.0L640,345.3L650,347.9L660,350.5L670,352.9L680,355.1L690,356.8L700,358.0L710,358.5L720,358.4L730,358.2L740,357.8L750,357.3L760,356.5L770,355.7L780,354.7L790,353.6L800,352.4M90,363.5L100,362.3L110,361.0L120,359.6L130,358.3L140,357.0L150,355.7L160,354.5L170,353.4L180,352.4L190,351.6L200,350.8L210,350.3L220,349.9L230,349.7L240,349.6L250,350.1L260,351.2L270,352.9L280,355.1L290,357.6L300,360.2L310,362.7L320,365.1L330,367.1L340,368.5L350,369.4L360,369.6L370,369.5L380,369.2L390,368.7L400,368.1L410,367.3L420,366.3L430,365.3L440,364.1L450,362.9L460,361.6L470,360.3L480,359.0L490,357.6L500,356.4L510,355.1L520,354.0L530,352.9L540,352.0L550,351.2L560,350.5L570,350.1L580,349.7L590,349.6L600,349.8L610,350.6L620,352.0L630,354.0L640,356.3L650,358.9L660,361.5L670,364.0L680,366.1L690,367.9L700,369.0L710,369.6L720,369.6L730,369.3L740,368.9L750,368.4L760,367.7L770,366.8L780,365.8L790,364.7L800,363.5M90,374.7L100,373.4L110,372.1L120,370.8L130,369.5L140,368.1L150,366.9L160,365.7L170,364.6L180,363.6L190,362.7L200,362.0L210,361.4L220,361.0L230,360.8L240,360.7L250,361.2L260,362.3L270,364.0L280,366.1L290,368.6L300,371.2L310,373.7L320,376.1L330,378.1L340,379.6L350,380.5L360,380.7L370,380.6L380,380.3L390,379.8L400,379.2L410,378.4L420,377.5L430,376.4L440,375.3L450,374.1L460,372.8L470,371.5L480,370.1L490,368.8L500,367.5L510,366.3L520,365.1L530,364.1L540,363.1L550,362.3L560,361.7L570,361.2L580,360.9L590,360.7L600,360.9L610,361.7L620,363.1L630,365.0L640,367.3L650,369.9L660,372.5L670,375.0L680,377.2L690,378.9L700,380.1L710,380.7L720,380.7L730,380.4L740,380.1L750,379.5L760,378.8L770,378.0L780,377.0L790,375.9L800,374.7M90,385.8L100,384.6L110,383.3L120,381.9L130,380.6L140,379.3L150,378.0L160,376.8L170,375.7L180,374.7L190,373.8L200,373.1L210,372.5L220,372.1L230,371.9L240,371.8L250,372.2L260,373.3L270,375.0L280,377.1L290,379.6L300,382.2L310,384.7L320,387.1L330,389.1L340,390.6L350,391.5L360,391.8L370,391.7L380,391.4L390,390.9L400,390.3L410,389.5L420,388.6L430,387.6L440,386.4L450,385.2L460,383.9L470,382.6L480,381.3L490,380.0L500,378.7L510,377.4L520,376.3L530,375.2L540,374.3L550,373.5L560,372.8L570,372.3L580,372.0L590,371.8L600,371.9L610,372.7L620,374.1L630,376.0L640,378.3L650,380.9L660,383.5L670,386.0L680,388.2L690,390.0L700,391.2L710,391.8L720,391.8L730,391.6L740,391.2L750,390.6L760,389.9L770,389.1L780,388.1L790,387.0L800,385.8M90,397.0L100,395.7L110,394.4L120,393.1L130,391.8L140,390.5L150,389.2L160,388.0L170,386.9L180,385.9L190,385.0L200,384.2L210,383.6L220,383.2L230,383.0L240,382.9L250,383.3L260,384.4L270,386.0L280,388.1L290,390.6L300,393.2L310,395.7L320,398.1L330,400.2L340,401.7L350,402.6L360,402.9L370,402.8L380,402.5L390,402.1L400,401.4L410,400.7L420,399.8L430,398.7L440,397.6L450,396.4L460,395.1L470,393.8L480,392.4L490,391.1L500,389.8L510,388.6L520,387.4L530,386.3L540,385.4L550,384.6L560,383.9L570,383.4L580,383.1L590,382.9L600,383.0L610,383.8L620,385.1L630,387.0L640,389.3L650,391.9L660,394.5L670,397.0L680,399.2L690,401.0L700,402.2L710,402.8L720,402.9L730,402.7L740,402.3L750,401.8L760,401.1L770,400.2L780,399.3L790,398.2L800,397.0M90,408.1L100,406.9L110,405.6L120,404.3L130,402.9L140,401.6L150,400.3L160,399.1L170,398.0L180,397.0L190,396.1L200,395.4L210,394.8L220,394.3L230,394.1L240,394.0L250,394.4L260,395.4L270,397.0L280,399.1L290,401.6L300,404.2L310,406.7L320,409.1L330,411.2L340,412.7L350,413.7L360,414.0L370,413.9L380,413.6L390,413.2L400,412.6L410,411.8L420,410.9L430,409.9L440,408.7L450,407.5L460,406.2L470,404.9L480,403.6L490,402.3L500,401.0L510,399.7L520,398.6L530,397.5L540,396.5L550,395.7L560,395.0L570,394.5L580,394.2L590,394.0L600,394.1L610,394.8L620,396.2L630,398.0L640,400.3L650,402.9L660,405.5L670,408.0L680,410.2L690,412.0L700,413.3L710,413.9L720,414.0L730,413.8L740,413.4L750,412.9L760,412.2L770,411.4L780,410.4L790,409.3L800,408.1M90,419.3L100,418.0L110,416.7L120,415.4L130,414.1L140,412.8L150,411.5L160,410.3L170,409.1L180,408.1L190,407.2L200,406.5L210,405.9L220,405.4L230,405.2L240,405.1L250,405.5L260,406.5L270,408.1L280,410.1L290,412.6L300,415.2L310,417.7L320,420.1L330,422.2L340,423.8L350,424.8L360,425.1L370,425.0L380,424.7L390,424.3L400,423.7L410,422.9L420,422.0L430,421.0L440,419.9L450,418.7L460,417.4L470,416.1L480,414.7L490,413.4L500,412.1L510,410.9L520,409.7L530,408.6L540,407.7L550,406.8L560,406.2L570,405.6L580,405.3L590,405.1L600,405.2L610,405.9L620,407.2L630,409.1L640,411.3L650,413.8L660,416.5L670,419.0L680,421.2L690,423.1L700,424.4L710,425.0L720,425.1L730,424.9L740,424.5L750,424.0L760,423.3L770,422.5L780,421.5L790,420.5L800,419.3M90,430.4L100,429.2L110,427.9L120,426.6L130,425.2L140,423.9L150,422.6L160,421.4L170,420.3L180,419.3L190,418.4L200,417.6L210,417.0L220,416.6L230,416.3L240,416.2L250,416.5L260,417.5L270,419.1L280,421.2L290,423.6L300,426.1L310,428.7L320,431.2L330,433.2L340,434.8L350,435.8L360,436.2L370,436.1L380,435.9L390,435.4L400,434.8L410,434.1L420,433.2L430,432.2L440,431.0L450,429.8L460,428.5L470,427.2L480,425.9L490,424.6L500,423.3L510,422.0L520,420.8L530,419.8L540,418.8L550,418.0L560,417.3L570,416.8L580,416.4L590,416.2L600,416.3L610,416.9L620,418.2L630,420.1L640,422.3L650,424.8L660,427.5L670,430.0L680,432.2L690,434.1L700,435.4L710,436.1L720,436.2L730,436.0L740,435.7L750,435.1L760,434.5L770,433.6L780,432.7L790,431.6L800,430.4M90,441.6L100,440.3L110,439.0L120,437.7L130,436.4L140,435.1L150,433.8L160,432.6L170,431.4L180,430.4L190,429.5L200,428.7L210,428.1L220,427.7L230,427.4L240,427.3L250,427.6L260,428.6L270,430.1L280,432.2L290,434.6L300,437.1L310,439.7L320,442.2L330,444.3L340,445.9L350,446.9L360,447.3L370,447.2L380,447.0L390,446.5L400,445.9L410,445.2L420,444.3L430,443.3L440,442.2L450,441.0L460,439.7L470,438.4L480,437.0L490,435.7L500,434.4L510,433.2L520,432.0L530,430.9L540,429.9L550,429.1L560,428.4L570,427.9L580,427.5L590,427.3L600,427.4L610,428.0L620,429.3L630,431.1L640,433.3L650,435.8L660,438.4L670,441.0L680,443.3L690,445.1L700,446.5L710,447.2L720,447.3L730,447.1L740,446.8L750,446.3L760,445.6L770,444.8L780,443.8L790,442.7L800,441.6M90,452.7L100,451.5L110,450.2L120,448.9L130,447.5L140,446.2L150,444.9L160,443.7L170,442.6L180,441.5L190,440.6L200,439.9L210,439.2L220,438.8L230,438.5L240,438.4L250,438.7L260,439.6L270,441.1L280,443.2L290,445.6L300,448.1L310,450.7L320,453.2L330,455.3L340,456.9L350,458.0L360,458.4L370,458.3L380,458.1L390,457.7L400,457.1L410,456.3L420,455.4L430,454.4L440,453.3L450,452.1L460,450.8L470,449.5L480,448.2L490,446.9L500,445.6L510,444.3L520,443.1L530,442.0L540,441.1L550,440.2L560,439.5L570,439.0L580,438.6L590,438.4L600,438.5L610,439.1L620,440.3L630,442.1L640,444.3L650,446.8L660,449.4L670,452.0L680,454.3L690,456.2L700,457.5L710,458.3L720,458.4L730,458.2L740,457.9L750,457.4L760,456.7L770,455.9L780,455.0L790,453.9L800,452.7M90,463.9L100,462.6L110,461.3L120,460.0L130,458.7L140,457.4L150,456.1L160,454.9L170,453.7L180,452.7L190,451.8L200,451.0L210,450.4L220,449.9L230,449.6L240,449.5L250,449.8L260,450.7L270,452.2L280,454.2L290,456.6L300,459.1L310,461.7L320,464.2L330,466.3L340,468.0L350,469.1L360,469.5L370,469.4L380,469.2L390,468.8L400,468.2L410,467.5L420,466.6L430,465.6L440,464.5L450,463.3L460,462.0L470,460.7L480,459.4L490,458.0L500,456.7L510,455.5L520,454.3L530,453.2L540,452.2L550,451.4L560,450.7L570,450.1L580,449.7L590,449.5L600,449.5L610,450.1L620,451.3L630,453.1L640,455.3L650,457.8L660,460.4L670,463.0L680,465.3L690,467.2L700,468.6L710,469.4L720,469.5L730,469.3L740,469.0L750,468.5L760,467.8L770,467.0L780,466.1L790,465.0L800,463.9M90,475.0L100,473.8L110,472.5L120,471.2L130,469.8L140,468.5L150,467.2L160,466.0L170,464.9L180,463.8L190,462.9L200,462.1L210,461.5L220,461.0L230,460.7L240,460.6L250,460.8L260,461.7L270,463.2L280,465.2L290,467.6L300,470.1L310,472.7L320,475.2L330,477.3L340,479.0L350,480.1L360,480.6L370,480.5L380,480.3L390,479.9L400,479.3L410,478.6L420,477.7L430,476.7L440,475.6L450,474.4L460,473.2L470,471.8L480,470.5L490,469.2L500,467.9L510,466.6L520,465.4L530,464.3L540,463.3L550,462.5L560,461.8L570,461.2L580,460.9L590,460.6L600,460.6L610,461.2L620,462.4L630,464.1L640,466.3L650,468.8L660,471.4L670,474.0L680,476.3L690,478.2L700,479.6L710,480.4L720,480.6L730,480.4L740,480.1L750,479.6L760,479.0L770,478.2L780,477.2L790,476.2L800,475.0M90,486.2L100,484.9L110,483.7L120,482.3L130,481.0L140,479.7L150,478.4L160,477.2L170,476.0L180,475.0L190,474.0L200,473.2L210,472.6L220,472.1L230,471.8L240,471.7L250,471.9L260,472.8L270,474.2L280,476.2L290,478.6L300,481.1L310,483.7L320,486.2L330,488.4L340,490.1L350,491.2L360,491.7L370,491.6L380,491.4L390,491.0L400,490.5L410,489.7L420,488.9L430,487.9L440,486.8L450,485.6L460,484.3L470,483.0L480,481.7L490,480.3L500,479.0L510,477.8L520,476.6L530,475.5L540,474.5L550,473.6L560,472.9L570,472.4L580,472.0L590,471.7L600,471.7L610,472.3L620,473.4L630,475.2L640,477.3L650,479.8L660,482.4L670,485.0L680,487.3L690,489.3L700,490.7L710,491.5L720,491.7L730,491.6L740,491.2L750,490.8L760,490.1L770,489.3L780,488.4L790,487.3L800,486.2M90,497.3L100,496.1L110,494.8L120,493.5L130,492.1L140,490.8L150,489.5L160,488.3L170,487.2L180,486.1L190,485.2L200,484.4L210,483.7L220,483.3L230,482.9L240,482.8L250,483.0L260,483.8L270,485.3L280,487.2L290,489.6L300,492.1L310,494.7L320,497.2L330,499.4L340,501.1L350,502.3L360,502.8L370,502.8L380,502.5L390,502.1L400,501.6L410,500.9L420,500.0L430,499.0L440,497.9L450,496.7L460,495.5L470,494.1L480,492.8L490,491.5L500,490.2L510,488.9L520,487.7L530,486.6L540,485.6L550,484.8L560,484.0L570,483.5L580,483.1L590,482.9L600,482.8L610,483.3L620,484.5L630,486.2L640,488.4L650,490.8L660,493.4L670,496.0L680,498.3L690,500.3L700,501.8L710,502.6L720,502.8L730,502.7L740,502.4L750,501.9L760,501.2L770,500.4L780,499.5L790,498.5L800,497.3M90,508.5L100,507.2L110,506.0L120,504.6L130,503.3L140,502.0L150,500.7L160,499.4L170,498.3L180,497.2L190,496.3L200,495.5L210,494.9L220,494.4L230,494.1L240,493.9L250,494.1L260,494.9L270,496.3L280,498.2L290,500.6L300,503.1L310,505.7L320,508.2L330,510.4L340,512.1L350,513.3L360,513.9L370,513.9L380,513.6L390,513.3L400,512.7L410,512.0L420,511.1L430,510.1L440,509.1L450,507.9L460,506.6L470,505.3L480,504.0L490,502.6L500,501.3L510,500.1L520,498.9L530,497.8L540,496.8L550,495.9L560,495.2L570,494.6L580,494.2L590,494.0L600,493.9L610,494.4L620,495.5L630,497.2L640,499.4L650,501.8L660,504.4L670,507.0L680,509.3L690,511.3L700,512.8L710,513.7L720,513.9L730,513.8L740,513.5L750,513.0L760,512.4L770,511.6L780,510.7L790,509.6L800,508.5M90,519.6L100,518.4L110,517.1L120,515.8L130,514.5L140,513.1L150,511.8L160,510.6L170,509.4L180,508.4L190,507.4L200,506.6L210,506.0L220,505.5L230,505.2L240,505.0L250,505.1L260,505.9L270,507.3L280,509.2L290,511.6L300,514.1L310,516.7L320,519.2L330,521.4L340,523.2L350,524.4L360,525.0L370,525.0L380,524.8L390,524.4L400,523.8L410,523.1L420,522.3L430,521.3L440,520.2L450,519.0L460,517.8L470,516.5L480,515.1L490,513.8L500,512.5L510,511.2L520,510.0L530,508.9L540,507.9L550,507.0L560,506.3L570,505.7L580,505.3L590,505.1L600,505.0L610,505.5L620,506.6L630,508.2L640,510.4L650,512.8L660,515.4L670,518.0L680,520.4L690,522.4L700,523.9L710,524.8L720,525.0L730,524.9L740,524.6L750,524.1L760,523.5L770,522.7L780,521.8L790,520.8L800,519.6M90,530.8L100,529.5L110,528.3L120,526.9L130,525.6L140,524.3L150,523.0L160,521.7L170,520.6L180,519.5L190,518.6L200,517.8L210,517.1L220,516.6L230,516.3L240,516.1L250,516.2L260,517.0L270,518.4L280,520.3L290,522.6L300,525.1L310,527.7L320,530.2L330,532.4L340,534.2L350,535.5L360,536.1L370,536.1L380,535.9L390,535.5L400,535.0L410,534.3L420,533.4L430,532.4L440,531.3L450,530.2L460,528.9L470,527.6L480,526.3L490,524.9L500,523.6L510,522.4L520,521.2L530,520.0L540,519.0L550,518.2L560,517.4L570,516.8L580,516.4L590,516.2L600,516.1L610,516.5L620,517.6L630,519.3L640,521.4L650,523.8L660,526.4L670,529.0L680,531.4L690,533.4L700,534.9L710,535.8L720,536.1L730,536.0L740,535.7L750,535.2L760,534.6L770,533.8L780,532.9L790,531.9L800,530.8M90,541.9L100,540.7L110,539.4L120,538.1L130,536.8L140,535.4L150,534.1L160,532.9L170,531.7L180,530.7L190,529.7L200,528.9L210,528.2L220,527.7L230,527.4L240,527.2L250,527.3L260,528.0L270,529.4L280,531.3L290,533.6L300,536.1L310,538.7L320,541.2L330,543.5L340,545.3L350,546.5L360,547.1L370,547.2L380,547.0L390,546.6L400,546.1L410,545.4L420,544.5L430,543.6L440,542.5L450,541.3L460,540.1L470,538.8L480,537.4L490,536.1L500,534.8L510,533.5L520,532.3L530,531.2L540,530.2L550,529.3L560,528.5L570,528.0L580,527.5L590,527.3L600,527.2L610,527.6L620,528.6L630,530.3L640,532.4L650,534.8L660,537.4L670,540.0L680,542.4L690,544.4L700,546.0L710,546.9L720,547.2L730,547.1L740,546.8L750,546.4L760,545.7L770,545.0L780,544.1L790,543.0L800,541.9M90,553.1L100,551.8L110,550.6L120,549.2L130,547.9L140,546.6L150,545.3L160,544.0L170,542.9L180,541.8L190,540.8L200,540.0L210,539.4L220,538.8L230,538.5L240,538.3L250,538.4L260,539.1L270,540.4L280,542.3L290,544.6L300,547.1L310,549.7L320,552.2L330,554.5L340,556.3L350,557.6L360,558.2L370,558.3L380,558.1L390,557.7L400,557.2L410,556.5L420,555.7L430,554.7L440,553.6L450,552.5L460,551.2L470,549.9L480,548.6L490,547.2L500,545.9L510,544.7L520,543.4L530,542.3L540,541.3L550,540.4L560,539.7L570,539.1L580,538.6L590,538.4L600,538.3L610,538.7L620,539.7L630,541.3L640,543.4L650,545.8L660,548.4L670,551.0L680,553.4L690,555.4L700,557.0L710,558.0L720,558.3L730,558.2L740,557.9L750,557.5L760,556.9L770,556.1L780,555.2L790,554.2L800,553.1M90,564.2L100,563.0L110,561.7L120,560.4L130,559.1L140,557.7L150,556.4L160,555.2L170,554.0L180,552.9L190,552.0L200,551.2L210,550.5L220,550.0L230,549.6L240,549.4L250,549.5L260,550.2L270,551.5L280,553.3L290,555.6L300,558.1L310,560.7L320,563.2L330,565.5L340,567.3L350,568.6L360,569.3L370,569.4L380,569.2L390,568.8L400,568.3L410,567.6L420,566.8L430,565.9L440,564.8L450,563.6L460,562.4L470,561.1L480,559.7L490,558.4L500,557.1L510,555.8L520,554.6L530,553.5L540,552.4L550,551.6L560,550.8L570,550.2L580,549.8L590,549.5L600,549.4L610,549.7L620,550.7L630,552.3L640,554.4L650,556.8L660,559.4L670,562.0L680,564.4L690,566.5L700,568.1L710,569.1L720,569.4L730,569.3L740,569.0L750,568.6L760,568.0L770,567.2L780,566.4L790,565.3L800,564.2M90,575.4L100,574.1L110,572.9L120,571.6L130,570.2L140,568.9L150,567.6L160,566.3L170,565.2L180,564.1L190,563.1L200,562.3L210,561.6L220,561.1L230,560.7L240,560.5L250,560.6L260,561.2L270,562.5L280,564.3L290,566.6L300,569.1L310,571.7L320,574.2L330,576.5L340,578.4L350,579.7L360,580.4L370,580.5L380,580.3L390,580.0L400,579.4L410,578.8L420,578.0L430,577.0L440,575.9L450,574.8L460,573.5L470,572.2L480,570.9L490,569.6L500,568.2L510,567.0L520,565.7L530,564.6L540,563.6L550,562.7L560,561.9L570,561.3L580,560.9L590,560.6L600,560.5L610,560.8L620,561.8L630,563.4L640,565.4L650,567.8L660,570.4L670,573.0L680,575.4L690,577.5L700,579.1L710,580.1L720,580.5L730,580.4L740,580.2L750,579.7L760,579.1L770,578.4L780,577.5L790,576.5L800,575.4M90,586.5L100,585.3L110,584.0L120,582.7L130,581.4L140,580.0L150,578.7L160,577.5L170,576.3L180,575.2L190,574.3L200,573.4L210,572.7L220,572.2L230,571.8L240,571.6L250,571.7L260,572.3L270,573.5L280,575.3L290,577.6L300,580.1L310,582.7L320,585.2L330,587.5L340,589.4L350,590.8L360,591.5L370,591.6L380,591.4L390,591.1L400,590.6L410,589.9L420,589.1L430,588.1L440,587.1L450,585.9L460,584.7L470,583.4L480,582.0L490,580.7L500,579.4L510,578.1L520,576.9L530,575.8L540,574.7L550,573.8L560,573.1L570,572.4L580,572.0L590,571.7L600,571.6L610,571.9L620,572.8L630,574.4L640,576.4L650,578.8L660,581.4L670,584.0L680,586.4L690,588.5L700,590.2L710,591.2L720,591.6L730,591.5L740,591.3L750,590.8L760,590.3L770,589.5L780,588.6L790,587.6L800,586.5M90,597.6L100,596.4L110,595.2L120,593.9L130,592.5L140,591.2L150,589.9L160,588.6L170,587.5L180,586.4L190,585.4L200,584.5L210,583.8L220,583.3L230,582.9L240,582.7L250,582.7L260,583.3L270,584.6L280,586.4L290,588.6L300,591.1L310,593.7L320,596.2L330,598.5L340,600.4L350,601.8L360,602.6L370,602.7L380,602.5L390,602.2L400,601.7L410,601.0L420,600.2L430,599.3L440,598.2L450,597.1L460,595.8L470,594.5L480,593.2L490,591.9L500,590.5L510,589.3L520,588.0L530,586.9L540,585.9L550,585.0L560,584.2L570,583.6L580,583.1L590,582.8L600,582.7L610,583.0L620,583.9L630,585.4L640,587.4L650,589.8L660,592.4L670,595.0L680,597.4L690,599.5L700,601.2L710,602.3L720,602.7L730,602.6L740,602.4L750,602.0L760,601.4L770,600.6L780,599.8L790,598.8L800,597.6M90,608.8L100,607.6L110,606.3L120,605.0L130,603.7L140,602.3L150,601.0L160,599.8L170,598.6L180,597.5L190,596.5L200,595.7L210,595.0L220,594.4L230,594.0L240,593.8L250,593.8L260,594.4L270,595.6L280,597.4L290,599.6L300,602.1L310,604.7L320,607.2L330,609.6L340,611.5L350,612.9L360,613.7L370,613.8L380,613.6L390,613.3L400,612.8L410,612.2L420,611.4L430,610.4L440,609.4L450,608.2L460,607.0L470,605.7L480,604.3L490,603.0L500,601.7L510,600.4L520,599.2L530,598.0L540,597.0L550,596.1L560,595.3L570,594.7L580,594.2L590,593.9L600,593.8L610,594.0L620,594.9L630,596.4L640,598.4L650,600.8L660,603.4L670,606.0L680,608.4L690,610.6L700,612.2L710,613.3L720,613.8L730,613.7L740,613.5L750,613.1L760,612.5L770,611.8L780,610.9L790,609.9L800,608.8M90,619.9L100,618.7L110,617.5L120,616.2L130,614.8L140,613.5L150,612.2L160,610.9L170,609.7L180,608.7L190,607.7L200,606.8L210,606.1L220,605.5L230,605.2L240,604.9L250,604.9L260,605.5L270,606.7L280,608.4L290,610.6L300,613.1L310,615.7L320,618.2L330,620.6L340,622.5L350,623.9L360,624.7L370,624.9L380,624.7L390,624.4L400,623.9L410,623.3L420,622.5L430,621.6L440,620.5L450,619.4L460,618.1L470,616.8L480,615.5L490,614.2L500,612.8L510,611.6L520,610.3L530,609.2L540,608.1L550,607.2L560,606.4L570,605.8L580,605.3L590,605.0L600,604.9L610,605.1L620,606.0L630,607.5L640,609.5L650,611.8L660,614.4L670,617.0L680,619.4L690,621.6L700,623.3L710,624.4L720,624.9L730,624.8L740,624.6L750,624.2L760,623.6L770,622.9L780,622.0L790,621.0L800,619.9M90,631.1L100,629.9L110,628.6L120,627.3L130,626.0L140,624.7L150,623.3L160,622.1L170,620.9L180,619.8L190,618.8L200,617.9L210,617.2L220,616.7L230,616.3L240,616.0L250,616.0L260,616.5L270,617.7L280,619.4L290,621.6L300,624.1L310,626.7L320,629.2L330,631.6L340,633.5L350,635.0L360,635.8L370,636.0L380,635.9L390,635.5L400,635.1L410,634.4L420,633.6L430,632.7L440,631.6L450,630.5L460,629.3L470,628.0L480,626.7L490,625.3L500,624.0L510,622.7L520,621.5L530,620.3L540,619.3L550,618.4L560,617.6L570,616.9L580,616.4L590,616.1L600,616.0L610,616.2L620,617.0L630,618.5L640,620.5L650,622.8L660,625.4L670,628.0L680,630.4L690,632.6L700,634.3L710,635.5L720,636.0L730,635.9L740,635.7L750,635.3L760,634.8L770,634.0L780,633.2L790,632.2L800,631.1M90,642.2L100,641.0L110,639.8L120,638.5L130,637.1L140,635.8L150,634.5L160,633.2L170,632.0L180,630.9L190,629.9L200,629.1L210,628.3L220,627.8L230,627.4L240,627.2L250,627.1L260,627.6L270,628.7L280,630.4L290,632.6L300,635.1L310,637.7L320,640.2L330,642.6L340,644.6L350,646.0L360,646.9L370,647.1L380,647.0L390,646.7L400,646.2L410,645.6L420,644.8L430,643.8L440,642.8L450,641.6L460,640.4L470,639.1L480,637.8L490,636.5L500,635.1L510,633.9L520,632.6L530,631.5L540,630.4L550,629.5L560,628.7L570,628.0L580,627.6L590,627.2L600,627.1L610,627.3L620,628.1L630,629.5L640,631.5L650,633.8L660,636.4L670,639.0L680,641.5L690,643.6L700,645.4L710,646.5L720,647.1L730,647.1L740,646.8L750,646.4L760,645.9L770,645.2L780,644.3L790,643.3L800,642.2M90,653.4L100,652.2L110,650.9L120,649.6L130,648.3L140,647.0L150,645.6L160,644.4L170,643.2L180,642.1L190,641.1L200,640.2L210,639.5L220,638.9L230,638.5L240,638.3L250,638.2L260,638.7L270,639.8L280,641.5L290,643.6L300,646.1L310,648.7L320,651.2L330,653.6L340,655.6L350,657.1L360,658.0L370,658.2L380,658.1L390,657.8L400,657.3L410,656.7L420,655.9L430,655.0L440,653.9L450,652.8L460,651.6L470,650.3L480,649.0L490,647.6L500,646.3L510,645.0L520,643.8L530,642.6L540,641.6L550,640.6L560,639.8L570,639.2L580,638.7L590,638.4L600,638.2L610,638.4L620,639.2L630,640.6L640,642.5L650,644.8L660,647.4L670,650.0L680,652.5L690,654.7L700,656.4L710,657.6L720,658.2L730,658.2L740,657.9L750,657.6L760,657.0L770,656.3L780,655.5L790,654.5L800,653.4M90,664.5L100,663.3L110,662.1L120,660.8L130,659.4L140,658.1L150,656.8L160,655.5L170,654.3L180,653.2L190,652.2L200,651.3L210,650.6L220,650.0L230,649.6L240,649.4L250,649.3L260,649.7L270,650.8L280,652.5L290,654.6L300,657.1L310,659.7L320,662.2L330,664.6L340,666.6L350,668.1L360,669.0L370,669.3L380,669.2L390,668.9L400,668.4L410,667.8L420,667.0L430,666.1L440,665.1L450,663.9L460,662.7L470,661.4L480,660.1L490,658.8L500,657.5L510,656.2L520,654.9L530,653.8L540,652.7L550,651.8L560,651.0L570,650.3L580,649.8L590,649.5L600,649.3L610,649.4L620,650.2L630,651.6L640,653.5L650,655.8L660,658.4L670,661.0L680,663.5L690,665.7L700,667.5L710,668.7L720,669.3L730,669.3L740,669.1L750,668.7L760,668.1L770,667.4L780,666.6L790,665.6L800,664.5M90,675.7L100,674.5L110,673.2L120,671.9L130,670.6L140,669.3L150,668.0L160,666.7L170,665.5L180,664.4L190,663.4L200,662.5L210,661.7L220,661.1L230,660.7L240,660.5L250,660.4L260,660.8L270,661.9L280,663.5L290,665.6L300,668.1L310,670.7L320,673.2L330,675.6L340,677.7L350,679.2L360,680.1L370,680.4L380,680.3L390,680.0L400,679.6L410,678.9L420,678.2L430,677.3L440,676.2L450,675.1L460,673.9L470,672.6L480,671.3L490,669.9L500,668.6L510,667.3L520,666.1L530,664.9L540,663.8L550,662.9L560,662.1L570,661.4L580,660.9L590,660.6L600,660.4L610,660.5L620,661.3L630,662.6L640,664.5L650,666.8L660,669.4L670,672.0L680,674.5L690,676.7L700,678.5L710,679.7L720,680.3L730,680.4L740,680.2L750,679.8L760,679.3L770,678.6L780,677.7L790,676.8L800,675.7M90,686.8L100,685.6L110,684.4L120,683.1L130,681.8L140,680.4L150,679.1L160,677.8L170,676.6L180,675.5L190,674.5L200,673.6L210,672.9L220,672.3L230,671.8L240,671.6L250,671.5L260,671.9L270,672.9L280,674.5L290,676.6L300,679.1L310,681.7L320,684.2L330,686.6L340,688.7L350,690.2L360,691.2L370,691.5L380,691.4L390,691.1L400,690.7L410,690.1L420,689.3L430,688.4L440,687.4L450,686.2L460,685.0L470,683.7L480,682.4L490,681.1L500,679.8L510,678.5L520,677.2L530,676.1L540,675.0L550,674.0L560,673.2L570,672.5L580,672.0L590,671.7L600,671.5L610,671.6L620,672.3L630,673.7L640,675.5L650,677.8L660,680.4L670,683.0L680,685.5L690,687.7L700,689.5L710,690.8L720,691.4L730,691.5L740,691.3L750,690.9L760,690.4L770,689.7L780,688.9L790,687.9L800,686.8M90,698.0L100,696.8L110,695.5L120,694.2L130,692.9L140,691.6L150,690.3L160,689.0L170,687.8L180,686.6L190,685.6L200,684.7L210,684.0L220,683.4L230,682.9L240,682.7L250,682.6L260,683.0L270,684.0L280,685.6L290,687.6L300,690.1L310,692.7L320,695.2L330,697.6L340,699.7L350,701.3L360,702.3L370,702.6L380,702.5L390,702.2L400,701.8L410,701.2L420,700.4L430,699.5L440,698.5L450,697.4L460,696.2L470,694.9L480,693.6L490,692.2L500,690.9L510,689.6L520,688.4L530,687.2L540,686.1L550,685.2L560,684.3L570,683.7L580,683.1L590,682.8L600,682.6L610,682.7L620,683.4L630,684.7L640,686.6L650,688.8L660,691.3L670,694.0L680,696.5L690,698.7L700,700.6L710,701.9L720,702.5L730,702.6L740,702.4L750,702.0L760,701.5L770,700.8L780,700.0L790,699.0L800,698.0M90,709.1L100,707.9L110,706.7L120,705.4L130,704.1L140,702.7L150,701.4L160,700.1L170,698.9L180,697.8L190,696.8L200,695.9L210,695.1L220,694.5L230,694.1L240,693.8L250,693.7L260,694.0L270,695.0L280,696.6L290,698.7L300,701.1L310,703.6L320,706.2L330,708.7L340,710.7L350,712.3L360,713.3L370,713.7L380,713.6L390,713.4L400,712.9L410,712.3L420,711.6L430,710.7L440,709.7L450,708.5L460,707.3L470,706.0L480,704.7L490,703.4L500,702.1L510,700.8L520,699.5L530,698.3L540,697.3L550,696.3L560,695.5L570,694.8L580,694.3L590,693.9L600,693.7L610,693.8L620,694.4L630,695.7L640,697.6L650,699.8L660,702.3L670,705.0L680,707.5L690,709.7L700,711.6L710,712.9L720,713.6L730,713.7L740,713.5L750,713.2L760,712.6L770,712.0L780,711.1L790,710.2L800,709.1M90,720.2L100,719.1L110,717.8L120,716.5L130,715.2L140,713.9L150,712.6L160,711.3L170,710.1L180,708.9L190,707.9L200,707.0L210,706.2L220,705.6L230,705.2L240,704.9L250,704.8L260,705.1L270,706.1L280,707.6L290,709.7L300,712.1L310,714.6L320,717.2L330,719.7L340,721.8L350,723.4L360,724.4L370,724.8L380,724.7L390,724.5L400,724.0L410,723.4L420,722.7L430,721.8L440,720.8L450,719.7L460,718.5L470,717.2L480,715.9L490,714.5L500,713.2L510,711.9L520,710.7L530,709.5L540,708.4L550,707.4L560,706.6L570,705.9L580,705.4L590,705.0L600,704.8L610,704.9L620,705.5L630,706.8L640,708.6L650,710.8L660,713.3L670,715.9L680,718.5L690,720.8L700,722.6L710,724.0L720,724.7L730,724.8L740,724.6L750,724.3L760,723.8L770,723.1L780,722.3L790,721.3L800,720.2M90,731.4L100,730.2L110,729.0L120,727.7L130,726.4L140,725.0L150,723.7L160,722.4L170,721.2L180,720.1L190,719.0L200,718.1L210,717.4L220,716.7L230,716.3L240,716.0L250,715.9L260,716.2L270,717.1L280,718.6L290,720.7L300,723.1L310,725.6L320,728.2L330,730.7L340,732.8L350,734.4L360,735.5L370,735.9L380,735.8L390,735.6L400,735.2L410,734.6L420,733.8L430,732.9L440,731.9L450,730.8L460,729.6L470,728.3L480,727.0L490,725.7L500,724.4L510,723.1L520,721.8L530,720.6L540,719.5L550,718.6L560,717.7L570,717.0L580,716.5L590,716.1L600,715.9L610,716.0L620,716.6L630,717.8L640,719.6L650,721.8L660,724.3L670,726.9L680,729.5L690,731.8L700,733.7L710,735.0L720,735.8L730,735.9L740,735.7L750,735.4L760,734.9L770,734.2L780,733.4L790,732.5L800,731.4M90,742.5L100,741.4L110,740.1L120,738.8L130,737.5L140,736.2L150,734.9L160,733.6L170,732.4L180,731.2L190,730.2L200,729.3L210,728.5L220,727.9L230,727.4L240,727.1L250,727.0L260,727.3L270,728.2L280,729.7L290,731.7L300,734.1L310,736.6L320,739.2L330,741.7L340,743.8L350,745.5L360,746.6L370,747.0L380,746.9L390,746.7L400,746.3L410,745.7L420,745.0L430,744.1L440,743.1L450,742.0L460,740.8L470,739.5L480,738.2L490,736.9L500,735.5L510,734.2L520,733.0L530,731.8L540,730.7L550,729.7L560,728.9L570,728.2L580,727.6L590,727.2L600,727.0L610,727.0L620,727.6L630,728.8L640,730.6L650,732.8L660,735.3L670,737.9L680,740.5L690,742.8L700,744.7L710,746.1L720,746.9L730,747.0L740,746.8L750,746.5L760,746.0L770,745.3L780,744.5L790,743.6L800,742.5M90,753.7L100,752.5L110,751.3L120,750.0L130,748.7L140,747.3L150,746.0L160,744.7L170,743.5L180,742.4L190,741.3L200,740.4L210,739.6L220,739.0L230,738.5L240,738.2L250,738.1L260,738.3L270,739.2L280,740.7L290,742.7L300,745.1L310,747.6L320,750.2L330,752.7L340,754.8L350,756.5L360,757.6L370,758.1L380,758.0L390,757.8L400,757.4L410,756.8L420,756.1L430,755.2L440,754.2L450,753.1L460,751.9L470,750.7L480,749.3L490,748.0L500,746.7L510,745.4L520,744.1L530,742.9L540,741.8L550,740.8L560,740.0L570,739.3L580,738.7L590,738.4L600,738.1L610,738.1L620,738.7L630,739.9L640,741.6L650,743.8L660,746.3L670,748.9L680,751.5L690,753.8L700,755.7L710,757.1L720,757.9L730,758.1L740,757.9L750,757.6L760,757.1L770,756.5L780,755.7L790,754.7L800,753.7M90,764.8L100,763.7L110,762.4L120,761.2L130,759.8L140,758.5L150,757.2L160,755.9L170,754.7L180,753.5L190,752.5L200,751.5L210,750.7L220,750.1L230,749.6L240,749.3L250,749.2L260,749.4L270,750.3L280,751.7L290,753.7L300,756.1L310,758.6L320,761.2L330,763.7L340,765.9L350,767.6L360,768.7L370,769.2L380,769.1L390,768.9L400,768.5L410,768.0L420,767.2L430,766.4L440,765.4L450,764.3L460,763.1L470,761.8L480,760.5L490,759.2L500,757.8L510,756.5L520,755.3L530,754.1L540,753.0L550,752.0L560,751.1L570,750.4L580,749.9L590,749.5L600,749.2L610,749.2L620,749.8L630,750.9L640,752.7L650,754.8L660,757.3L670,759.9L680,762.5L690,764.8L700,766.8L710,768.2L720,769.0L730,769.2L740,769.1L750,768.7L760,768.3L770,767.6L780,766.8L790,765.9L800,764.8M90,776.0L100,774.8L110,773.6L120,772.3L130,771.0L140,769.6L150,768.3L160,767.0L170,765.8L180,764.7L190,763.6L200,762.7L210,761.9L220,761.2L230,760.8L240,760.4L250,760.3L260,760.5L270,761.3L280,762.8L290,764.7L300,767.1L310,769.6L320,772.2L330,774.7L340,776.9L350,778.6L360,779.8L370,780.3L380,780.3L390,780.0L400,779.6L410,779.1L420,778.4L430,777.5L440,776.5L450,775.4L460,774.2L470,773.0L480,771.6L490,770.3L500,769.0L510,767.7L520,766.4L530,765.2L540,764.1L550,763.1L560,762.3L570,761.5L580,761.0L590,760.6L600,760.4L610,760.3L620,760.8L630,762.0L640,763.7L650,765.9L660,768.3L670,770.9L680,773.5L690,775.8L700,777.8L710,779.3L720,780.1L730,780.3L740,780.2L750,779.9L760,779.4L770,778.7L780,777.9L790,777.0L800,776.0M90,787.1L100,786.0L110,784.7L120,783.5L130,782.1L140,780.8L150,779.5L160,778.2L170,776.9L180,775.8L190,774.7L200,773.8L210,773.0L220,772.4L230,771.9L240,771.6L250,771.4L260,771.6L270,772.4L280,773.8L290,775.7L300,778.1L310,780.6L320,783.2L330,785.7L340,787.9L350,789.6L360,790.8L370,791.4L380,791.4L390,791.1L400,790.8L410,790.2L420,789.5L430,788.6L440,787.6L450,786.6L460,785.4L470,784.1L480,782.8L490,781.5L500,780.1L510,778.8L520,777.6L530,776.4L540,775.3L550,774.3L560,773.4L570,772.7L580,772.1L590,771.7L600,771.5L610,771.4L620,771.9L630,773.0L640,774.7L650,776.9L660,779.3L670,781.9L680,784.5L690,786.8L700,788.8L710,790.3L720,791.2L730,791.4L740,791.3L750,791.0L760,790.5L770,789.9L780,789.1L790,788.2L800,787.1M90,798.3L100,797.1L110,795.9L120,794.6L130,793.3L140,792.0L150,790.6L160,789.3L170,788.1L180,786.9L190,785.9L200,784.9L210,784.1L220,783.5L230,783.0L240,782.7L250,782.5L260,782.6L270,783.4L280,784.8L290,786.7L300,789.1L310,791.6L320,794.2L330,796.7L340,798.9L350,800.7L360,801.9L370,802.5L380,802.5L390,802.3L400,801.9L410,801.3L420,800.6L430,799.8L440,798.8L450,797.7L460,796.5L470,795.3L480,794.0L490,792.6L500,791.3L510,790.0L520,788.7L530,787.5L540,786.4L550,785.4L560,784.5L570,783.8L580,783.2L590,782.8L600,782.6L610,782.5L620,783.0L630,784.1L640,785.7L650,787.9L660,790.3L670,792.9L680,795.5L690,797.9L700,799.9L710,801.4L720,802.3L730,802.5L740,802.4L750,802.1L760,801.6L770,801.0L780,800.2L790,799.3L800,798.3M90,809.4L100,808.3L110,807.0L120,805.8L130,804.4L140,803.1L150,801.8L160,800.5L170,799.2L180,798.1L190,797.0L200,796.1L210,795.3L220,794.6L230,794.1L240,793.8L250,793.6L260,793.7L270,794.5L280,795.9L290,797.8L300,800.1L310,802.6L320,805.2L330,807.7L340,809.9L350,811.7L360,813.0L370,813.6L380,813.6L390,813.4L400,813.0L410,812.5L420,811.8L430,810.9L440,809.9L450,808.8L460,807.7L470,806.4L480,805.1L490,803.8L500,802.4L510,801.1L520,799.9L530,798.7L540,797.5L550,796.5L560,795.7L570,794.9L580,794.3L590,793.9L600,793.7L610,793.6L620,794.0L630,795.1L640,796.8L650,798.9L660,801.3L670,803.9L680,806.5L690,808.9L700,810.9L710,812.4L720,813.3L730,813.6L740,813.5L750,813.2L760,812.7L770,812.1L780,811.3L790,810.4L800,809.4" fill="none" stroke="#e3ece9" stroke-width="4.0" stroke-linejoin="round"/>
</g>
</g>
<rect x="104.8" y="141" width="671.6" height="71.5" rx="21" fill="#b8bfca" fill-opacity="0.75"/>
<rect x="116" y="147.7" width="650.6" height="56.1" rx="16" fill="#ffffff"/>
<text x="149.8" y="186.6" font-size="30.5" fill="#6b6b6b" font-weight="700" text-anchor="start" textLength="203.0" lengthAdjust="spacingAndGlyphs" letter-spacing="3.5">Nivel general</text>
<text x="380.6" y="182.0" font-size="36" fill="#76b72a" font-weight="700" text-anchor="start" textLength="72.9" lengthAdjust="spacingAndGlyphs" >7,5%</text>
<text x="503.2" y="182.0" font-size="36" fill="#1e4b9a" font-weight="700" text-anchor="start" textLength="103.8" lengthAdjust="spacingAndGlyphs" >-43,5%</text>
<text x="664.8" y="182.2" font-size="36" fill="#5d9cc8" font-weight="700" text-anchor="start" textLength="73.3" lengthAdjust="spacingAndGlyphs" >6,3%</text>
<rect x="393" y="191.8" width="37.0" height="15.2" rx="5" fill="#76b72a"/>
<text x="411.5" y="205.2" font-size="16" fill="#ffffff" font-weight="700" text-anchor="middle" textLength="20.5" lengthAdjust="spacingAndGlyphs" >v.im</text>
<rect x="533.5" y="191.8" width="37.1" height="15.2" rx="5" fill="#1e4b9a"/>
<text x="552.0" y="205.2" font-size="16" fill="#ffffff" font-weight="700" text-anchor="middle" textLength="20.5" lengthAdjust="spacingAndGlyphs" >v.ia</text>
<rect x="678" y="191.8" width="36.0" height="15.2" rx="5" fill="#5d9cc8"/>
<text x="696.0" y="205.2" font-size="16" fill="#ffffff" font-weight="700" text-anchor="middle" textLength="20.5" lengthAdjust="spacingAndGlyphs" >v.ai</text>
<rect x="104.8" y="222.5" width="672.7" height="38.7" rx="19.35" fill="#a9adc0" fill-opacity="0.82"/>
<g transform="translate(122.80,251.40) scale(1.0)" fill="none" stroke="#ffffff" stroke-width="2.8" stroke-linecap="round" stroke-linejoin="round"><path d="M0,0 C8,2.2 22,4.6 32,4.3 C41,4 47.2,-0.5 47.2,-6.8 C47.2,-12.6 42.5,-15.8 36.5,-15.8 C33.5,-15.8 31,-14.3 29.5,-12.5"/><path d="M26.4,-11.8 L35.8,-18.8 L37.2,-10.6 Z" stroke="none" fill="#ffffff"/><circle cx="0.3" cy="0" r="3.4" fill="#ffffff" stroke="none"/><g transform="rotate(180 28.5 -8.1)"><path d="M0,0 C8,2.2 22,4.6 32,4.3 C41,4 47.2,-0.5 47.2,-6.8 C47.2,-12.6 42.5,-15.8 36.5,-15.8 C33.5,-15.8 31,-14.3 29.5,-12.5"/><path d="M26.4,-11.8 L35.8,-18.8 L37.2,-10.6 Z" stroke="none" fill="#ffffff"/><circle cx="0.3" cy="0" r="3.4" fill="#ffffff" stroke="none"/></g></g>
<g transform="translate(175.45,251.40) scale(1.0)" fill="none" stroke="#ffffff" stroke-width="2.8" stroke-linecap="round" stroke-linejoin="round"><path d="M0,0 C8,2.2 22,4.6 32,4.3 C41,4 47.2,-0.5 47.2,-6.8 C47.2,-12.6 42.5,-15.8 36.5,-15.8 C33.5,-15.8 31,-14.3 29.5,-12.5"/><path d="M26.4,-11.8 L35.8,-18.8 L37.2,-10.6 Z" stroke="none" fill="#ffffff"/><circle cx="0.3" cy="0" r="3.4" fill="#ffffff" stroke="none"/><g transform="rotate(180 28.5 -8.1)"><path d="M0,0 C8,2.2 22,4.6 32,4.3 C41,4 47.2,-0.5 47.2,-6.8 C47.2,-12.6 42.5,-15.8 36.5,-15.8 C33.5,-15.8 31,-14.3 29.5,-12.5"/><path d="M26.4,-11.8 L35.8,-18.8 L37.2,-10.6 Z" stroke="none" fill="#ffffff"/><circle cx="0.3" cy="0" r="3.4" fill="#ffffff" stroke="none"/></g></g>
<g transform="translate(228.10,251.40) scale(1.0)" fill="none" stroke="#ffffff" stroke-width="2.8" stroke-linecap="round" stroke-linejoin="round"><path d="M0,0 C8,2.2 22,4.6 32,4.3 C41,4 47.2,-0.5 47.2,-6.8 C47.2,-12.6 42.5,-15.8 36.5,-15.8 C33.5,-15.8 31,-14.3 29.5,-12.5"/><path d="M26.4,-11.8 L35.8,-18.8 L37.2,-10.6 Z" stroke="none" fill="#ffffff"/><circle cx="0.3" cy="0" r="3.4" fill="#ffffff" stroke="none"/><g transform="rotate(180 28.5 -8.1)"><path d="M0,0 C8,2.2 22,4.6 32,4.3 C41,4 47.2,-0.5 47.2,-6.8 C47.2,-12.6 42.5,-15.8 36.5,-15.8 C33.5,-15.8 31,-14.3 29.5,-12.5"/><path d="M26.4,-11.8 L35.8,-18.8 L37.2,-10.6 Z" stroke="none" fill="#ffffff"/><circle cx="0.3" cy="0" r="3.4" fill="#ffffff" stroke="none"/></g></g>
<g transform="translate(280.75,251.40) scale(1.0)" fill="none" stroke="#ffffff" stroke-width="2.8" stroke-linecap="round" stroke-linejoin="round"><path d="M0,0 C8,2.2 22,4.6 32,4.3 C41,4 47.2,-0.5 47.2,-6.8 C47.2,-12.6 42.5,-15.8 36.5,-15.8 C33.5,-15.8 31,-14.3 29.5,-12.5"/><path d="M26.4,-11.8 L35.8,-18.8 L37.2,-10.6 Z" stroke="none" fill="#ffffff"/><circle cx="0.3" cy="0" r="3.4" fill="#ffffff" stroke="none"/><g transform="rotate(180 28.5 -8.1)"><path d="M0,0 C8,2.2 22,4.6 32,4.3 C41,4 47.2,-0.5 47.2,-6.8 C47.2,-12.6 42.5,-15.8 36.5,-15.8 C33.5,-15.8 31,-14.3 29.5,-12.5"/><path d="M26.4,-11.8 L35.8,-18.8 L37.2,-10.6 Z" stroke="none" fill="#ffffff"/><circle cx="0.3" cy="0" r="3.4" fill="#ffffff" stroke="none"/></g></g>
<g transform="translate(333.40,251.40) scale(1.0)" fill="none" stroke="#ffffff" stroke-width="2.8" stroke-linecap="round" stroke-linejoin="round"><path d="M0,0 C8,2.2 22,4.6 32,4.3 C41,4 47.2,-0.5 47.2,-6.8 C47.2,-12.6 42.5,-15.8 36.5,-15.8 C33.5,-15.8 31,-14.3 29.5,-12.5"/><path d="M26.4,-11.8 L35.8,-18.8 L37.2,-10.6 Z" stroke="none" fill="#ffffff"/><circle cx="0.3" cy="0" r="3.4" fill="#ffffff" stroke="none"/><g transform="rotate(180 28.5 -8.1)"><path d="M0,0 C8,2.2 22,4.6 32,4.3 C41,4 47.2,-0.5 47.2,-6.8 C47.2,-12.6 42.5,-15.8 36.5,-15.8 C33.5,-15.8 31,-14.3 29.5,-12.5"/><path d="M26.4,-11.8 L35.8,-18.8 L37.2,-10.6 Z" stroke="none" fill="#ffffff"/><circle cx="0.3" cy="0" r="3.4" fill="#ffffff" stroke="none"/></g></g>
<g transform="translate(386.05,251.40) scale(1.0)" fill="none" stroke="#ffffff" stroke-width="2.8" stroke-linecap="round" stroke-linejoin="round"><path d="M0,0 C8,2.2 22,4.6 32,4.3 C41,4 47.2,-0.5 47.2,-6.8 C47.2,-12.6 42.5,-15.8 36.5,-15.8 C33.5,-15.8 31,-14.3 29.5,-12.5"/><path d="M26.4,-11.8 L35.8,-18.8 L37.2,-10.6 Z" stroke="none" fill="#ffffff"/><circle cx="0.3" cy="0" r="3.4" fill="#ffffff" stroke="none"/><g transform="rotate(180 28.5 -8.1)"><path d="M0,0 C8,2.2 22,4.6 32,4.3 C41,4 47.2,-0.5 47.2,-6.8 C47.2,-12.6 42.5,-15.8 36.5,-15.8 C33.5,-15.8 31,-14.3 29.5,-12.5"/><path d="M26.4,-11.8 L35.8,-18.8 L37.2,-10.6 Z" stroke="none" fill="#ffffff"/><circle cx="0.3" cy="0" r="3.4" fill="#ffffff" stroke="none"/></g></g>
<g transform="translate(438.70,251.40) scale(1.0)" fill="none" stroke="#ffffff" stroke-width="2.8" stroke-linecap="round" stroke-linejoin="round"><path d="M0,0 C8,2.2 22,4.6 32,4.3 C41,4 47.2,-0.5 47.2,-6.8 C47.2,-12.6 42.5,-15.8 36.5,-15.8 C33.5,-15.8 31,-14.3 29.5,-12.5"/><path d="M26.4,-11.8 L35.8,-18.8 L37.2,-10.6 Z" stroke="none" fill="#ffffff"/><circle cx="0.3" cy="0" r="3.4" fill="#ffffff" stroke="none"/><g transform="rotate(180 28.5 -8.1)"><path d="M0,0 C8,2.2 22,4.6 32,4.3 C41,4 47.2,-0.5 47.2,-6.8 C47.2,-12.6 42.5,-15.8 36.5,-15.8 C33.5,-15.8 31,-14.3 29.5,-12.5"/><path d="M26.4,-11.8 L35.8,-18.8 L37.2,-10.6 Z" stroke="none" fill="#ffffff"/><circle cx="0.3" cy="0" r="3.4" fill="#ffffff" stroke="none"/></g></g>
<g transform="translate(491.35,251.40) scale(1.0)" fill="none" stroke="#ffffff" stroke-width="2.8" stroke-linecap="round" stroke-linejoin="round"><path d="M0,0 C8,2.2 22,4.6 32,4.3 C41,4 47.2,-0.5 47.2,-6.8 C47.2,-12.6 42.5,-15.8 36.5,-15.8 C33.5,-15.8 31,-14.3 29.5,-12.5"/><path d="M26.4,-11.8 L35.8,-18.8 L37.2,-10.6 Z" stroke="none" fill="#ffffff"/><circle cx="0.3" cy="0" r="3.4" fill="#ffffff" stroke="none"/><g transform="rotate(180 28.5 -8.1)"><path d="M0,0 C8,2.2 22,4.6 32,4.3 C41,4 47.2,-0.5 47.2,-6.8 C47.2,-12.6 42.5,-15.8 36.5,-15.8 C33.5,-15.8 31,-14.3 29.5,-12.5"/><path d="M26.4,-11.8 L35.8,-18.8 L37.2,-10.6 Z" stroke="none" fill="#ffffff"/><circle cx="0.3" cy="0" r="3.4" fill="#ffffff" stroke="none"/></g></g>
<g transform="translate(544.00,251.40) scale(1.0)" fill="none" stroke="#ffffff" stroke-width="2.8" stroke-linecap="round" stroke-linejoin="round"><path d="M0,0 C8,2.2 22,4.6 32,4.3 C41,4 47.2,-0.5 47.2,-6.8 C47.2,-12.6 42.5,-15.8 36.5,-15.8 C33.5,-15.8 31,-14.3 29.5,-12.5"/><path d="M26.4,-11.8 L35.8,-18.8 L37.2,-10.6 Z" stroke="none" fill="#ffffff"/><circle cx="0.3" cy="0" r="3.4" fill="#ffffff" stroke="none"/><g transform="rotate(180 28.5 -8.1)"><path d="M0,0 C8,2.2 22,4.6 32,4.3 C41,4 47.2,-0.5 47.2,-6.8 C47.2,-12.6 42.5,-15.8 36.5,-15.8 C33.5,-15.8 31,-14.3 29.5,-12.5"/><path d="M26.4,-11.8 L35.8,-18.8 L37.2,-10.6 Z" stroke="none" fill="#ffffff"/><circle cx="0.3" cy="0" r="3.4" fill="#ffffff" stroke="none"/></g></g>
<g transform="translate(596.65,251.40) scale(1.0)" fill="none" stroke="#ffffff" stroke-width="2.8" stroke-linecap="round" stroke-linejoin="round"><path d="M0,0 C8,2.2 22,4.6 32,4.3 C41,4 47.2,-0.5 47.2,-6.8 C47.2,-12.6 42.5,-15.8 36.5,-15.8 C33.5,-15.8 31,-14.3 29.5,-12.5"/><path d="M26.4,-11.8 L35.8,-18.8 L37.2,-10.6 Z" stroke="none" fill="#ffffff"/><circle cx="0.3" cy="0" r="3.4" fill="#ffffff" stroke="none"/><g transform="rotate(180 28.5 -8.1)"><path d="M0,0 C8,2.2 22,4.6 32,4.3 C41,4 47.2,-0.5 47.2,-6.8 C47.2,-12.6 42.5,-15.8 36.5,-15.8 C33.5,-15.8 31,-14.3 29.5,-12.5"/><path d="M26.4,-11.8 L35.8,-18.8 L37.2,-10.6 Z" stroke="none" fill="#ffffff"/><circle cx="0.3" cy="0" r="3.4" fill="#ffffff" stroke="none"/></g></g>
<g transform="translate(649.30,251.40) scale(1.0)" fill="none" stroke="#ffffff" stroke-width="2.8" stroke-linecap="round" stroke-linejoin="round"><path d="M0,0 C8,2.2 22,4.6 32,4.3 C41,4 47.2,-0.5 47.2,-6.8 C47.2,-12.6 42.5,-15.8 36.5,-15.8 C33.5,-15.8 31,-14.3 29.5,-12.5"/><path d="M26.4,-11.8 L35.8,-18.8 L37.2,-10.6 Z" stroke="none" fill="#ffffff"/><circle cx="0.3" cy="0" r="3.4" fill="#ffffff" stroke="none"/><g transform="rotate(180 28.5 -8.1)"><path d="M0,0 C8,2.2 22,4.6 32,4.3 C41,4 47.2,-0.5 47.2,-6.8 C47.2,-12.6 42.5,-15.8 36.5,-15.8 C33.5,-15.8 31,-14.3 29.5,-12.5"/><path d="M26.4,-11.8 L35.8,-18.8 L37.2,-10.6 Z" stroke="none" fill="#ffffff"/><circle cx="0.3" cy="0" r="3.4" fill="#ffffff" stroke="none"/></g></g>
<g transform="translate(701.95,251.40) scale(1.0)" fill="none" stroke="#ffffff" stroke-width="2.8" stroke-linecap="round" stroke-linejoin="round"><path d="M0,0 C8,2.2 22,4.6 32,4.3 C41,4 47.2,-0.5 47.2,-6.8 C47.2,-12.6 42.5,-15.8 36.5,-15.8 C33.5,-15.8 31,-14.3 29.5,-12.5"/><path d="M26.4,-11.8 L35.8,-18.8 L37.2,-10.6 Z" stroke="none" fill="#ffffff"/><circle cx="0.3" cy="0" r="3.4" fill="#ffffff" stroke="none"/><g transform="rotate(180 28.5 -8.1)"><path d="M0,0 C8,2.2 22,4.6 32,4.3 C41,4 47.2,-0.5 47.2,-6.8 C47.2,-12.6 42.5,-15.8 36.5,-15.8 C33.5,-15.8 31,-14.3 29.5,-12.5"/><path d="M26.4,-11.8 L35.8,-18.8 L37.2,-10.6 Z" stroke="none" fill="#ffffff"/><circle cx="0.3" cy="0" r="3.4" fill="#ffffff" stroke="none"/></g></g>
<rect x="140.3" y="306.5" width="225.7" height="35.30000000000001" rx="17.650000000000006" fill="#c9cad7"/>
<rect x="136.3" y="303.5" width="225.7" height="35.30000000000001" rx="17.650000000000006" fill="#ffffff"/>
<text x="143.4" y="330.4" font-size="26" fill="#72759a" font-weight="400" text-anchor="start" textLength="173.9" lengthAdjust="spacingAndGlyphs" >Grupo de especies</text>
<g transform="translate(325.00,325.90) scale(0.567)" fill="none" stroke="#72759a" stroke-width="2.3" stroke-linecap="round" stroke-linejoin="round"><path d="M0,0 C8,2.2 22,4.6 32,4.3 C41,4 47.2,-0.5 47.2,-6.8 C47.2,-12.6 42.5,-15.8 36.5,-15.8 C33.5,-15.8 31,-14.3 29.5,-12.5"/><path d="M26.4,-11.8 L35.8,-18.8 L37.2,-10.6 Z" stroke="none" fill="#72759a"/><circle cx="0.3" cy="0" r="3.4" fill="#72759a" stroke="none"/><g transform="rotate(180 28.5 -8.1)"><path d="M0,0 C8,2.2 22,4.6 32,4.3 C41,4 47.2,-0.5 47.2,-6.8 C47.2,-12.6 42.5,-15.8 36.5,-15.8 C33.5,-15.8 31,-14.3 29.5,-12.5"/><path d="M26.4,-11.8 L35.8,-18.8 L37.2,-10.6 Z" stroke="none" fill="#72759a"/><circle cx="0.3" cy="0" r="3.4" fill="#72759a" stroke="none"/></g></g>
<rect x="526.2" y="306" width="206.79999999999995" height="35.39999999999998" rx="17.69999999999999" fill="#c9cad7"/>
<rect x="522.2" y="303" width="206.79999999999995" height="35.39999999999998" rx="17.69999999999999" fill="#ffffff"/>
<text x="539.9" y="330.4" font-size="26" fill="#72759a" font-weight="400" text-anchor="start" textLength="133.0" lengthAdjust="spacingAndGlyphs" >Tipo de buque</text>
<g transform="translate(691.00,325.90) scale(0.567)" fill="none" stroke="#72759a" stroke-width="2.3" stroke-linecap="round" stroke-linejoin="round"><path d="M0,0 C8,2.2 22,4.6 32,4.3 C41,4 47.2,-0.5 47.2,-6.8 C47.2,-12.6 42.5,-15.8 36.5,-15.8 C33.5,-15.8 31,-14.3 29.5,-12.5"/><path d="M26.4,-11.8 L35.8,-18.8 L37.2,-10.6 Z" stroke="none" fill="#72759a"/><circle cx="0.3" cy="0" r="3.4" fill="#72759a" stroke="none"/><g transform="rotate(180 28.5 -8.1)"><path d="M0,0 C8,2.2 22,4.6 32,4.3 C41,4 47.2,-0.5 47.2,-6.8 C47.2,-12.6 42.5,-15.8 36.5,-15.8 C33.5,-15.8 31,-14.3 29.5,-12.5"/><path d="M26.4,-11.8 L35.8,-18.8 L37.2,-10.6 Z" stroke="none" fill="#72759a"/><circle cx="0.3" cy="0" r="3.4" fill="#72759a" stroke="none"/></g></g>
<circle cx="180" cy="412" r="56.5" fill="#ffffff"/>
<circle cx="180" cy="412" r="53.5" fill="none" stroke="#71738f" stroke-width="8.6"/>
<g fill="#ffffff"><ellipse cx="233.5" cy="412.0" rx="5.2" ry="1.95" transform="rotate(40 233.5 412.0)"/><ellipse cx="233.1" cy="418.6" rx="5.2" ry="1.95" transform="rotate(47 233.1 418.6)"/><ellipse cx="231.9" cy="425.0" rx="5.2" ry="1.95" transform="rotate(54 231.9 425.0)"/><ellipse cx="229.9" cy="431.3" rx="5.2" ry="1.95" transform="rotate(61 229.9 431.3)"/><ellipse cx="227.1" cy="437.3" rx="5.2" ry="1.95" transform="rotate(68 227.1 437.3)"/><ellipse cx="223.7" cy="442.9" rx="5.2" ry="1.95" transform="rotate(75 223.7 442.9)"/><ellipse cx="219.5" cy="448.0" rx="5.2" ry="1.95" transform="rotate(82 219.5 448.0)"/><ellipse cx="214.8" cy="452.6" rx="5.2" ry="1.95" transform="rotate(89 214.8 452.6)"/><ellipse cx="209.6" cy="456.6" rx="5.2" ry="1.95" transform="rotate(96 209.6 456.6)"/><ellipse cx="203.8" cy="459.9" rx="5.2" ry="1.95" transform="rotate(104 203.8 459.9)"/><ellipse cx="197.8" cy="462.5" rx="5.2" ry="1.95" transform="rotate(111 197.8 462.5)"/><ellipse cx="191.4" cy="464.3" rx="5.2" ry="1.95" transform="rotate(118 191.4 464.3)"/><ellipse cx="184.9" cy="465.3" rx="5.2" ry="1.95" transform="rotate(125 184.9 465.3)"/><ellipse cx="178.4" cy="465.5" rx="5.2" ry="1.95" transform="rotate(132 178.4 465.5)"/><ellipse cx="171.8" cy="464.9" rx="5.2" ry="1.95" transform="rotate(139 171.8 464.9)"/><ellipse cx="165.4" cy="463.5" rx="5.2" ry="1.95" transform="rotate(146 165.4 463.5)"/><ellipse cx="159.1" cy="461.3" rx="5.2" ry="1.95" transform="rotate(153 159.1 461.3)"/><ellipse cx="153.2" cy="458.3" rx="5.2" ry="1.95" transform="rotate(160 153.2 458.3)"/><ellipse cx="147.8" cy="454.7" rx="5.2" ry="1.95" transform="rotate(167 147.8 454.7)"/><ellipse cx="142.8" cy="450.4" rx="5.2" ry="1.95" transform="rotate(174 142.8 450.4)"/><ellipse cx="138.3" cy="445.5" rx="5.2" ry="1.95" transform="rotate(181 138.3 445.5)"/><ellipse cx="134.5" cy="440.2" rx="5.2" ry="1.95" transform="rotate(188 134.5 440.2)"/><ellipse cx="131.4" cy="434.4" rx="5.2" ry="1.95" transform="rotate(195 131.4 434.4)"/><ellipse cx="129.0" cy="428.2" rx="5.2" ry="1.95" transform="rotate(202 129.0 428.2)"/><ellipse cx="127.4" cy="421.8" rx="5.2" ry="1.95" transform="rotate(209 127.4 421.8)"/><ellipse cx="126.6" cy="415.3" rx="5.2" ry="1.95" transform="rotate(216 126.6 415.3)"/><ellipse cx="126.6" cy="408.7" rx="5.2" ry="1.95" transform="rotate(224 126.6 408.7)"/><ellipse cx="127.4" cy="402.2" rx="5.2" ry="1.95" transform="rotate(231 127.4 402.2)"/><ellipse cx="129.0" cy="395.8" rx="5.2" ry="1.95" transform="rotate(238 129.0 395.8)"/><ellipse cx="131.4" cy="389.6" rx="5.2" ry="1.95" transform="rotate(245 131.4 389.6)"/><ellipse cx="134.5" cy="383.8" rx="5.2" ry="1.95" transform="rotate(252 134.5 383.8)"/><ellipse cx="138.3" cy="378.5" rx="5.2" ry="1.95" transform="rotate(259 138.3 378.5)"/><ellipse cx="142.8" cy="373.6" rx="5.2" ry="1.95" transform="rotate(266 142.8 373.6)"/><ellipse cx="147.8" cy="369.3" rx="5.2" ry="1.95" transform="rotate(273 147.8 369.3)"/><ellipse cx="153.3" cy="365.7" rx="5.2" ry="1.95" transform="rotate(280 153.3 365.7)"/><ellipse cx="159.1" cy="362.7" rx="5.2" ry="1.95" transform="rotate(287 159.1 362.7)"/><ellipse cx="165.4" cy="360.5" rx="5.2" ry="1.95" transform="rotate(294 165.4 360.5)"/><ellipse cx="171.8" cy="359.1" rx="5.2" ry="1.95" transform="rotate(301 171.8 359.1)"/><ellipse cx="178.4" cy="358.5" rx="5.2" ry="1.95" transform="rotate(308 178.4 358.5)"/><ellipse cx="184.9" cy="358.7" rx="5.2" ry="1.95" transform="rotate(315 184.9 358.7)"/><ellipse cx="191.4" cy="359.7" rx="5.2" ry="1.95" transform="rotate(322 191.4 359.7)"/><ellipse cx="197.8" cy="361.5" rx="5.2" ry="1.95" transform="rotate(329 197.8 361.5)"/><ellipse cx="203.8" cy="364.1" rx="5.2" ry="1.95" transform="rotate(336 203.8 364.1)"/><ellipse cx="209.6" cy="367.4" rx="5.2" ry="1.95" transform="rotate(344 209.6 367.4)"/><ellipse cx="214.8" cy="371.4" rx="5.2" ry="1.95" transform="rotate(351 214.8 371.4)"/><ellipse cx="219.5" cy="376.0" rx="5.2" ry="1.95" transform="rotate(358 219.5 376.0)"/><ellipse cx="223.7" cy="381.1" rx="5.2" ry="1.95" transform="rotate(365 223.7 381.1)"/><ellipse cx="227.1" cy="386.7" rx="5.2" ry="1.95" transform="rotate(372 227.1 386.7)"/><ellipse cx="229.9" cy="392.7" rx="5.2" ry="1.95" transform="rotate(379 229.9 392.7)"/><ellipse cx="231.9" cy="399.0" rx="5.2" ry="1.95" transform="rotate(386 231.9 399.0)"/><ellipse cx="233.1" cy="405.4" rx="5.2" ry="1.95" transform="rotate(393 233.1 405.4)"/></g>
<circle cx="180" cy="412" r="57.1" fill="none" stroke="#71738f" stroke-width="1.5"/>
<circle cx="180" cy="412" r="49.9" fill="none" stroke="#71738f" stroke-width="1.3"/>
<circle cx="180" cy="540.5" r="56.5" fill="#ffffff"/>
<circle cx="180" cy="540.5" r="53.5" fill="none" stroke="#71738f" stroke-width="8.6"/>
<g fill="#ffffff"><ellipse cx="233.5" cy="540.5" rx="5.2" ry="1.95" transform="rotate(40 233.5 540.5)"/><ellipse cx="233.1" cy="547.1" rx="5.2" ry="1.95" transform="rotate(47 233.1 547.1)"/><ellipse cx="231.9" cy="553.5" rx="5.2" ry="1.95" transform="rotate(54 231.9 553.5)"/><ellipse cx="229.9" cy="559.8" rx="5.2" ry="1.95" transform="rotate(61 229.9 559.8)"/><ellipse cx="227.1" cy="565.8" rx="5.2" ry="1.95" transform="rotate(68 227.1 565.8)"/><ellipse cx="223.7" cy="571.4" rx="5.2" ry="1.95" transform="rotate(75 223.7 571.4)"/><ellipse cx="219.5" cy="576.5" rx="5.2" ry="1.95" transform="rotate(82 219.5 576.5)"/><ellipse cx="214.8" cy="581.1" rx="5.2" ry="1.95" transform="rotate(89 214.8 581.1)"/><ellipse cx="209.6" cy="585.1" rx="5.2" ry="1.95" transform="rotate(96 209.6 585.1)"/><ellipse cx="203.8" cy="588.4" rx="5.2" ry="1.95" transform="rotate(104 203.8 588.4)"/><ellipse cx="197.8" cy="591.0" rx="5.2" ry="1.95" transform="rotate(111 197.8 591.0)"/><ellipse cx="191.4" cy="592.8" rx="5.2" ry="1.95" transform="rotate(118 191.4 592.8)"/><ellipse cx="184.9" cy="593.8" rx="5.2" ry="1.95" transform="rotate(125 184.9 593.8)"/><ellipse cx="178.4" cy="594.0" rx="5.2" ry="1.95" transform="rotate(132 178.4 594.0)"/><ellipse cx="171.8" cy="593.4" rx="5.2" ry="1.95" transform="rotate(139 171.8 593.4)"/><ellipse cx="165.4" cy="592.0" rx="5.2" ry="1.95" transform="rotate(146 165.4 592.0)"/><ellipse cx="159.1" cy="589.8" rx="5.2" ry="1.95" transform="rotate(153 159.1 589.8)"/><ellipse cx="153.2" cy="586.8" rx="5.2" ry="1.95" transform="rotate(160 153.2 586.8)"/><ellipse cx="147.8" cy="583.2" rx="5.2" ry="1.95" transform="rotate(167 147.8 583.2)"/><ellipse cx="142.8" cy="578.9" rx="5.2" ry="1.95" transform="rotate(174 142.8 578.9)"/><ellipse cx="138.3" cy="574.0" rx="5.2" ry="1.95" transform="rotate(181 138.3 574.0)"/><ellipse cx="134.5" cy="568.7" rx="5.2" ry="1.95" transform="rotate(188 134.5 568.7)"/><ellipse cx="131.4" cy="562.9" rx="5.2" ry="1.95" transform="rotate(195 131.4 562.9)"/><ellipse cx="129.0" cy="556.7" rx="5.2" ry="1.95" transform="rotate(202 129.0 556.7)"/><ellipse cx="127.4" cy="550.3" rx="5.2" ry="1.95" transform="rotate(209 127.4 550.3)"/><ellipse cx="126.6" cy="543.8" rx="5.2" ry="1.95" transform="rotate(216 126.6 543.8)"/><ellipse cx="126.6" cy="537.2" rx="5.2" ry="1.95" transform="rotate(224 126.6 537.2)"/><ellipse cx="127.4" cy="530.7" rx="5.2" ry="1.95" transform="rotate(231 127.4 530.7)"/><ellipse cx="129.0" cy="524.3" rx="5.2" ry="1.95" transform="rotate(238 129.0 524.3)"/><ellipse cx="131.4" cy="518.1" rx="5.2" ry="1.95" transform="rotate(245 131.4 518.1)"/><ellipse cx="134.5" cy="512.3" rx="5.2" ry="1.95" transform="rotate(252 134.5 512.3)"/><ellipse cx="138.3" cy="507.0" rx="5.2" ry="1.95" transform="rotate(259 138.3 507.0)"/><ellipse cx="142.8" cy="502.1" rx="5.2" ry="1.95" transform="rotate(266 142.8 502.1)"/><ellipse cx="147.8" cy="497.8" rx="5.2" ry="1.95" transform="rotate(273 147.8 497.8)"/><ellipse cx="153.3" cy="494.2" rx="5.2" ry="1.95" transform="rotate(280 153.3 494.2)"/><ellipse cx="159.1" cy="491.2" rx="5.2" ry="1.95" transform="rotate(287 159.1 491.2)"/><ellipse cx="165.4" cy="489.0" rx="5.2" ry="1.95" transform="rotate(294 165.4 489.0)"/><ellipse cx="171.8" cy="487.6" rx="5.2" ry="1.95" transform="rotate(301 171.8 487.6)"/><ellipse cx="178.4" cy="487.0" rx="5.2" ry="1.95" transform="rotate(308 178.4 487.0)"/><ellipse cx="184.9" cy="487.2" rx="5.2" ry="1.95" transform="rotate(315 184.9 487.2)"/><ellipse cx="191.4" cy="488.2" rx="5.2" ry="1.95" transform="rotate(322 191.4 488.2)"/><ellipse cx="197.8" cy="490.0" rx="5.2" ry="1.95" transform="rotate(329 197.8 490.0)"/><ellipse cx="203.8" cy="492.6" rx="5.2" ry="1.95" transform="rotate(336 203.8 492.6)"/><ellipse cx="209.6" cy="495.9" rx="5.2" ry="1.95" transform="rotate(344 209.6 495.9)"/><ellipse cx="214.8" cy="499.9" rx="5.2" ry="1.95" transform="rotate(351 214.8 499.9)"/><ellipse cx="219.5" cy="504.5" rx="5.2" ry="1.95" transform="rotate(358 219.5 504.5)"/><ellipse cx="223.7" cy="509.6" rx="5.2" ry="1.95" transform="rotate(365 223.7 509.6)"/><ellipse cx="227.1" cy="515.2" rx="5.2" ry="1.95" transform="rotate(372 227.1 515.2)"/><ellipse cx="229.9" cy="521.2" rx="5.2" ry="1.95" transform="rotate(379 229.9 521.2)"/><ellipse cx="231.9" cy="527.5" rx="5.2" ry="1.95" transform="rotate(386 231.9 527.5)"/><ellipse cx="233.1" cy="533.9" rx="5.2" ry="1.95" transform="rotate(393 233.1 533.9)"/></g>
<circle cx="180" cy="540.5" r="57.1" fill="none" stroke="#71738f" stroke-width="1.5"/>
<circle cx="180" cy="540.5" r="49.9" fill="none" stroke="#71738f" stroke-width="1.3"/>
<circle cx="180" cy="679" r="56.5" fill="#ffffff"/>
<circle cx="180" cy="679" r="53.5" fill="none" stroke="#71738f" stroke-width="8.6"/>
<g fill="#ffffff"><ellipse cx="233.5" cy="679.0" rx="5.2" ry="1.95" transform="rotate(40 233.5 679.0)"/><ellipse cx="233.1" cy="685.6" rx="5.2" ry="1.95" transform="rotate(47 233.1 685.6)"/><ellipse cx="231.9" cy="692.0" rx="5.2" ry="1.95" transform="rotate(54 231.9 692.0)"/><ellipse cx="229.9" cy="698.3" rx="5.2" ry="1.95" transform="rotate(61 229.9 698.3)"/><ellipse cx="227.1" cy="704.3" rx="5.2" ry="1.95" transform="rotate(68 227.1 704.3)"/><ellipse cx="223.7" cy="709.9" rx="5.2" ry="1.95" transform="rotate(75 223.7 709.9)"/><ellipse cx="219.5" cy="715.0" rx="5.2" ry="1.95" transform="rotate(82 219.5 715.0)"/><ellipse cx="214.8" cy="719.6" rx="5.2" ry="1.95" transform="rotate(89 214.8 719.6)"/><ellipse cx="209.6" cy="723.6" rx="5.2" ry="1.95" transform="rotate(96 209.6 723.6)"/><ellipse cx="203.8" cy="726.9" rx="5.2" ry="1.95" transform="rotate(104 203.8 726.9)"/><ellipse cx="197.8" cy="729.5" rx="5.2" ry="1.95" transform="rotate(111 197.8 729.5)"/><ellipse cx="191.4" cy="731.3" rx="5.2" ry="1.95" transform="rotate(118 191.4 731.3)"/><ellipse cx="184.9" cy="732.3" rx="5.2" ry="1.95" transform="rotate(125 184.9 732.3)"/><ellipse cx="178.4" cy="732.5" rx="5.2" ry="1.95" transform="rotate(132 178.4 732.5)"/><ellipse cx="171.8" cy="731.9" rx="5.2" ry="1.95" transform="rotate(139 171.8 731.9)"/><ellipse cx="165.4" cy="730.5" rx="5.2" ry="1.95" transform="rotate(146 165.4 730.5)"/><ellipse cx="159.1" cy="728.3" rx="5.2" ry="1.95" transform="rotate(153 159.1 728.3)"/><ellipse cx="153.2" cy="725.3" rx="5.2" ry="1.95" transform="rotate(160 153.2 725.3)"/><ellipse cx="147.8" cy="721.7" rx="5.2" ry="1.95" transform="rotate(167 147.8 721.7)"/><ellipse cx="142.8" cy="717.4" rx="5.2" ry="1.95" transform="rotate(174 142.8 717.4)"/><ellipse cx="138.3" cy="712.5" rx="5.2" ry="1.95" transform="rotate(181 138.3 712.5)"/><ellipse cx="134.5" cy="707.2" rx="5.2" ry="1.95" transform="rotate(188 134.5 707.2)"/><ellipse cx="131.4" cy="701.4" rx="5.2" ry="1.95" transform="rotate(195 131.4 701.4)"/><ellipse cx="129.0" cy="695.2" rx="5.2" ry="1.95" transform="rotate(202 129.0 695.2)"/><ellipse cx="127.4" cy="688.8" rx="5.2" ry="1.95" transform="rotate(209 127.4 688.8)"/><ellipse cx="126.6" cy="682.3" rx="5.2" ry="1.95" transform="rotate(216 126.6 682.3)"/><ellipse cx="126.6" cy="675.7" rx="5.2" ry="1.95" transform="rotate(224 126.6 675.7)"/><ellipse cx="127.4" cy="669.2" rx="5.2" ry="1.95" transform="rotate(231 127.4 669.2)"/><ellipse cx="129.0" cy="662.8" rx="5.2" ry="1.95" transform="rotate(238 129.0 662.8)"/><ellipse cx="131.4" cy="656.6" rx="5.2" ry="1.95" transform="rotate(245 131.4 656.6)"/><ellipse cx="134.5" cy="650.8" rx="5.2" ry="1.95" transform="rotate(252 134.5 650.8)"/><ellipse cx="138.3" cy="645.5" rx="5.2" ry="1.95" transform="rotate(259 138.3 645.5)"/><ellipse cx="142.8" cy="640.6" rx="5.2" ry="1.95" transform="rotate(266 142.8 640.6)"/><ellipse cx="147.8" cy="636.3" rx="5.2" ry="1.95" transform="rotate(273 147.8 636.3)"/><ellipse cx="153.3" cy="632.7" rx="5.2" ry="1.95" transform="rotate(280 153.3 632.7)"/><ellipse cx="159.1" cy="629.7" rx="5.2" ry="1.95" transform="rotate(287 159.1 629.7)"/><ellipse cx="165.4" cy="627.5" rx="5.2" ry="1.95" transform="rotate(294 165.4 627.5)"/><ellipse cx="171.8" cy="626.1" rx="5.2" ry="1.95" transform="rotate(301 171.8 626.1)"/><ellipse cx="178.4" cy="625.5" rx="5.2" ry="1.95" transform="rotate(308 178.4 625.5)"/><ellipse cx="184.9" cy="625.7" rx="5.2" ry="1.95" transform="rotate(315 184.9 625.7)"/><ellipse cx="191.4" cy="626.7" rx="5.2" ry="1.95" transform="rotate(322 191.4 626.7)"/><ellipse cx="197.8" cy="628.5" rx="5.2" ry="1.95" transform="rotate(329 197.8 628.5)"/><ellipse cx="203.8" cy="631.1" rx="5.2" ry="1.95" transform="rotate(336 203.8 631.1)"/><ellipse cx="209.6" cy="634.4" rx="5.2" ry="1.95" transform="rotate(344 209.6 634.4)"/><ellipse cx="214.8" cy="638.4" rx="5.2" ry="1.95" transform="rotate(351 214.8 638.4)"/><ellipse cx="219.5" cy="643.0" rx="5.2" ry="1.95" transform="rotate(358 219.5 643.0)"/><ellipse cx="223.7" cy="648.1" rx="5.2" ry="1.95" transform="rotate(365 223.7 648.1)"/><ellipse cx="227.1" cy="653.7" rx="5.2" ry="1.95" transform="rotate(372 227.1 653.7)"/><ellipse cx="229.9" cy="659.7" rx="5.2" ry="1.95" transform="rotate(379 229.9 659.7)"/><ellipse cx="231.9" cy="666.0" rx="5.2" ry="1.95" transform="rotate(386 231.9 666.0)"/><ellipse cx="233.1" cy="672.4" rx="5.2" ry="1.95" transform="rotate(393 233.1 672.4)"/></g>
<circle cx="180" cy="679" r="57.1" fill="none" stroke="#71738f" stroke-width="1.5"/>
<circle cx="180" cy="679" r="49.9" fill="none" stroke="#71738f" stroke-width="1.3"/>
<circle cx="558.7" cy="476.5" r="56.5" fill="#ffffff"/>
<circle cx="558.7" cy="476.5" r="53.5" fill="none" stroke="#71738f" stroke-width="8.6"/>
<g fill="#ffffff"><ellipse cx="612.2" cy="476.5" rx="5.2" ry="1.95" transform="rotate(40 612.2 476.5)"/><ellipse cx="611.8" cy="483.1" rx="5.2" ry="1.95" transform="rotate(47 611.8 483.1)"/><ellipse cx="610.6" cy="489.5" rx="5.2" ry="1.95" transform="rotate(54 610.6 489.5)"/><ellipse cx="608.6" cy="495.8" rx="5.2" ry="1.95" transform="rotate(61 608.6 495.8)"/><ellipse cx="605.8" cy="501.8" rx="5.2" ry="1.95" transform="rotate(68 605.8 501.8)"/><ellipse cx="602.4" cy="507.4" rx="5.2" ry="1.95" transform="rotate(75 602.4 507.4)"/><ellipse cx="598.2" cy="512.5" rx="5.2" ry="1.95" transform="rotate(82 598.2 512.5)"/><ellipse cx="593.5" cy="517.1" rx="5.2" ry="1.95" transform="rotate(89 593.5 517.1)"/><ellipse cx="588.3" cy="521.1" rx="5.2" ry="1.95" transform="rotate(96 588.3 521.1)"/><ellipse cx="582.5" cy="524.4" rx="5.2" ry="1.95" transform="rotate(104 582.5 524.4)"/><ellipse cx="576.5" cy="527.0" rx="5.2" ry="1.95" transform="rotate(111 576.5 527.0)"/><ellipse cx="570.1" cy="528.8" rx="5.2" ry="1.95" transform="rotate(118 570.1 528.8)"/><ellipse cx="563.6" cy="529.8" rx="5.2" ry="1.95" transform="rotate(125 563.6 529.8)"/><ellipse cx="557.1" cy="530.0" rx="5.2" ry="1.95" transform="rotate(132 557.1 530.0)"/><ellipse cx="550.5" cy="529.4" rx="5.2" ry="1.95" transform="rotate(139 550.5 529.4)"/><ellipse cx="544.1" cy="528.0" rx="5.2" ry="1.95" transform="rotate(146 544.1 528.0)"/><ellipse cx="537.8" cy="525.8" rx="5.2" ry="1.95" transform="rotate(153 537.8 525.8)"/><ellipse cx="532.0" cy="522.8" rx="5.2" ry="1.95" transform="rotate(160 532.0 522.8)"/><ellipse cx="526.5" cy="519.2" rx="5.2" ry="1.95" transform="rotate(167 526.5 519.2)"/><ellipse cx="521.5" cy="514.9" rx="5.2" ry="1.95" transform="rotate(174 521.5 514.9)"/><ellipse cx="517.0" cy="510.0" rx="5.2" ry="1.95" transform="rotate(181 517.0 510.0)"/><ellipse cx="513.2" cy="504.7" rx="5.2" ry="1.95" transform="rotate(188 513.2 504.7)"/><ellipse cx="510.1" cy="498.9" rx="5.2" ry="1.95" transform="rotate(195 510.1 498.9)"/><ellipse cx="507.7" cy="492.7" rx="5.2" ry="1.95" transform="rotate(202 507.7 492.7)"/><ellipse cx="506.1" cy="486.3" rx="5.2" ry="1.95" transform="rotate(209 506.1 486.3)"/><ellipse cx="505.3" cy="479.8" rx="5.2" ry="1.95" transform="rotate(216 505.3 479.8)"/><ellipse cx="505.3" cy="473.2" rx="5.2" ry="1.95" transform="rotate(224 505.3 473.2)"/><ellipse cx="506.1" cy="466.7" rx="5.2" ry="1.95" transform="rotate(231 506.1 466.7)"/><ellipse cx="507.7" cy="460.3" rx="5.2" ry="1.95" transform="rotate(238 507.7 460.3)"/><ellipse cx="510.1" cy="454.1" rx="5.2" ry="1.95" transform="rotate(245 510.1 454.1)"/><ellipse cx="513.2" cy="448.3" rx="5.2" ry="1.95" transform="rotate(252 513.2 448.3)"/><ellipse cx="517.0" cy="443.0" rx="5.2" ry="1.95" transform="rotate(259 517.0 443.0)"/><ellipse cx="521.5" cy="438.1" rx="5.2" ry="1.95" transform="rotate(266 521.5 438.1)"/><ellipse cx="526.5" cy="433.8" rx="5.2" ry="1.95" transform="rotate(273 526.5 433.8)"/><ellipse cx="532.0" cy="430.2" rx="5.2" ry="1.95" transform="rotate(280 532.0 430.2)"/><ellipse cx="537.8" cy="427.2" rx="5.2" ry="1.95" transform="rotate(287 537.8 427.2)"/><ellipse cx="544.1" cy="425.0" rx="5.2" ry="1.95" transform="rotate(294 544.1 425.0)"/><ellipse cx="550.5" cy="423.6" rx="5.2" ry="1.95" transform="rotate(301 550.5 423.6)"/><ellipse cx="557.1" cy="423.0" rx="5.2" ry="1.95" transform="rotate(308 557.1 423.0)"/><ellipse cx="563.6" cy="423.2" rx="5.2" ry="1.95" transform="rotate(315 563.6 423.2)"/><ellipse cx="570.1" cy="424.2" rx="5.2" ry="1.95" transform="rotate(322 570.1 424.2)"/><ellipse cx="576.5" cy="426.0" rx="5.2" ry="1.95" transform="rotate(329 576.5 426.0)"/><ellipse cx="582.5" cy="428.6" rx="5.2" ry="1.95" transform="rotate(336 582.5 428.6)"/><ellipse cx="588.3" cy="431.9" rx="5.2" ry="1.95" transform="rotate(344 588.3 431.9)"/><ellipse cx="593.5" cy="435.9" rx="5.2" ry="1.95" transform="rotate(351 593.5 435.9)"/><ellipse cx="598.2" cy="440.5" rx="5.2" ry="1.95" transform="rotate(358 598.2 440.5)"/><ellipse cx="602.4" cy="445.6" rx="5.2" ry="1.95" transform="rotate(365 602.4 445.6)"/><ellipse cx="605.8" cy="451.2" rx="5.2" ry="1.95" transform="rotate(372 605.8 451.2)"/><ellipse cx="608.6" cy="457.2" rx="5.2" ry="1.95" transform="rotate(379 608.6 457.2)"/><ellipse cx="610.6" cy="463.5" rx="5.2" ry="1.95" transform="rotate(386 610.6 463.5)"/><ellipse cx="611.8" cy="469.9" rx="5.2" ry="1.95" transform="rotate(393 611.8 469.9)"/></g>
<circle cx="558.7" cy="476.5" r="57.1" fill="none" stroke="#71738f" stroke-width="1.5"/>
<circle cx="558.7" cy="476.5" r="49.9" fill="none" stroke="#71738f" stroke-width="1.3"/>
<circle cx="560.7" cy="634" r="56.5" fill="#ffffff"/>
<circle cx="560.7" cy="634" r="53.5" fill="none" stroke="#71738f" stroke-width="8.6"/>
<g fill="#ffffff"><ellipse cx="614.2" cy="634.0" rx="5.2" ry="1.95" transform="rotate(40 614.2 634.0)"/><ellipse cx="613.8" cy="640.6" rx="5.2" ry="1.95" transform="rotate(47 613.8 640.6)"/><ellipse cx="612.6" cy="647.0" rx="5.2" ry="1.95" transform="rotate(54 612.6 647.0)"/><ellipse cx="610.6" cy="653.3" rx="5.2" ry="1.95" transform="rotate(61 610.6 653.3)"/><ellipse cx="607.8" cy="659.3" rx="5.2" ry="1.95" transform="rotate(68 607.8 659.3)"/><ellipse cx="604.4" cy="664.9" rx="5.2" ry="1.95" transform="rotate(75 604.4 664.9)"/><ellipse cx="600.2" cy="670.0" rx="5.2" ry="1.95" transform="rotate(82 600.2 670.0)"/><ellipse cx="595.5" cy="674.6" rx="5.2" ry="1.95" transform="rotate(89 595.5 674.6)"/><ellipse cx="590.3" cy="678.6" rx="5.2" ry="1.95" transform="rotate(96 590.3 678.6)"/><ellipse cx="584.5" cy="681.9" rx="5.2" ry="1.95" transform="rotate(104 584.5 681.9)"/><ellipse cx="578.5" cy="684.5" rx="5.2" ry="1.95" transform="rotate(111 578.5 684.5)"/><ellipse cx="572.1" cy="686.3" rx="5.2" ry="1.95" transform="rotate(118 572.1 686.3)"/><ellipse cx="565.6" cy="687.3" rx="5.2" ry="1.95" transform="rotate(125 565.6 687.3)"/><ellipse cx="559.1" cy="687.5" rx="5.2" ry="1.95" transform="rotate(132 559.1 687.5)"/><ellipse cx="552.5" cy="686.9" rx="5.2" ry="1.95" transform="rotate(139 552.5 686.9)"/><ellipse cx="546.1" cy="685.5" rx="5.2" ry="1.95" transform="rotate(146 546.1 685.5)"/><ellipse cx="539.8" cy="683.3" rx="5.2" ry="1.95" transform="rotate(153 539.8 683.3)"/><ellipse cx="534.0" cy="680.3" rx="5.2" ry="1.95" transform="rotate(160 534.0 680.3)"/><ellipse cx="528.5" cy="676.7" rx="5.2" ry="1.95" transform="rotate(167 528.5 676.7)"/><ellipse cx="523.5" cy="672.4" rx="5.2" ry="1.95" transform="rotate(174 523.5 672.4)"/><ellipse cx="519.0" cy="667.5" rx="5.2" ry="1.95" transform="rotate(181 519.0 667.5)"/><ellipse cx="515.2" cy="662.2" rx="5.2" ry="1.95" transform="rotate(188 515.2 662.2)"/><ellipse cx="512.1" cy="656.4" rx="5.2" ry="1.95" transform="rotate(195 512.1 656.4)"/><ellipse cx="509.7" cy="650.2" rx="5.2" ry="1.95" transform="rotate(202 509.7 650.2)"/><ellipse cx="508.1" cy="643.8" rx="5.2" ry="1.95" transform="rotate(209 508.1 643.8)"/><ellipse cx="507.3" cy="637.3" rx="5.2" ry="1.95" transform="rotate(216 507.3 637.3)"/><ellipse cx="507.3" cy="630.7" rx="5.2" ry="1.95" transform="rotate(224 507.3 630.7)"/><ellipse cx="508.1" cy="624.2" rx="5.2" ry="1.95" transform="rotate(231 508.1 624.2)"/><ellipse cx="509.7" cy="617.8" rx="5.2" ry="1.95" transform="rotate(238 509.7 617.8)"/><ellipse cx="512.1" cy="611.6" rx="5.2" ry="1.95" transform="rotate(245 512.1 611.6)"/><ellipse cx="515.2" cy="605.8" rx="5.2" ry="1.95" transform="rotate(252 515.2 605.8)"/><ellipse cx="519.0" cy="600.5" rx="5.2" ry="1.95" transform="rotate(259 519.0 600.5)"/><ellipse cx="523.5" cy="595.6" rx="5.2" ry="1.95" transform="rotate(266 523.5 595.6)"/><ellipse cx="528.5" cy="591.3" rx="5.2" ry="1.95" transform="rotate(273 528.5 591.3)"/><ellipse cx="534.0" cy="587.7" rx="5.2" ry="1.95" transform="rotate(280 534.0 587.7)"/><ellipse cx="539.8" cy="584.7" rx="5.2" ry="1.95" transform="rotate(287 539.8 584.7)"/><ellipse cx="546.1" cy="582.5" rx="5.2" ry="1.95" transform="rotate(294 546.1 582.5)"/><ellipse cx="552.5" cy="581.1" rx="5.2" ry="1.95" transform="rotate(301 552.5 581.1)"/><ellipse cx="559.1" cy="580.5" rx="5.2" ry="1.95" transform="rotate(308 559.1 580.5)"/><ellipse cx="565.6" cy="580.7" rx="5.2" ry="1.95" transform="rotate(315 565.6 580.7)"/><ellipse cx="572.1" cy="581.7" rx="5.2" ry="1.95" transform="rotate(322 572.1 581.7)"/><ellipse cx="578.5" cy="583.5" rx="5.2" ry="1.95" transform="rotate(329 578.5 583.5)"/><ellipse cx="584.5" cy="586.1" rx="5.2" ry="1.95" transform="rotate(336 584.5 586.1)"/><ellipse cx="590.3" cy="589.4" rx="5.2" ry="1.95" transform="rotate(344 590.3 589.4)"/><ellipse cx="595.5" cy="593.4" rx="5.2" ry="1.95" transform="rotate(351 595.5 593.4)"/><ellipse cx="600.2" cy="598.0" rx="5.2" ry="1.95" transform="rotate(358 600.2 598.0)"/><ellipse cx="604.4" cy="603.1" rx="5.2" ry="1.95" transform="rotate(365 604.4 603.1)"/><ellipse cx="607.8" cy="608.7" rx="5.2" ry="1.95" transform="rotate(372 607.8 608.7)"/><ellipse cx="610.6" cy="614.7" rx="5.2" ry="1.95" transform="rotate(379 610.6 614.7)"/><ellipse cx="612.6" cy="621.0" rx="5.2" ry="1.95" transform="rotate(386 612.6 621.0)"/><ellipse cx="613.8" cy="627.4" rx="5.2" ry="1.95" transform="rotate(393 613.8 627.4)"/></g>
<circle cx="560.7" cy="634" r="57.1" fill="none" stroke="#71738f" stroke-width="1.5"/>
<circle cx="560.7" cy="634" r="49.9" fill="none" stroke="#71738f" stroke-width="1.3"/>
<g stroke="#8a8ca8" stroke-width="0.8" stroke-linejoin="round">
<path d="M180,406.8 L191.3,398.2 L205.5,406.6 Z" fill="#9c9eb8"/>
<path d="M164,410.6 L173,400.5 L182,403.8 L182,407.5 Z" fill="#9c9eb8"/>
<path d="M139.5,418.5 L145.3,412.2 L161.5,411.5 L157,414 Z" fill="#9c9eb8"/>
<path d="M142.9,430.5 L148.4,438 L159.5,436.4 L154,433.5 Z" fill="#9c9eb8"/>
<path d="M168,438.5 L172,445.5 L190,443.5 L184,440.5 Z" fill="#9c9eb8"/>
<path d="M131.5,421 L117.3,410.2 C116.5,419 117.5,429 119.8,438.6 L133,429.2 Z" fill="#e8e8ef"/>
<path d="M130.5,420.5 C137,418 150,414.3 165,410.5 C180,407 195,405.8 205,406.3 C215,407.5 224,411 230,414.5 C236,418 240,421 242.2,423.5 C239,427 234,430.5 228.5,432.5 C222,435.5 212,439 201,441 C190,442.5 178,442 167,438.6 C155,435 142,431.5 132.5,429.2 Z" fill="#e7e7ef"/>
<pattern id="stip" width="3.2" height="2.8" patternUnits="userSpaceOnUse"><circle cx="0.8" cy="0.7" r="0.4" fill="#8d8fab"/><circle cx="2.4" cy="2.1" r="0.35" fill="#8d8fab"/></pattern>
<path d="M130.5,420.5 C137,418 150,414.3 165,410.5 C180,407 195,405.8 205,406.3 C215,407.5 224,411 230,414.5 C236,418 240,421 242.2,423.5 C239,427 234,430.5 228.5,432.5 C222,435.5 212,439 201,441 C190,442.5 178,442 167,438.6 C155,435 142,431.5 132.5,429.2 Z" fill="url(#stip)" stroke="none" opacity="0.35"/>
<path d="M133,422.8 C150,416.5 170,411.8 190,410.3 C205,409.6 218,411 226,414 C215,415.8 200,416.8 188,418 C168,420 150,422.5 133,426 Z" fill="#aeb0c7" stroke="none"/>
<path d="M133,426 C150,422.5 168,420 188,418 C200,416.8 215,415.8 226,414 C230,416 233,418 235,420" fill="none" stroke="#c4c5d6" stroke-width="0.6"/>
<path d="M196.8,421.1 C203,421.5 209,422.5 211.8,424.3 L211,429.8 C206,428.8 202.5,427.8 200.8,426.7 Z" fill="#a5a7c0"/>
<path d="M215.8,420.3 C217.2,423.5 216.8,426.5 215,429 L224.5,433.8" fill="none"/>
<circle cx="229.7" cy="420.3" r="3.1" fill="#c9cadb"/>
<circle cx="229.9" cy="420.1" r="1.6" fill="#55577a" stroke="none"/>
</g>
<g stroke-linejoin="round" stroke-linecap="round">
<g fill="none" stroke="#6f9c8f" stroke-width="0.6">
<path d="M510.5,469.7 L485,480.7 L491.8,494 M485,480.7 L507,491 M510.5,469.7 L563.9,461 M563.9,449.3 L603.8,465.5 L615,479 M513,463 L537.6,480"/>
</g>
<path d="M507,468 L525.5,468 L525.5,471.4 L507,471.4 Z" fill="#d5e4df" stroke="#2f6b5b" stroke-width="0.8"/>
<path d="M510.5,471.4 L508.8,491 M523.2,471.4 L524.9,489.2 M510,480 L524,480" fill="none" stroke="#2f6b5b" stroke-width="1"/>
<path d="M512.6,462 L512.6,468" stroke="#2f6b5b" stroke-width="1"/>
<path d="M524.9,488.4 L531,482 L537.6,479.9 L539,484" fill="none" stroke="#2f6b5b" stroke-width="0.9"/>
<path d="M524.9,489.5 C540,487 552,485 564.8,482.4 L600,481.2 L606,486.5 C580,488 550,489.5 524.9,491 Z" fill="#ffffff" stroke="#2f6b5b" stroke-width="0.7"/>
<path d="M563,482.4 L563.6,462 L569,462 L569.8,482.4 Z" fill="#ffffff" stroke="#2f6b5b" stroke-width="0.8"/>
<path d="M563.9,449.3 L566.3,462" stroke="#2f6b5b" stroke-width="1.3"/>
<path d="M569.8,481.6 L569.8,472.2 L593.6,472.2 L595.3,481.6 Z" fill="#ffffff" stroke="#2f6b5b" stroke-width="0.8"/>
<path d="M571.5,474.2 L592.5,474.2 L592.8,476.3 L571.5,476.3 Z" fill="#bcd3cb" stroke="none"/>
<path d="M576.6,472.2 L576.6,460.5 L580,460.5 L580,472.2 M582.6,472.2 L582.6,463 L585.3,463 L585.3,472.2" fill="#ffffff" stroke="#2f6b5b" stroke-width="0.8"/>
<path d="M575.5,460.5 L581,460.5 M581.8,463 L586,463" stroke="#2f6b5b" stroke-width="1"/>
<path d="M586.8,479 L602,479.8 L602,482.4 L586.8,482.4 Z" fill="#ffffff" stroke="#2f6b5b" stroke-width="0.7"/>
<path d="M491.5,493.5 C520,490.5 570,487.5 600,482.5 C612,480.5 620,478.5 627.8,477 C624,486 620,493 614,499.5 C580,503 530,505 492.5,506.5 Z" fill="#2f6b5b"/>
<path d="M492.5,499.3 C530,498 580,496.5 617.5,494 C616.5,496 615.5,497.5 614.5,498.8 C580,501.5 530,503.3 492.8,504.8 Z" fill="#ececf2"/>
<g fill="#8fb3a7"><circle cx="555" cy="494" r="0.8"/><circle cx="566" cy="493.3" r="0.8"/><circle cx="577" cy="492.6" r="0.8"/><circle cx="588" cy="491.8" r="0.8"/><circle cx="599" cy="491" r="0.8"/><circle cx="610" cy="489.5" r="0.8"/></g>
</g>
<g stroke-linejoin="round" stroke-linecap="round">
<g fill="none" stroke="#8fd0d6" stroke-width="0.6">
<path d="M514,626 L567,620 M567.8,606.9 L617,615.4 M514,626 L500,640"/>
</g>
<path d="M510,626.5 L524,626.5 L524,629.5 L510,629.5 Z" fill="#d7f0f2" stroke="#1e9aa6" stroke-width="0.8"/>
<path d="M513,629.5 L511.8,647 M522,629.5 L527.9,646 M512,638 L525,638" fill="none" stroke="#1e9aa6" stroke-width="1"/>
<path d="M514.5,626.5 L514.5,619" stroke="#1e9aa6" stroke-width="1"/>
<path d="M527,646.5 C545,643.5 560,641.5 576,638.5 L602,638 L607,643 C580,645.5 550,647.5 527,649 Z" fill="#ffffff" stroke="#1e9aa6" stroke-width="0.7"/>
<path d="M567,638 L568,619.5 L574,619.5 L576,638 Z" fill="#ffffff" stroke="#1e9aa6" stroke-width="0.8"/>
<path d="M567.8,606.9 L571,619.5" stroke="#1e9aa6" stroke-width="1.3"/>
<path d="M575,637.5 L576,631.5 L599,631 L601.7,637.5 Z" fill="#ffffff" stroke="#1e9aa6" stroke-width="0.8"/>
<path d="M577.5,633.2 L598.5,633 L599,635 L577.5,635.2 Z" fill="#bfe6ea" stroke="none"/>
<path d="M581,631.5 L581,617.5 L585,617.5 L585,631.5 M587,631.5 L587,620.5 L590.5,620.5 L590.5,631.5" fill="#ffffff" stroke="#1e9aa6" stroke-width="0.8"/>
<path d="M580,617.5 L586,617.5 M586,620.5 L591.5,620.5" stroke="#1e9aa6" stroke-width="1"/>
<path d="M601,636 L611,635.8 L611,638.5 L601,638.8 Z" fill="#ffffff" stroke="#1e9aa6" stroke-width="0.7"/>
<path d="M617,615.4 L619.5,634.5 M615,616 L620,615" stroke="#1e9aa6" stroke-width="1.1"/>
<path d="M493.5,650.5 C530,647.5 580,643.5 610,638.5 C620,637 627,635.5 633.8,634.3 C630,642 626,649 620,655.5 C580,659 530,662 494.5,664 Z" fill="#2bb2bf"/>
<path d="M494.5,657.5 C530,655.5 580,652.5 623,649.5 C622.3,651.2 621.6,652.3 621,653.3 C580,657 530,660 494.5,662.3 Z" fill="#f1f2f6"/>
<g fill="#9adfe5"><circle cx="560" cy="650.3" r="0.8"/><circle cx="572" cy="649.4" r="0.8"/><circle cx="584" cy="648.4" r="0.8"/><circle cx="596" cy="647.3" r="0.8"/><circle cx="608" cy="646" r="0.8"/></g>
</g>
<rect x="125.0" y="446" width="111.9" height="30" rx="6" fill="#b9bac4" fill-opacity="0.6"/>
<rect x="123.5" y="444" width="111.9" height="30" rx="6" fill="#7f8299"/>
<text x="163.3" y="464.9" font-size="17" fill="#ffffff" font-weight="400" text-anchor="start" textLength="35.3" lengthAdjust="spacingAndGlyphs" >Peces</text>
<rect x="125.0" y="573" width="111.9" height="30.700000000000045" rx="6" fill="#b9bac4" fill-opacity="0.6"/>
<rect x="123.5" y="571" width="111.9" height="30.700000000000045" rx="6" fill="#7f8299"/>
<text x="144.3" y="590.8" font-size="17" fill="#ffffff" font-weight="400" text-anchor="start" textLength="65.2" lengthAdjust="spacingAndGlyphs" >Crustáceos</text>
<rect x="125.0" y="713" width="111.9" height="29.799999999999955" rx="6" fill="#b9bac4" fill-opacity="0.6"/>
<rect x="123.5" y="711" width="111.9" height="29.799999999999955" rx="6" fill="#7f8299"/>
<text x="151.6" y="729.9" font-size="17" fill="#ffffff" font-weight="400" text-anchor="start" textLength="55.2" lengthAdjust="spacingAndGlyphs" >Moluscos</text>
<rect x="493.8" y="505" width="131.7" height="34.700000000000045" rx="6" fill="#b9bac4" fill-opacity="0.6"/>
<rect x="492.3" y="503" width="131.7" height="34.700000000000045" rx="6" fill="#7f8299"/>
<text x="502.0" y="525.2" font-size="17" fill="#ffffff" font-weight="400" text-anchor="start" textLength="111.5" lengthAdjust="spacingAndGlyphs" >Buques fresqueros</text>
<rect x="496.9" y="663.2" width="131.70000000000005" height="34.59999999999991" rx="6" fill="#b9bac4" fill-opacity="0.6"/>
<rect x="495.4" y="661.2" width="131.70000000000005" height="34.59999999999991" rx="6" fill="#7f8299"/>
<text x="498.3" y="682.3" font-size="17" fill="#ffffff" font-weight="400" text-anchor="start" textLength="126.3" lengthAdjust="spacingAndGlyphs" >Buques congeladores</text>
<g stroke-linejoin="round" stroke-linecap="round">
<path d="M149,549 C150,557.5 145,559.5 145,566 M154,547 C155,556.0 152,558.0 152,565 M159,546 C160,554.5 160,556.5 160,563 M166,545 C167,553.0 166,555.0 166,561 M171,543.5 C172,553.25 170.5,555.25 170.5,563 M177,542.5 C178,552.75 179,554.75 179,563 M183,541.5 C184,551.75 187.5,553.75 187.5,562 M188,540.5 C189,552.0 195.5,554.0 195.5,563.5 M194,539.5 C195,542.5 198,544.5 198,545.5 " fill="none" stroke="#e6533a" stroke-width="2"/>
<path d="M149,549 C150,557.5 145,559.5 145,566 M154,547 C155,556.0 152,558.0 152,565 M159,546 C160,554.5 160,556.5 160,563 M166,545 C167,553.0 166,555.0 166,561 M171,543.5 C172,553.25 170.5,555.25 170.5,563 M177,542.5 C178,552.75 179,554.75 179,563 M183,541.5 C184,551.75 187.5,553.75 187.5,562 M188,540.5 C189,552.0 195.5,554.0 195.5,563.5 M194,539.5 C195,542.5 198,544.5 198,545.5 " fill="none" stroke="#c23f29" stroke-width="0.4"/>
<g fill="none" stroke="#e0604c" stroke-width="0.7">
<path d="M210,527.8 C213,524 216,519.5 219.5,519.1 C224,518.5 230,518.5 238,519.5"/>
<path d="M195.8,535.8 C200,536.5 204,537 207.6,538.1 C211,539.5 214,542.5 217.9,543.3 C221,543 224,541 225.8,538.9 C228.5,535 230,532 232.2,530.2 C235,528.5 237,528 240.5,527.5"/>
</g>
<path d="M213.2,530.8 C208,528 200,524 191.8,522.3 C180,520.5 167,520 151.6,522.1 C140,524.5 130,531 124,540 C119,548 117.5,558 117.9,568 C118.5,578 122,586 128,591 L135,593.5 L138.1,591.7 C137.3,584 137.3,576 137.3,568 C137.5,560 139.5,553 145,548.3 C150,545 156,544.5 163,543.8 C172,543.3 180,541.3 191.8,537.3 C199,534.5 206,532.5 213.2,530.8 Z" fill="#e6533a" stroke="#c23f29" stroke-width="0.6"/>
<path d="M135,592 L145.3,590.5 L156.3,595.5 L157,604 L151.6,611 L142,605 Z" fill="#e6533a" stroke="#c23f29" stroke-width="0.6"/>
<path d="M138,594 L152,608 M141,592 L155,604 M145,591 L156,599" fill="none" stroke="#c23f29" stroke-width="0.5"/>
<path d="M127,538 C133,530 141,525.5 151,523.8 C162,522.5 176,522.3 192,524 C182,526 170,526.2 156,527.5 C146,529 138,533 132.5,539.5 C128,547 126,556 125.5,566 C124,556 124,546 127,538 Z" fill="#f49c80"/>
<g fill="none" stroke="#c23f29" stroke-width="0.7">
<path d="M151.6,522.3 C154,530 155.5,538 156,545"/><path d="M136,528.5 C140,535 144,541 146,548"/>
<path d="M125,539 C131,544 136,550 139.5,555.5"/><path d="M118.5,553 C125,555 132,557 137.5,560"/>
<path d="M118,567 C125,568 131,569 137.3,570"/><path d="M120,580 C126,580 132,580.5 137.3,582"/>
<path d="M125,588 C130,588 134.5,589 138,591"/>
</g>
<circle cx="204.5" cy="527" r="1.6" fill="#3b1812"/>
</g>
<g stroke="#5a1f2b" stroke-width="0.8" stroke-linejoin="round" stroke-linecap="round">
<path d="M161,688 C153,692 143,696 132,700.5" fill="none" stroke="#5a1f2b" stroke-width="3"/>
<path d="M161,688 C153,692 143,696 132,700.5" fill="none" stroke="#1f8e8a" stroke-width="1.6"/>
<path d="M134,699.5 C127,700.5 119,703.5 110.4,708.8 C118,711 126,709 133,704 C134.5,702.5 135,701 134,699.5 Z" fill="#1f8e8a"/>
<path d="M113,708.3 C119,706 125,704.5 131,703.5" fill="none" stroke="#a6ddd2" stroke-width="1.1" stroke-dasharray="1 0.8"/>
<path d="M159,693 C153,699 146,705 139,711.5" fill="none" stroke="#5a1f2b" stroke-width="3"/>
<path d="M159,693 C153,699 146,705 139,711.5" fill="none" stroke="#1f8e8a" stroke-width="1.6"/>
<path d="M141,709.5 C135,714.5 129,722 124,730.5 C130,728.5 137,723 141.5,716 C143,713.5 143,711 141,709.5 Z" fill="#1f8e8a"/>
<path d="M126,728 C130,722.5 134,717.5 139,713.5" fill="none" stroke="#a6ddd2" stroke-width="1.1" stroke-dasharray="1 0.8"/>
<path d="M164,677.5 C157,675.5 151,673.5 147.5,671 C146,669.5 145.6,667.5 145.5,666 C143.5,668.5 143.8,672.5 146.5,675 C151,678.5 157,680.5 163,682 Z" fill="#1f8e8a"/>
<path d="M164,681.5 C156,681 147,679.5 135.8,677.8 C139,681.5 144.5,684.5 151,685.5 C156,686.2 160.5,686.2 164,686 Z" fill="#1f8e8a"/>
<path d="M140,680.5 C145,682.8 151,684 157,684.3" fill="none" stroke="#a6ddd2" stroke-width="1.1" stroke-dasharray="1 0.8"/>
<path d="M164,685.5 C157,687.5 148,688.5 139.4,688.9 C145,692.2 153,692.3 160,690.5 Z" fill="#1f8e8a"/>
<path d="M162,689 C159.5,696 157.5,704 155.7,715.2 C160,710 163,702 166.5,692 Z" fill="#1f8e8a"/>
<path d="M160,697 C159,703 158,707.5 157,712" fill="none" stroke="#a6ddd2" stroke-width="1" stroke-dasharray="1 0.8"/>
<path d="M166,689.5 C164.5,696 165,703 167,710.5 C169,704 170,697 170.5,690 Z" fill="#1f8e8a"/>
<path d="M170.5,686 C172.5,693 174,700 176.5,707.9 C178,701 177,693 175.5,685.5 Z" fill="#1f8e8a"/>
<path d="M168.4,666.2 C162,669 158.5,675 159.5,681.5 C160.5,687 165.5,690.5 173.1,684.5 C179,680.5 184,678.5 186,677 C187,671 184,664 179.4,660.6 C175,662 171,664 168.4,666.2 Z" fill="#1f8e8a"/>
<path d="M179.4,660.6 C186,659 192,657 199,651 C206,645.6 212,640 219,636.1 C225,633.5 230,632.8 235.7,632.1 C234,636 232,639.5 230.1,642.4 C226,649 223,653 219,656.7 C213,663 208,667 201,672 C196,675 190,677 184.2,677.3 C186,671 184,665 179.4,660.6 Z" fill="#1f8e8a"/>
<path d="M214.3,637.7 L235.7,632.1 L225.4,645.6 C222,642 218,639.5 214.3,637.7 Z" fill="#38ada5"/>
<path d="M188,660 C198,655 208,648 218,641" fill="none" stroke="#38ada5" stroke-width="2.2"/>
<circle cx="177.9" cy="675.5" r="1.7" fill="#f2c9c9"/>
<circle cx="177.9" cy="675.5" r="0.7" fill="#5a1f2b" stroke="none"/>
</g>
<rect x="253.8" y="399.3" width="63.30000000000001" height="32.89999999999998" rx="16.44999999999999" fill="#c4c6c8" fill-opacity="0.8"/>
<rect x="251.8" y="397.3" width="63.30000000000001" height="32.89999999999998" rx="16.44999999999999" fill="#ffffff"/>
<text x="260.8" y="419.8" font-size="18.5" font-weight="700" fill="#1f4b9b"><tspan textLength="34.0" lengthAdjust="spacingAndGlyphs">23,4</tspan><tspan x="295.3" textLength="13.1" lengthAdjust="spacingAndGlyphs" font-weight="400" fill="#4f70b6">%</tspan></text>
<text x="283.5" y="444.4" font-size="14.5" fill="#1f4b9b" font-weight="700" text-anchor="middle" textLength="20.0" lengthAdjust="spacingAndGlyphs" >v.ia</text>
<rect x="327" y="399.3" width="64.89999999999998" height="32.89999999999998" rx="16.44999999999999" fill="#c4c6c8" fill-opacity="0.8"/>
<rect x="325" y="397.3" width="64.89999999999998" height="32.89999999999998" rx="16.44999999999999" fill="#ffffff"/>
<text x="343.2" y="419.8" font-size="18.5" font-weight="700" fill="#5f9fcb"><tspan textLength="24.0" lengthAdjust="spacingAndGlyphs">7,0</tspan><tspan x="367.7" textLength="13.1" lengthAdjust="spacingAndGlyphs" font-weight="400" fill="#84b5d6">%</tspan></text>
<text x="357.4" y="444.4" font-size="14.5" fill="#5f9fcb" font-weight="700" text-anchor="middle" textLength="20.0" lengthAdjust="spacingAndGlyphs" >v.ai</text>
<rect x="254.3" y="529.7" width="62.80000000000001" height="34.69999999999993" rx="17.349999999999966" fill="#c4c6c8" fill-opacity="0.8"/>
<rect x="252.3" y="527.7" width="62.80000000000001" height="34.69999999999993" rx="17.349999999999966" fill="#ffffff"/>
<text x="257.2" y="550.3" font-size="18.5" font-weight="700" fill="#1f4b9b"><tspan textLength="39.8" lengthAdjust="spacingAndGlyphs">-98,6</tspan><tspan x="297.5" textLength="13.1" lengthAdjust="spacingAndGlyphs" font-weight="400" fill="#4f70b6">%</tspan></text>
<text x="283.7" y="575.6" font-size="14.5" fill="#1f4b9b" font-weight="700" text-anchor="middle" textLength="20.0" lengthAdjust="spacingAndGlyphs" >v.ia</text>
<rect x="327" y="529.7" width="65" height="34.69999999999993" rx="17.349999999999966" fill="#c4c6c8" fill-opacity="0.8"/>
<rect x="325" y="527.7" width="65" height="34.69999999999993" rx="17.349999999999966" fill="#ffffff"/>
<text x="342.3" y="550.3" font-size="18.5" font-weight="700" fill="#5f9fcb"><tspan textLength="24.4" lengthAdjust="spacingAndGlyphs">6,4</tspan><tspan x="367.2" textLength="13.1" lengthAdjust="spacingAndGlyphs" font-weight="400" fill="#84b5d6">%</tspan></text>
<text x="357.5" y="575.6" font-size="14.5" fill="#5f9fcb" font-weight="700" text-anchor="middle" textLength="20.0" lengthAdjust="spacingAndGlyphs" >v.ai</text>
<rect x="251" y="665.6" width="64.30000000000001" height="34.39999999999998" rx="17.19999999999999" fill="#c4c6c8" fill-opacity="0.8"/>
<rect x="249" y="663.6" width="64.30000000000001" height="34.39999999999998" rx="17.19999999999999" fill="#ffffff"/>
<text x="251.8" y="687.1" font-size="16.5" font-weight="700" fill="#1f4b9b"><tspan textLength="48.6" lengthAdjust="spacingAndGlyphs">77.231,5</tspan><tspan x="300.9" textLength="11.5" lengthAdjust="spacingAndGlyphs" font-weight="400" fill="#4f70b6">%</tspan></text>
<text x="281.1" y="710.6" font-size="14.5" fill="#1f4b9b" font-weight="700" text-anchor="middle" textLength="20.0" lengthAdjust="spacingAndGlyphs" >v.ia</text>
<rect x="327" y="665.6" width="65" height="34.39999999999998" rx="17.19999999999999" fill="#c4c6c8" fill-opacity="0.8"/>
<rect x="325" y="663.6" width="65" height="34.39999999999998" rx="17.19999999999999" fill="#ffffff"/>
<text x="343.2" y="687.1" font-size="18.5" font-weight="700" fill="#5f9fcb"><tspan textLength="23.5" lengthAdjust="spacingAndGlyphs">5,7</tspan><tspan x="367.2" textLength="13.1" lengthAdjust="spacingAndGlyphs" font-weight="400" fill="#84b5d6">%</tspan></text>
<text x="357.5" y="710.6" font-size="14.5" fill="#5f9fcb" font-weight="700" text-anchor="middle" textLength="20.0" lengthAdjust="spacingAndGlyphs" >v.ai</text>
<rect x="637.4" y="461.4" width="63.80000000000007" height="34.60000000000002" rx="17.30000000000001" fill="#c4c6c8" fill-opacity="0.8"/>
<rect x="635.4" y="459.4" width="63.80000000000007" height="34.60000000000002" rx="17.30000000000001" fill="#ffffff"/>
<text x="652.7" y="482.5" font-size="18.5" font-weight="700" fill="#1f4b9b"><tspan textLength="23.9" lengthAdjust="spacingAndGlyphs">9,3</tspan><tspan x="677.1" textLength="13.1" lengthAdjust="spacingAndGlyphs" font-weight="400" fill="#4f70b6">%</tspan></text>
<text x="667.3" y="507.5" font-size="14.5" fill="#1f4b9b" font-weight="700" text-anchor="middle" textLength="20.0" lengthAdjust="spacingAndGlyphs" >v.ia</text>
<rect x="710.8" y="461.4" width="65.0" height="34.60000000000002" rx="17.30000000000001" fill="#c4c6c8" fill-opacity="0.8"/>
<rect x="708.8" y="459.4" width="65.0" height="34.60000000000002" rx="17.30000000000001" fill="#ffffff"/>
<text x="721.0" y="482.5" font-size="18.5" font-weight="700" fill="#5f9fcb"><tspan textLength="31.2" lengthAdjust="spacingAndGlyphs">-2,0</tspan><tspan x="752.7" textLength="13.1" lengthAdjust="spacingAndGlyphs" font-weight="400" fill="#84b5d6">%</tspan></text>
<text x="741.3" y="507.5" font-size="14.5" fill="#5f9fcb" font-weight="700" text-anchor="middle" textLength="20.0" lengthAdjust="spacingAndGlyphs" >v.ai</text>
<rect x="635.8" y="610" width="64.10000000000002" height="34.10000000000002" rx="17.05000000000001" fill="#c4c6c8" fill-opacity="0.8"/>
<rect x="633.8" y="608" width="64.10000000000002" height="34.10000000000002" rx="17.05000000000001" fill="#ffffff"/>
<text x="637.0" y="631.5" font-size="18.5" font-weight="700" fill="#1f4b9b"><tspan textLength="40.9" lengthAdjust="spacingAndGlyphs">-62,2</tspan><tspan x="678.4" textLength="13.1" lengthAdjust="spacingAndGlyphs" font-weight="400" fill="#4f70b6">%</tspan></text>
<text x="665.8" y="656.2" font-size="14.5" fill="#1f4b9b" font-weight="700" text-anchor="middle" textLength="20.0" lengthAdjust="spacingAndGlyphs" >v.ia</text>
<rect x="709.5" y="610" width="64.5" height="34.10000000000002" rx="17.05000000000001" fill="#c4c6c8" fill-opacity="0.8"/>
<rect x="707.5" y="608" width="64.5" height="34.10000000000002" rx="17.05000000000001" fill="#ffffff"/>
<text x="722.9" y="631.5" font-size="18.5" font-weight="700" fill="#5f9fcb"><tspan textLength="24.8" lengthAdjust="spacingAndGlyphs">8,9</tspan><tspan x="748.2" textLength="13.1" lengthAdjust="spacingAndGlyphs" font-weight="400" fill="#84b5d6">%</tspan></text>
<text x="739.8" y="656.2" font-size="14.5" fill="#5f9fcb" font-weight="700" text-anchor="middle" textLength="20.0" lengthAdjust="spacingAndGlyphs" >v.ai</text>
<rect x="145.9" y="818.8" width="36.1" height="16.9" rx="5.5" fill="#78b72b"/>
<text x="163.9" y="833.0" font-size="16.5" fill="#ffffff" font-weight="700" text-anchor="middle" textLength="24.5" lengthAdjust="spacingAndGlyphs" >v.im</text>
<rect x="393.4" y="818.8" width="36.6" height="16.9" rx="5.5" fill="#1d4f9f"/>
<text x="411.7" y="833.0" font-size="16.5" fill="#ffffff" font-weight="700" text-anchor="middle" textLength="24.9" lengthAdjust="spacingAndGlyphs" >v.ia</text>
<rect x="654.3" y="818.8" width="36.4" height="16.9" rx="5.5" fill="#5b9fcf"/>
<text x="672.5" y="833.0" font-size="16.5" fill="#ffffff" font-weight="700" text-anchor="middle" textLength="24.8" lengthAdjust="spacingAndGlyphs" >v.ai</text>
<text x="107.2" y="855.5" font-size="15" fill="#717171" font-weight="700" text-anchor="start" textLength="111.5" lengthAdjust="spacingAndGlyphs" >Desestacionalizado.</text>
<text x="107.2" y="872.7" font-size="15" fill="#717171" font-weight="700" text-anchor="start" textLength="129.4" lengthAdjust="spacingAndGlyphs" >Variación intermensual</text>
<text x="107.2" y="889.9" font-size="15" fill="#717171" font-weight="400" text-anchor="start" textLength="136.9" lengthAdjust="spacingAndGlyphs" >(respecto al mes anterior)</text>
<text x="356.3" y="855.5" font-size="15" fill="#717171" font-weight="700" text-anchor="start" textLength="110.4" lengthAdjust="spacingAndGlyphs" >Variación interanual</text>
<text x="356.3" y="872.7" font-size="15" fill="#717171" font-weight="400" text-anchor="start" textLength="102.3" lengthAdjust="spacingAndGlyphs" >(respecto al mismo</text>
<text x="356.3" y="889.9" font-size="15" fill="#717171" font-weight="400" text-anchor="start" textLength="113.7" lengthAdjust="spacingAndGlyphs" >mes del año anterior)</text>
<text x="582.4" y="855.5" font-size="15" fill="#717171" font-weight="700" text-anchor="start" textLength="177.6" lengthAdjust="spacingAndGlyphs" >Variación acumulada interanual</text>
<text x="582.4" y="872.7" font-size="15" fill="#717171" font-weight="400" text-anchor="start" textLength="164.6" lengthAdjust="spacingAndGlyphs" >(acumulado del año respecto a</text>
<text x="582.4" y="889.9" font-size="15" fill="#717171" font-weight="400" text-anchor="start" textLength="179.6" lengthAdjust="spacingAndGlyphs" >igual acumulado del año anterior)</text>
<text x="49.8" y="994.7" font-size="10.5" fill="#7a7a7a" font-weight="400" text-anchor="start" textLength="267.4" lengthAdjust="spacingAndGlyphs" >Fuente: INDEC, Índice de producción industrial pesquero.</text>
<text x="681.4" y="997.7" font-size="31" fill="#6b6b6b"><tspan textLength="80.4" lengthAdjust="spacingAndGlyphs" stroke="#6b6b6b" stroke-width="0.35">indec</tspan><tspan x="763.8" font-size="22" textLength="56" lengthAdjust="spacingAndGlyphs">.gob.ar</tspan></text>
</svg>
</body></html>
